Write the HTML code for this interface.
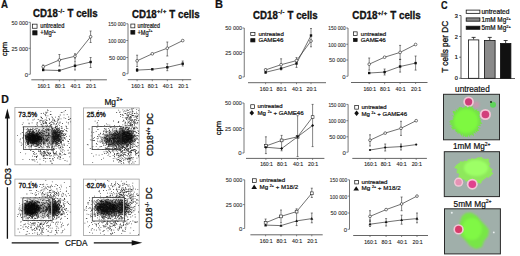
<!DOCTYPE html><html><head><meta charset="utf-8"><style>html,body{margin:0;padding:0;background:#fff;width:520px;height:256px;overflow:hidden}svg{display:block}</style></head><body>
<svg width="520" height="256" viewBox="0 0 520 256" font-family='"Liberation Sans", sans-serif'>
<style>text{stroke:#000;stroke-width:0.2px;paint-order:stroke}.h{stroke-width:0.3px}.t{stroke:#333;stroke-width:0.12px}</style>
<defs><filter id="bl" x="-30%" y="-30%" width="160%" height="160%"><feGaussianBlur stdDeviation="0.6"/></filter><filter id="bl2" x="-30%" y="-30%" width="160%" height="160%"><feGaussianBlur stdDeviation="1.2"/></filter><radialGradient id="pk" cx="50%" cy="50%" r="50%"><stop offset="0" stop-color="#e8407a"/><stop offset="0.55" stop-color="#e04a85"/><stop offset="0.75" stop-color="#f4a6c4"/><stop offset="1" stop-color="#f3c3d3" stop-opacity="0.2"/></radialGradient><radialGradient id="gr" cx="50%" cy="50%" r="50%"><stop offset="0" stop-color="#8dff55"/><stop offset="0.8" stop-color="#7cf83f"/><stop offset="1" stop-color="#76ef3e"/></radialGradient></defs>
<rect width="520" height="256" fill="#fff"/>
<text x="0.90" y="8.10" font-size="11" font-weight="bold" text-anchor="start" fill="#111" textLength="7.00" lengthAdjust="spacingAndGlyphs">A</text>
<text x="214.90" y="8.40" font-size="11" font-weight="bold" text-anchor="start" fill="#111" textLength="8.00" lengthAdjust="spacingAndGlyphs">B</text>
<text x="440.90" y="8.60" font-size="10.5" font-weight="bold" text-anchor="start" fill="#111" textLength="6.60" lengthAdjust="spacingAndGlyphs">C</text>
<text x="1.30" y="103.30" font-size="11" font-weight="bold" text-anchor="start" fill="#111" textLength="7.60" lengthAdjust="spacingAndGlyphs">D</text>
<text class="h" x="33.10" y="17.20" font-size="10.3" font-weight="bold" fill="#111" textLength="64.60" lengthAdjust="spacingAndGlyphs">CD18<tspan font-size="5.97" dx="0.4" dy="-4.33" letter-spacing="0.5">-/-</tspan><tspan dy="4.33"> T cells</tspan></text>
<text class="h" x="131.90" y="17.80" font-size="10.3" font-weight="bold" fill="#111" textLength="67.70" lengthAdjust="spacingAndGlyphs">CD18<tspan font-size="5.97" dx="0.4" dy="-4.33" letter-spacing="0.5">+/+</tspan><tspan dy="4.33"> T cells</tspan></text>
<text class="h" transform="translate(7.00 49.00) rotate(-90)" x="0" y="0" font-size="8.0" font-weight="normal" text-anchor="middle" fill="#111" textLength="14.50" lengthAdjust="spacingAndGlyphs">cpm</text>
<path d="M30.30 22.30V74.30" stroke="#555" stroke-width="0.8" fill="none"/>
<path d="M28.50 22.30H30.30" stroke="#555" stroke-width="0.7"/>
<text class="t" x="28.00" y="24.70" font-size="6.0" font-weight="normal" text-anchor="end" fill="#333" textLength="16.60" lengthAdjust="spacingAndGlyphs">50 000</text>
<path d="M28.50 48.30H30.30" stroke="#555" stroke-width="0.7"/>
<text class="t" x="28.00" y="50.70" font-size="6.0" font-weight="normal" text-anchor="end" fill="#333" textLength="16.60" lengthAdjust="spacingAndGlyphs">25 000</text>
<path d="M28.50 74.30H30.30" stroke="#555" stroke-width="0.7"/>
<text class="t" x="28.00" y="76.70" font-size="6.0" font-weight="normal" text-anchor="end" fill="#333">0</text>
<path d="M31.30 79.80H106.90" stroke="#555" stroke-width="0.9" fill="none"/>
<path d="M43.20 79.80V81.30" stroke="#555" stroke-width="0.7"/>
<text class="t" x="43.80" y="87.50" font-size="6.0" font-weight="normal" text-anchor="middle" fill="#222" textLength="12.75" lengthAdjust="spacingAndGlyphs">160:1</text>
<path d="M59.40 79.80V81.30" stroke="#555" stroke-width="0.7"/>
<text class="t" x="60.00" y="87.50" font-size="6.0" font-weight="normal" text-anchor="middle" fill="#222" textLength="10.20" lengthAdjust="spacingAndGlyphs">80:1</text>
<path d="M75.00 79.80V81.30" stroke="#555" stroke-width="0.7"/>
<text class="t" x="75.60" y="87.50" font-size="6.0" font-weight="normal" text-anchor="middle" fill="#222" textLength="10.20" lengthAdjust="spacingAndGlyphs">40:1</text>
<path d="M90.60 79.80V81.30" stroke="#555" stroke-width="0.7"/>
<text class="t" x="91.20" y="87.50" font-size="6.0" font-weight="normal" text-anchor="middle" fill="#222" textLength="10.20" lengthAdjust="spacingAndGlyphs">20:1</text>
<polyline points="43.20,66.75 59.40,60.00 75.00,56.25 90.60,36.75" fill="none" stroke="#333" stroke-width="0.7"/>
<polyline points="43.20,70.00 59.40,70.50 75.00,65.75 90.60,62.00" fill="none" stroke="#333" stroke-width="0.7"/>
<path d="M43.20 65.00V68.50M42.20 65.00H44.20M42.20 68.50H44.20" stroke="#333" stroke-width="0.6" fill="none"/>
<path d="M59.40 54.50V66.00M58.40 54.50H60.40M58.40 66.00H60.40" stroke="#333" stroke-width="0.6" fill="none"/>
<path d="M75.00 53.75V59.00M74.00 53.75H76.00M74.00 59.00H76.00" stroke="#333" stroke-width="0.6" fill="none"/>
<path d="M90.60 31.00V42.50M89.60 31.00H91.60M89.60 42.50H91.60" stroke="#333" stroke-width="0.6" fill="none"/>
<path d="M75.00 61.00V70.00M74.00 61.00H76.00M74.00 70.00H76.00" stroke="#333" stroke-width="0.6" fill="none"/>
<path d="M90.60 57.50V67.50M89.60 57.50H91.60M89.60 67.50H91.60" stroke="#333" stroke-width="0.6" fill="none"/>
<circle cx="43.20" cy="66.75" r="1.35" fill="#fff" stroke="#222" stroke-width="0.6"/>
<circle cx="59.40" cy="60.00" r="1.35" fill="#fff" stroke="#222" stroke-width="0.6"/>
<circle cx="75.00" cy="56.25" r="1.35" fill="#fff" stroke="#222" stroke-width="0.6"/>
<circle cx="90.60" cy="36.75" r="1.35" fill="#fff" stroke="#222" stroke-width="0.6"/>
<rect x="42.00" y="68.80" width="2.4" height="2.4" fill="#111"/>
<rect x="58.20" y="69.30" width="2.4" height="2.4" fill="#111"/>
<rect x="73.80" y="64.55" width="2.4" height="2.4" fill="#111"/>
<rect x="89.40" y="60.80" width="2.4" height="2.4" fill="#111"/>
<rect x="32.55" y="24.15" width="4.50" height="4.10" fill="#fff" stroke="#111" stroke-width="0.7"/>
<rect x="32.75" y="30.75" width="4.30" height="4.20" fill="#111" stroke="#111" stroke-width="0.7"/>
<text x="40.30" y="28.40" font-size="6.9" font-weight="normal" text-anchor="start" fill="#111" textLength="24.00" lengthAdjust="spacingAndGlyphs">untreated</text>
<text x="40.30" y="35.00" font-size="6.9" font-weight="normal" text-anchor="start" fill="#111" textLength="15.40" lengthAdjust="spacingAndGlyphs">+Mg<tspan font-size="4.2" dy="-2.4">2+</tspan></text>
<path d="M128.00 23.75V73.75" stroke="#555" stroke-width="0.8" fill="none"/>
<path d="M126.20 23.75H128.00" stroke="#555" stroke-width="0.7"/>
<text class="t" x="125.70" y="26.15" font-size="6.0" font-weight="normal" text-anchor="end" fill="#333" textLength="17.40" lengthAdjust="spacingAndGlyphs">150 000</text>
<path d="M126.20 40.50H128.00" stroke="#555" stroke-width="0.7"/>
<text class="t" x="125.70" y="42.90" font-size="6.0" font-weight="normal" text-anchor="end" fill="#333" textLength="17.40" lengthAdjust="spacingAndGlyphs">100 000</text>
<path d="M126.20 57.50H128.00" stroke="#555" stroke-width="0.7"/>
<text class="t" x="125.70" y="59.90" font-size="6.0" font-weight="normal" text-anchor="end" fill="#333" textLength="16.60" lengthAdjust="spacingAndGlyphs">50 000</text>
<path d="M126.20 73.75H128.00" stroke="#555" stroke-width="0.7"/>
<text class="t" x="125.70" y="76.15" font-size="6.0" font-weight="normal" text-anchor="end" fill="#333">0</text>
<path d="M127.80 79.70H191.20" stroke="#555" stroke-width="0.9" fill="none"/>
<path d="M137.10 79.70V81.20" stroke="#555" stroke-width="0.7"/>
<text class="t" x="137.70" y="87.50" font-size="6.0" font-weight="normal" text-anchor="middle" fill="#222" textLength="12.75" lengthAdjust="spacingAndGlyphs">160:1</text>
<path d="M152.30 79.70V81.20" stroke="#555" stroke-width="0.7"/>
<text class="t" x="152.90" y="87.50" font-size="6.0" font-weight="normal" text-anchor="middle" fill="#222" textLength="10.20" lengthAdjust="spacingAndGlyphs">80:1</text>
<path d="M167.30 79.70V81.20" stroke="#555" stroke-width="0.7"/>
<text class="t" x="167.90" y="87.50" font-size="6.0" font-weight="normal" text-anchor="middle" fill="#222" textLength="10.20" lengthAdjust="spacingAndGlyphs">40:1</text>
<path d="M182.70 79.70V81.20" stroke="#555" stroke-width="0.7"/>
<text class="t" x="183.30" y="87.50" font-size="6.0" font-weight="normal" text-anchor="middle" fill="#222" textLength="10.20" lengthAdjust="spacingAndGlyphs">20:1</text>
<polyline points="137.10,60.80 152.30,53.80 167.30,48.20 182.70,40.60" fill="none" stroke="#333" stroke-width="0.7"/>
<polyline points="137.10,70.10 152.30,69.30 167.30,67.30 182.70,63.70" fill="none" stroke="#333" stroke-width="0.7"/>
<path d="M137.10 55.20V66.50M136.10 55.20H138.10M136.10 66.50H138.10" stroke="#333" stroke-width="0.6" fill="none"/>
<path d="M167.30 42.00V56.00M166.30 42.00H168.30M166.30 56.00H168.30" stroke="#333" stroke-width="0.6" fill="none"/>
<path d="M137.10 68.50V71.50M136.10 68.50H138.10M136.10 71.50H138.10" stroke="#333" stroke-width="0.6" fill="none"/>
<path d="M167.30 63.70V70.70M166.30 63.70H168.30M166.30 70.70H168.30" stroke="#333" stroke-width="0.6" fill="none"/>
<path d="M182.70 61.00V66.00M181.70 61.00H183.70M181.70 66.00H183.70" stroke="#333" stroke-width="0.6" fill="none"/>
<circle cx="137.10" cy="60.80" r="1.35" fill="#fff" stroke="#222" stroke-width="0.6"/>
<circle cx="152.30" cy="53.80" r="1.35" fill="#fff" stroke="#222" stroke-width="0.6"/>
<circle cx="167.30" cy="48.20" r="1.35" fill="#fff" stroke="#222" stroke-width="0.6"/>
<circle cx="182.70" cy="40.60" r="1.35" fill="#fff" stroke="#222" stroke-width="0.6"/>
<rect x="135.90" y="68.90" width="2.4" height="2.4" fill="#111"/>
<rect x="151.10" y="68.10" width="2.4" height="2.4" fill="#111"/>
<rect x="166.10" y="66.10" width="2.4" height="2.4" fill="#111"/>
<rect x="181.50" y="62.50" width="2.4" height="2.4" fill="#111"/>
<rect x="130.85" y="24.05" width="4.00" height="3.80" fill="#fff" stroke="#111" stroke-width="0.7"/>
<rect x="130.85" y="30.35" width="4.00" height="3.80" fill="#111" stroke="#111" stroke-width="0.7"/>
<text x="137.50" y="28.20" font-size="6.9" font-weight="normal" text-anchor="start" fill="#111" textLength="22.50" lengthAdjust="spacingAndGlyphs">untreated</text>
<text x="137.50" y="34.60" font-size="6.9" font-weight="normal" text-anchor="start" fill="#111" textLength="15.00" lengthAdjust="spacingAndGlyphs">+Mg<tspan font-size="4.2" dy="-2.4">2+</tspan></text>
<text class="h" x="253.10" y="18.60" font-size="10.3" font-weight="bold" fill="#111" textLength="64.60" lengthAdjust="spacingAndGlyphs">CD18<tspan font-size="5.97" dx="0.4" dy="-4.33" letter-spacing="0.5">-/-</tspan><tspan dy="4.33"> T cells</tspan></text>
<text class="h" x="352.30" y="18.90" font-size="10.3" font-weight="bold" fill="#111" textLength="68.50" lengthAdjust="spacingAndGlyphs">CD18<tspan font-size="5.97" dx="0.4" dy="-4.33" letter-spacing="0.5">+/+</tspan><tspan dy="4.33"> T cells</tspan></text>
<text class="h" transform="translate(221.00 128.00) rotate(-90)" x="0" y="0" font-size="8.0" font-weight="normal" text-anchor="middle" fill="#111" textLength="14.50" lengthAdjust="spacingAndGlyphs">cpm</text>
<path d="M244.25 28.00V77.00" stroke="#555" stroke-width="0.8" fill="none"/>
<path d="M242.45 28.00H244.25" stroke="#555" stroke-width="0.7"/>
<text class="t" x="241.95" y="30.40" font-size="6.0" font-weight="normal" text-anchor="end" fill="#333" textLength="16.60" lengthAdjust="spacingAndGlyphs">50 000</text>
<path d="M242.45 52.50H244.25" stroke="#555" stroke-width="0.7"/>
<text class="t" x="241.95" y="54.90" font-size="6.0" font-weight="normal" text-anchor="end" fill="#333" textLength="16.60" lengthAdjust="spacingAndGlyphs">25 000</text>
<path d="M242.45 77.00H244.25" stroke="#555" stroke-width="0.7"/>
<text class="t" x="241.95" y="79.40" font-size="6.0" font-weight="normal" text-anchor="end" fill="#333">0</text>
<path d="M248.00 82.70H326.00" stroke="#555" stroke-width="0.9" fill="none"/>
<path d="M265.60 82.70V84.20" stroke="#555" stroke-width="0.7"/>
<text class="t" x="266.20" y="90.50" font-size="6.0" font-weight="normal" text-anchor="middle" fill="#222" textLength="12.75" lengthAdjust="spacingAndGlyphs">160:1</text>
<path d="M281.10 82.70V84.20" stroke="#555" stroke-width="0.7"/>
<text class="t" x="281.70" y="90.50" font-size="6.0" font-weight="normal" text-anchor="middle" fill="#222" textLength="10.20" lengthAdjust="spacingAndGlyphs">80:1</text>
<path d="M296.50 82.70V84.20" stroke="#555" stroke-width="0.7"/>
<text class="t" x="297.10" y="90.50" font-size="6.0" font-weight="normal" text-anchor="middle" fill="#222" textLength="10.20" lengthAdjust="spacingAndGlyphs">40:1</text>
<path d="M311.00 82.70V84.20" stroke="#555" stroke-width="0.7"/>
<text class="t" x="311.60" y="90.50" font-size="6.0" font-weight="normal" text-anchor="middle" fill="#222" textLength="10.20" lengthAdjust="spacingAndGlyphs">20:1</text>
<polyline points="265.60,69.90 281.10,64.70 296.50,60.60 311.00,41.00" fill="none" stroke="#333" stroke-width="0.7"/>
<polyline points="265.60,72.30 281.10,68.50 296.50,63.50 311.00,35.50" fill="none" stroke="#333" stroke-width="0.7"/>
<path d="M265.60 68.80V73.40M264.60 68.80H266.60M264.60 73.40H266.60" stroke="#333" stroke-width="0.6" fill="none"/>
<path d="M281.10 58.80V69.90M280.10 58.80H282.10M280.10 69.90H282.10" stroke="#333" stroke-width="0.6" fill="none"/>
<path d="M296.50 57.60V67.40M295.50 57.60H297.50M295.50 67.40H297.50" stroke="#333" stroke-width="0.6" fill="none"/>
<path d="M311.00 28.50V46.80M310.00 28.50H312.00M310.00 46.80H312.00" stroke="#333" stroke-width="0.6" fill="none"/>
<circle cx="265.60" cy="69.90" r="1.35" fill="#fff" stroke="#222" stroke-width="0.6"/>
<circle cx="281.10" cy="64.70" r="1.35" fill="#fff" stroke="#222" stroke-width="0.6"/>
<circle cx="296.50" cy="60.60" r="1.35" fill="#fff" stroke="#222" stroke-width="0.6"/>
<circle cx="311.00" cy="41.00" r="1.35" fill="#fff" stroke="#222" stroke-width="0.6"/>
<rect x="264.40" y="71.10" width="2.4" height="2.4" fill="#111"/>
<rect x="279.90" y="67.30" width="2.4" height="2.4" fill="#111"/>
<rect x="295.30" y="62.30" width="2.4" height="2.4" fill="#111"/>
<rect x="309.80" y="34.30" width="2.4" height="2.4" fill="#111"/>
<rect x="250.75" y="32.35" width="4.20" height="3.30" fill="#fff" stroke="#111" stroke-width="0.7"/>
<rect x="250.75" y="38.65" width="4.20" height="3.30" fill="#111" stroke="#111" stroke-width="0.7"/>
<text x="258.40" y="35.80" font-size="6.2" font-weight="normal" text-anchor="start" fill="#111" textLength="25.40" lengthAdjust="spacingAndGlyphs">untreated</text>
<text x="258.40" y="41.60" font-size="6.2" font-weight="normal" text-anchor="start" fill="#111" textLength="25.00" lengthAdjust="spacingAndGlyphs">GAME46</text>
<path d="M348.00 28.00V76.25" stroke="#555" stroke-width="0.8" fill="none"/>
<path d="M346.20 28.00H348.00" stroke="#555" stroke-width="0.7"/>
<text class="t" x="345.70" y="30.40" font-size="6.0" font-weight="normal" text-anchor="end" fill="#333" textLength="17.40" lengthAdjust="spacingAndGlyphs">150 000</text>
<path d="M346.20 44.25H348.00" stroke="#555" stroke-width="0.7"/>
<text class="t" x="345.70" y="46.65" font-size="6.0" font-weight="normal" text-anchor="end" fill="#333" textLength="17.40" lengthAdjust="spacingAndGlyphs">100 000</text>
<path d="M346.20 60.00H348.00" stroke="#555" stroke-width="0.7"/>
<text class="t" x="345.70" y="62.40" font-size="6.0" font-weight="normal" text-anchor="end" fill="#333" textLength="16.60" lengthAdjust="spacingAndGlyphs">50 000</text>
<path d="M346.20 76.25H348.00" stroke="#555" stroke-width="0.7"/>
<text class="t" x="345.70" y="78.65" font-size="6.0" font-weight="normal" text-anchor="end" fill="#333">0</text>
<path d="M351.00 82.50H427.50" stroke="#555" stroke-width="0.9" fill="none"/>
<path d="M369.20 82.50V84.00" stroke="#555" stroke-width="0.7"/>
<text class="t" x="369.80" y="90.50" font-size="6.0" font-weight="normal" text-anchor="middle" fill="#222" textLength="12.75" lengthAdjust="spacingAndGlyphs">160:1</text>
<path d="M384.60 82.50V84.00" stroke="#555" stroke-width="0.7"/>
<text class="t" x="385.20" y="90.50" font-size="6.0" font-weight="normal" text-anchor="middle" fill="#222" textLength="10.20" lengthAdjust="spacingAndGlyphs">80:1</text>
<path d="M400.10 82.50V84.00" stroke="#555" stroke-width="0.7"/>
<text class="t" x="400.70" y="90.50" font-size="6.0" font-weight="normal" text-anchor="middle" fill="#222" textLength="10.20" lengthAdjust="spacingAndGlyphs">40:1</text>
<path d="M415.60 82.50V84.00" stroke="#555" stroke-width="0.7"/>
<text class="t" x="416.20" y="90.50" font-size="6.0" font-weight="normal" text-anchor="middle" fill="#222" textLength="10.20" lengthAdjust="spacingAndGlyphs">20:1</text>
<polyline points="369.20,64.20 384.60,57.20 400.10,52.40 415.60,44.50" fill="none" stroke="#333" stroke-width="0.7"/>
<polyline points="369.20,73.00 384.60,72.10 400.10,66.50 415.60,63.10" fill="none" stroke="#333" stroke-width="0.7"/>
<path d="M369.20 58.00V70.10M368.20 58.00H370.20M368.20 70.10H370.20" stroke="#333" stroke-width="0.6" fill="none"/>
<path d="M400.10 45.40V59.40M399.10 45.40H401.10M399.10 59.40H401.10" stroke="#333" stroke-width="0.6" fill="none"/>
<path d="M384.60 69.00V75.00M383.60 69.00H385.60M383.60 75.00H385.60" stroke="#333" stroke-width="0.6" fill="none"/>
<path d="M400.10 59.40V72.10M399.10 59.40H401.10M399.10 72.10H401.10" stroke="#333" stroke-width="0.6" fill="none"/>
<path d="M415.60 56.00V70.10M414.60 56.00H416.60M414.60 70.10H416.60" stroke="#333" stroke-width="0.6" fill="none"/>
<circle cx="369.20" cy="64.20" r="1.35" fill="#fff" stroke="#222" stroke-width="0.6"/>
<circle cx="384.60" cy="57.20" r="1.35" fill="#fff" stroke="#222" stroke-width="0.6"/>
<circle cx="400.10" cy="52.40" r="1.35" fill="#fff" stroke="#222" stroke-width="0.6"/>
<circle cx="415.60" cy="44.50" r="1.35" fill="#fff" stroke="#222" stroke-width="0.6"/>
<rect x="368.00" y="71.80" width="2.4" height="2.4" fill="#111"/>
<rect x="383.40" y="70.90" width="2.4" height="2.4" fill="#111"/>
<rect x="398.90" y="65.30" width="2.4" height="2.4" fill="#111"/>
<rect x="414.40" y="61.90" width="2.4" height="2.4" fill="#111"/>
<rect x="353.45" y="31.85" width="3.70" height="3.50" fill="#fff" stroke="#111" stroke-width="0.7"/>
<rect x="353.45" y="38.35" width="3.70" height="3.20" fill="#111" stroke="#111" stroke-width="0.7"/>
<text x="360.80" y="35.70" font-size="6.2" font-weight="normal" text-anchor="start" fill="#111" textLength="25.40" lengthAdjust="spacingAndGlyphs">untreated</text>
<text x="360.80" y="41.50" font-size="6.2" font-weight="normal" text-anchor="start" fill="#111" textLength="25.00" lengthAdjust="spacingAndGlyphs">GAME46</text>
<path d="M244.00 103.00V153.00" stroke="#555" stroke-width="0.8" fill="none"/>
<path d="M242.20 103.00H244.00" stroke="#555" stroke-width="0.7"/>
<text class="t" x="241.70" y="105.40" font-size="6.0" font-weight="normal" text-anchor="end" fill="#333" textLength="16.60" lengthAdjust="spacingAndGlyphs">50 000</text>
<path d="M242.20 128.50H244.00" stroke="#555" stroke-width="0.7"/>
<text class="t" x="241.70" y="130.90" font-size="6.0" font-weight="normal" text-anchor="end" fill="#333" textLength="16.60" lengthAdjust="spacingAndGlyphs">25 000</text>
<path d="M242.20 153.00H244.00" stroke="#555" stroke-width="0.7"/>
<text class="t" x="241.70" y="155.40" font-size="6.0" font-weight="normal" text-anchor="end" fill="#333">0</text>
<path d="M246.00 158.40H324.40" stroke="#555" stroke-width="0.9" fill="none"/>
<path d="M265.90 158.40V159.90" stroke="#555" stroke-width="0.7"/>
<text class="t" x="266.50" y="166.00" font-size="6.0" font-weight="normal" text-anchor="middle" fill="#222" textLength="12.75" lengthAdjust="spacingAndGlyphs">160:1</text>
<path d="M281.60 158.40V159.90" stroke="#555" stroke-width="0.7"/>
<text class="t" x="282.20" y="166.00" font-size="6.0" font-weight="normal" text-anchor="middle" fill="#222" textLength="10.20" lengthAdjust="spacingAndGlyphs">80:1</text>
<path d="M297.60 158.40V159.90" stroke="#555" stroke-width="0.7"/>
<text class="t" x="298.20" y="166.00" font-size="6.0" font-weight="normal" text-anchor="middle" fill="#222" textLength="10.20" lengthAdjust="spacingAndGlyphs">40:1</text>
<path d="M312.60 158.40V159.90" stroke="#555" stroke-width="0.7"/>
<text class="t" x="313.20" y="166.00" font-size="6.0" font-weight="normal" text-anchor="middle" fill="#222" textLength="10.20" lengthAdjust="spacingAndGlyphs">20:1</text>
<polyline points="265.90,146.00 281.60,140.40 297.60,136.80 312.60,117.10" fill="none" stroke="#333" stroke-width="0.7"/>
<polyline points="265.90,147.20 281.60,148.60 297.60,136.80 312.60,125.50" fill="none" stroke="#333" stroke-width="0.7"/>
<path d="M265.90 136.80V153.60M264.90 136.80H266.90M264.90 153.60H266.90" stroke="#333" stroke-width="0.6" fill="none"/>
<path d="M281.60 135.40V150.80M280.60 135.40H282.60M280.60 150.80H282.60" stroke="#333" stroke-width="0.6" fill="none"/>
<path d="M297.60 115.70V156.50M296.60 115.70H298.60M296.60 156.50H298.60" stroke="#333" stroke-width="0.6" fill="none"/>
<path d="M312.60 104.40V146.60M311.60 104.40H313.60M311.60 146.60H313.60" stroke="#333" stroke-width="0.6" fill="none"/>
<rect x="264.50" y="144.60" width="2.8" height="2.8" fill="#fff" stroke="#222" stroke-width="0.6"/>
<rect x="280.20" y="139.00" width="2.8" height="2.8" fill="#fff" stroke="#222" stroke-width="0.6"/>
<rect x="296.20" y="135.40" width="2.8" height="2.8" fill="#fff" stroke="#222" stroke-width="0.6"/>
<rect x="311.20" y="115.70" width="2.8" height="2.8" fill="#fff" stroke="#222" stroke-width="0.6"/>
<path d="M265.90 145.70L267.40 147.20L265.90 148.70L264.40 147.20Z" fill="#111"/>
<path d="M281.60 147.10L283.10 148.60L281.60 150.10L280.10 148.60Z" fill="#111"/>
<path d="M297.60 135.30L299.10 136.80L297.60 138.30L296.10 136.80Z" fill="#111"/>
<path d="M312.60 124.00L314.10 125.50L312.60 127.00L311.10 125.50Z" fill="#111"/>
<rect x="250.75" y="104.75" width="3.60" height="3.60" fill="#fff" stroke="#111" stroke-width="0.7"/>
<path d="M251.8 110.3L254.1 112.9L251.8 115.5L249.5 112.9Z" fill="#111"/>
<text x="257.50" y="108.40" font-size="6.2" font-weight="normal" text-anchor="start" fill="#111" textLength="25.20" lengthAdjust="spacingAndGlyphs">untreated</text>
<text x="257.50" y="115.10" font-size="6.2" font-weight="normal" text-anchor="start" fill="#111" textLength="46.20" lengthAdjust="spacingAndGlyphs">Mg <tspan font-size="3.6" dy="-2">2+</tspan><tspan dy="2"> + GAME46</tspan></text>
<path d="M348.10 104.40V152.20" stroke="#555" stroke-width="0.8" fill="none"/>
<path d="M346.30 104.40H348.10" stroke="#555" stroke-width="0.7"/>
<text class="t" x="345.80" y="106.80" font-size="6.0" font-weight="normal" text-anchor="end" fill="#333" textLength="17.40" lengthAdjust="spacingAndGlyphs">150 000</text>
<path d="M346.30 120.70H348.10" stroke="#555" stroke-width="0.7"/>
<text class="t" x="345.80" y="123.10" font-size="6.0" font-weight="normal" text-anchor="end" fill="#333" textLength="17.40" lengthAdjust="spacingAndGlyphs">100 000</text>
<path d="M346.30 136.80H348.10" stroke="#555" stroke-width="0.7"/>
<text class="t" x="345.80" y="139.20" font-size="6.0" font-weight="normal" text-anchor="end" fill="#333" textLength="16.60" lengthAdjust="spacingAndGlyphs">50 000</text>
<path d="M346.30 152.20H348.10" stroke="#555" stroke-width="0.7"/>
<text class="t" x="345.80" y="154.60" font-size="6.0" font-weight="normal" text-anchor="end" fill="#333">0</text>
<path d="M352.30 158.40H426.90" stroke="#555" stroke-width="0.9" fill="none"/>
<path d="M370.00 158.40V159.90" stroke="#555" stroke-width="0.7"/>
<text class="t" x="370.60" y="166.00" font-size="6.0" font-weight="normal" text-anchor="middle" fill="#222" textLength="12.75" lengthAdjust="spacingAndGlyphs">160:1</text>
<path d="M385.20 158.40V159.90" stroke="#555" stroke-width="0.7"/>
<text class="t" x="385.80" y="166.00" font-size="6.0" font-weight="normal" text-anchor="middle" fill="#222" textLength="10.20" lengthAdjust="spacingAndGlyphs">80:1</text>
<path d="M401.00 158.40V159.90" stroke="#555" stroke-width="0.7"/>
<text class="t" x="401.60" y="166.00" font-size="6.0" font-weight="normal" text-anchor="middle" fill="#222" textLength="10.20" lengthAdjust="spacingAndGlyphs">40:1</text>
<path d="M416.20 158.40V159.90" stroke="#555" stroke-width="0.7"/>
<text class="t" x="416.80" y="166.00" font-size="6.0" font-weight="normal" text-anchor="middle" fill="#222" textLength="10.20" lengthAdjust="spacingAndGlyphs">20:1</text>
<polyline points="370.00,140.20 385.20,133.10 401.00,128.30 416.20,120.70" fill="none" stroke="#333" stroke-width="0.7"/>
<polyline points="370.00,150.00 385.20,147.50 401.00,146.60 416.20,144.60" fill="none" stroke="#333" stroke-width="0.7"/>
<path d="M370.00 134.80V146.00M369.00 134.80H371.00M369.00 146.00H371.00" stroke="#333" stroke-width="0.6" fill="none"/>
<path d="M401.00 121.30V135.40M400.00 121.30H402.00M400.00 135.40H402.00" stroke="#333" stroke-width="0.6" fill="none"/>
<path d="M385.20 144.00V151.00M384.20 144.00H386.20M384.20 151.00H386.20" stroke="#333" stroke-width="0.6" fill="none"/>
<path d="M401.00 144.00V150.00M400.00 144.00H402.00M400.00 150.00H402.00" stroke="#333" stroke-width="0.6" fill="none"/>
<circle cx="370.00" cy="140.20" r="1.35" fill="#fff" stroke="#222" stroke-width="0.6"/>
<circle cx="385.20" cy="133.10" r="1.35" fill="#fff" stroke="#222" stroke-width="0.6"/>
<circle cx="401.00" cy="128.30" r="1.35" fill="#fff" stroke="#222" stroke-width="0.6"/>
<circle cx="416.20" cy="120.70" r="1.35" fill="#fff" stroke="#222" stroke-width="0.6"/>
<circle cx="370.00" cy="150.00" r="1.1" fill="#111"/>
<circle cx="385.20" cy="147.50" r="1.1" fill="#111"/>
<circle cx="401.00" cy="146.60" r="1.1" fill="#111"/>
<circle cx="416.20" cy="144.60" r="1.1" fill="#111"/>
<rect x="354.75" y="105.55" width="3.60" height="3.60" fill="#fff" stroke="#111" stroke-width="0.7"/>
<path d="M356.6 110.6L358.9 113.3L356.6 116.0L354.3 113.3Z" fill="#111"/>
<text x="361.50" y="109.20" font-size="6.2" font-weight="normal" text-anchor="start" fill="#111" textLength="25.20" lengthAdjust="spacingAndGlyphs">untreated</text>
<text x="361.50" y="115.60" font-size="6.2" font-weight="normal" text-anchor="start" fill="#111" textLength="45.60" lengthAdjust="spacingAndGlyphs">Mg <tspan font-size="3.6" dy="-2">2+</tspan><tspan dy="2"> + GAME46</tspan></text>
<path d="M244.70 179.80V228.50" stroke="#555" stroke-width="0.8" fill="none"/>
<path d="M242.90 179.80H244.70" stroke="#555" stroke-width="0.7"/>
<text class="t" x="242.40" y="182.20" font-size="6.0" font-weight="normal" text-anchor="end" fill="#333" textLength="16.60" lengthAdjust="spacingAndGlyphs">50 000</text>
<path d="M242.90 204.60H244.70" stroke="#555" stroke-width="0.7"/>
<text class="t" x="242.40" y="207.00" font-size="6.0" font-weight="normal" text-anchor="end" fill="#333" textLength="16.60" lengthAdjust="spacingAndGlyphs">25 000</text>
<path d="M242.90 228.50H244.70" stroke="#555" stroke-width="0.7"/>
<text class="t" x="242.40" y="230.90" font-size="6.0" font-weight="normal" text-anchor="end" fill="#333">0</text>
<path d="M250.40 234.80H322.70" stroke="#555" stroke-width="0.9" fill="none"/>
<path d="M265.60 234.80V236.30" stroke="#555" stroke-width="0.7"/>
<text class="t" x="266.20" y="243.00" font-size="6.0" font-weight="normal" text-anchor="middle" fill="#222" textLength="12.75" lengthAdjust="spacingAndGlyphs">160:1</text>
<path d="M281.00 234.80V236.30" stroke="#555" stroke-width="0.7"/>
<text class="t" x="281.60" y="243.00" font-size="6.0" font-weight="normal" text-anchor="middle" fill="#222" textLength="10.20" lengthAdjust="spacingAndGlyphs">80:1</text>
<path d="M296.60 234.80V236.30" stroke="#555" stroke-width="0.7"/>
<text class="t" x="297.20" y="243.00" font-size="6.0" font-weight="normal" text-anchor="middle" fill="#222" textLength="10.20" lengthAdjust="spacingAndGlyphs">40:1</text>
<path d="M311.80 234.80V236.30" stroke="#555" stroke-width="0.7"/>
<text class="t" x="312.40" y="243.00" font-size="6.0" font-weight="normal" text-anchor="middle" fill="#222" textLength="10.20" lengthAdjust="spacingAndGlyphs">20:1</text>
<polyline points="265.60,222.80 281.00,216.40 296.60,211.60 311.80,193.30" fill="none" stroke="#333" stroke-width="0.7"/>
<polyline points="265.60,225.10 281.00,225.60 296.60,220.90 311.80,218.60" fill="none" stroke="#333" stroke-width="0.7"/>
<path d="M265.60 219.00V226.00M264.60 219.00H266.60M264.60 226.00H266.60" stroke="#333" stroke-width="0.6" fill="none"/>
<path d="M281.00 210.00V222.80M280.00 210.00H282.00M280.00 222.80H282.00" stroke="#333" stroke-width="0.6" fill="none"/>
<path d="M296.60 208.80V225.60M295.60 208.80H297.60M295.60 225.60H297.60" stroke="#333" stroke-width="0.6" fill="none"/>
<path d="M311.80 188.20V197.50M310.80 188.20H312.80M310.80 197.50H312.80" stroke="#333" stroke-width="0.6" fill="none"/>
<path d="M311.80 213.00V222.80M310.80 213.00H312.80M310.80 222.80H312.80" stroke="#333" stroke-width="0.6" fill="none"/>
<rect x="264.20" y="221.40" width="2.8" height="2.8" fill="#fff" stroke="#222" stroke-width="0.6"/>
<rect x="279.60" y="215.00" width="2.8" height="2.8" fill="#fff" stroke="#222" stroke-width="0.6"/>
<rect x="295.20" y="210.20" width="2.8" height="2.8" fill="#fff" stroke="#222" stroke-width="0.6"/>
<rect x="310.40" y="191.90" width="2.8" height="2.8" fill="#fff" stroke="#222" stroke-width="0.6"/>
<path d="M265.60 223.60L267.10 226.20L264.10 226.20Z" fill="#111"/>
<path d="M281.00 224.10L282.50 226.70L279.50 226.70Z" fill="#111"/>
<path d="M296.60 219.40L298.10 222.00L295.10 222.00Z" fill="#111"/>
<path d="M311.80 217.10L313.30 219.70L310.30 219.70Z" fill="#111"/>
<rect x="252.35" y="178.75" width="3.90" height="3.60" fill="#fff" stroke="#111" stroke-width="0.7"/>
<path d="M254.2 184.5L257.0 189.1L251.4 189.1Z" fill="#111"/>
<text x="259.50" y="182.40" font-size="6.2" font-weight="normal" text-anchor="start" fill="#111" textLength="25.60" lengthAdjust="spacingAndGlyphs">untreated</text>
<text x="259.50" y="189.00" font-size="6.2" font-weight="normal" text-anchor="start" fill="#111" textLength="38.70" lengthAdjust="spacingAndGlyphs">Mg <tspan font-size="3.6" dy="-2">2+</tspan><tspan dy="2"> + M18/2</tspan></text>
<path d="M349.50 179.80V229.30" stroke="#555" stroke-width="0.8" fill="none"/>
<path d="M347.70 179.80H349.50" stroke="#555" stroke-width="0.7"/>
<text class="t" x="347.20" y="182.20" font-size="6.0" font-weight="normal" text-anchor="end" fill="#333" textLength="17.40" lengthAdjust="spacingAndGlyphs">150 000</text>
<path d="M347.70 196.10H349.50" stroke="#555" stroke-width="0.7"/>
<text class="t" x="347.20" y="198.50" font-size="6.0" font-weight="normal" text-anchor="end" fill="#333" textLength="17.40" lengthAdjust="spacingAndGlyphs">100 000</text>
<path d="M347.70 213.00H349.50" stroke="#555" stroke-width="0.7"/>
<text class="t" x="347.20" y="215.40" font-size="6.0" font-weight="normal" text-anchor="end" fill="#333" textLength="16.60" lengthAdjust="spacingAndGlyphs">50 000</text>
<path d="M347.70 229.30H349.50" stroke="#555" stroke-width="0.7"/>
<text class="t" x="347.20" y="231.70" font-size="6.0" font-weight="normal" text-anchor="end" fill="#333">0</text>
<path d="M353.20 235.50H428.00" stroke="#555" stroke-width="0.9" fill="none"/>
<path d="M370.00 235.50V237.00" stroke="#555" stroke-width="0.7"/>
<text class="t" x="370.60" y="243.50" font-size="6.0" font-weight="normal" text-anchor="middle" fill="#222" textLength="12.75" lengthAdjust="spacingAndGlyphs">160:1</text>
<path d="M386.10 235.50V237.00" stroke="#555" stroke-width="0.7"/>
<text class="t" x="386.70" y="243.50" font-size="6.0" font-weight="normal" text-anchor="middle" fill="#222" textLength="10.20" lengthAdjust="spacingAndGlyphs">80:1</text>
<path d="M401.60 235.50V237.00" stroke="#555" stroke-width="0.7"/>
<text class="t" x="402.20" y="243.50" font-size="6.0" font-weight="normal" text-anchor="middle" fill="#222" textLength="10.20" lengthAdjust="spacingAndGlyphs">40:1</text>
<path d="M417.00 235.50V237.00" stroke="#555" stroke-width="0.7"/>
<text class="t" x="417.60" y="243.50" font-size="6.0" font-weight="normal" text-anchor="middle" fill="#222" textLength="10.20" lengthAdjust="spacingAndGlyphs">20:1</text>
<polyline points="370.00,216.40 386.10,209.60 401.60,204.00 417.00,196.10" fill="none" stroke="#333" stroke-width="0.7"/>
<polyline points="370.00,224.20 386.10,222.00 401.60,220.00 417.00,218.60" fill="none" stroke="#333" stroke-width="0.7"/>
<path d="M370.00 210.70V221.40M369.00 210.70H371.00M369.00 221.40H371.00" stroke="#333" stroke-width="0.6" fill="none"/>
<path d="M401.60 197.00V210.70M400.60 197.00H402.60M400.60 210.70H402.60" stroke="#333" stroke-width="0.6" fill="none"/>
<path d="M370.00 220.00V226.50M369.00 220.00H371.00M369.00 226.50H371.00" stroke="#333" stroke-width="0.6" fill="none"/>
<path d="M386.10 218.60V226.00M385.10 218.60H387.10M385.10 226.00H387.10" stroke="#333" stroke-width="0.6" fill="none"/>
<path d="M401.60 215.20V224.20M400.60 215.20H402.60M400.60 224.20H402.60" stroke="#333" stroke-width="0.6" fill="none"/>
<path d="M417.00 213.00V222.80M416.00 213.00H418.00M416.00 222.80H418.00" stroke="#333" stroke-width="0.6" fill="none"/>
<circle cx="370.00" cy="216.40" r="1.35" fill="#fff" stroke="#222" stroke-width="0.6"/>
<circle cx="386.10" cy="209.60" r="1.35" fill="#fff" stroke="#222" stroke-width="0.6"/>
<circle cx="401.60" cy="204.00" r="1.35" fill="#fff" stroke="#222" stroke-width="0.6"/>
<circle cx="417.00" cy="196.10" r="1.35" fill="#fff" stroke="#222" stroke-width="0.6"/>
<path d="M370.00 222.70L371.50 225.30L368.50 225.30Z" fill="#111"/>
<path d="M386.10 220.50L387.60 223.10L384.60 223.10Z" fill="#111"/>
<path d="M401.60 218.50L403.10 221.10L400.10 221.10Z" fill="#111"/>
<path d="M417.00 217.10L418.50 219.70L415.50 219.70Z" fill="#111"/>
<rect x="354.75" y="180.35" width="3.60" height="3.60" fill="#fff" stroke="#111" stroke-width="0.7"/>
<path d="M356.2 186.3L359.0 190.5L353.4 190.5Z" fill="#111"/>
<text x="361.50" y="183.60" font-size="6.2" font-weight="normal" text-anchor="start" fill="#111" textLength="26.00" lengthAdjust="spacingAndGlyphs">untreated</text>
<text x="361.50" y="190.10" font-size="6.2" font-weight="normal" text-anchor="start" fill="#111" textLength="39.20" lengthAdjust="spacingAndGlyphs">Mg <tspan font-size="3.6" dy="-2">2+</tspan><tspan dy="2"> + M18/2</tspan></text>
<text class="h" transform="translate(448.00 46.80) rotate(-90)" x="0" y="0" font-size="8.8" font-weight="normal" text-anchor="middle" fill="#111" textLength="52.00" lengthAdjust="spacingAndGlyphs">T cells per DC</text>
<path d="M461.0 15.5V78.5H515" stroke="#333" stroke-width="0.8" fill="none"/>
<path d="M459.2 15.5H461.0" stroke="#333" stroke-width="0.7"/>
<text x="457.80" y="17.50" font-size="5.6" font-weight="normal" text-anchor="end" fill="#222">3</text>
<path d="M459.2 36.5H461.0" stroke="#333" stroke-width="0.7"/>
<text x="457.80" y="38.50" font-size="5.6" font-weight="normal" text-anchor="end" fill="#222">2</text>
<path d="M459.2 57.2H461.0" stroke="#333" stroke-width="0.7"/>
<text x="457.80" y="59.20" font-size="5.6" font-weight="normal" text-anchor="end" fill="#222">1</text>
<path d="M459.2 78.3H461.0" stroke="#333" stroke-width="0.7"/>
<text x="457.80" y="80.30" font-size="5.6" font-weight="normal" text-anchor="end" fill="#222">0</text>
<path d="M473.6 39.5V37.4M471.6 37.4H475.6" stroke="#111" stroke-width="0.8"/>
<rect x="468.4" y="39.9" width="10.40" height="38.40" fill="#fff" stroke="#111" stroke-width="0.8"/>
<path d="M489.75 40.1V37.4M487.75 37.4H491.75" stroke="#111" stroke-width="0.8"/>
<rect x="484.4" y="40.5" width="10.70" height="37.80" fill="#8a8a8a" stroke="#111" stroke-width="0.8"/>
<path d="M505.65 43V40.5M503.65 40.5H507.65" stroke="#111" stroke-width="0.8"/>
<rect x="500.4" y="43.4" width="10.50" height="34.90" fill="#111" stroke="#111" stroke-width="0.8"/>
<rect x="466.2" y="10.1" width="13.7" height="3.25" fill="#fff" stroke="#111" stroke-width="0.8"/>
<rect x="466.2" y="17.9" width="13.7" height="3.30" fill="#8a8a8a" stroke="#111" stroke-width="0.8"/>
<rect x="466.2" y="26.2" width="13.7" height="3.10" fill="#111" stroke="#111" stroke-width="0.8"/>
<text x="481.40" y="14.00" font-size="6.4" font-weight="normal" text-anchor="start" fill="#111" textLength="28.00" lengthAdjust="spacingAndGlyphs">untreated</text>
<text x="481.40" y="21.90" font-size="6.4" font-weight="normal" text-anchor="start" fill="#111">1mM Mg<tspan font-size="4" dy="-2.2">2+</tspan></text>
<text x="481.40" y="29.90" font-size="6.4" font-weight="normal" text-anchor="start" fill="#111">5mM Mg<tspan font-size="4" dy="-2.2">2+</tspan></text>
<rect x="14.90" y="107.40" width="56.00" height="57.40" fill="#fff" stroke="#a0a0a0" stroke-width="0.8"/>
<ellipse cx="46" cy="136" rx="16" ry="9" fill="#000" fill-opacity="0.15" filter="url(#bl2)"/>
<ellipse cx="33.5" cy="138.3" rx="8.5" ry="5.6" fill="#000" fill-opacity="0.8" filter="url(#bl2)"/>
<ellipse cx="56" cy="136.5" rx="5" ry="6.2" fill="#000" fill-opacity="0.5" filter="url(#bl2)"/>
<ellipse cx="45" cy="137.5" rx="6" ry="5" fill="#000" fill-opacity="0.3" filter="url(#bl2)"/>
<path d="M33.5 137.1h.8v.8h-.8zM35.0 136.7h.8v.8h-.8zM32.1 142.7h.8v.8h-.8zM29.0 139.6h.8v.8h-.8zM31.2 140.5h.8v.8h-.8zM28.5 135.6h.8v.8h-.8zM33.8 145.7h.8v.8h-.8zM40.2 145.3h.8v.8h-.8zM31.0 140.1h.8v.8h-.8zM30.4 140.5h.8v.8h-.8zM35.9 130.1h.8v.8h-.8zM35.3 140.7h.8v.8h-.8zM34.0 137.3h.8v.8h-.8zM28.8 139.4h.8v.8h-.8zM33.4 140.7h.8v.8h-.8zM37.0 136.9h.8v.8h-.8zM26.8 130.7h.8v.8h-.8zM31.2 139.3h.8v.8h-.8zM24.0 134.3h.8v.8h-.8zM27.1 136.2h.8v.8h-.8zM24.3 134.9h.8v.8h-.8zM32.3 136.5h.8v.8h-.8zM27.2 128.3h.8v.8h-.8zM34.9 143.0h.8v.8h-.8zM34.3 139.1h.8v.8h-.8zM32.6 142.3h.8v.8h-.8zM20.9 144.9h.8v.8h-.8zM30.8 137.9h.8v.8h-.8zM33.3 130.8h.8v.8h-.8zM34.1 134.5h.8v.8h-.8zM25.8 132.6h.8v.8h-.8zM31.1 135.8h.8v.8h-.8zM28.6 137.9h.8v.8h-.8zM29.5 129.7h.8v.8h-.8zM38.8 139.8h.8v.8h-.8zM29.5 131.7h.8v.8h-.8zM33.3 139.2h.8v.8h-.8zM37.9 137.9h.8v.8h-.8zM30.6 136.5h.8v.8h-.8zM32.9 137.7h.8v.8h-.8zM34.1 135.9h.8v.8h-.8zM33.8 135.6h.8v.8h-.8zM27.4 130.8h.8v.8h-.8zM33.9 137.9h.8v.8h-.8zM40.3 145.9h.8v.8h-.8zM25.8 145.3h.8v.8h-.8zM37.8 143.6h.8v.8h-.8zM34.1 140.9h.8v.8h-.8zM30.3 135.1h.8v.8h-.8zM43.5 144.5h.8v.8h-.8zM37.3 138.1h.8v.8h-.8zM27.5 137.2h.8v.8h-.8zM33.9 136.9h.8v.8h-.8zM36.4 138.6h.8v.8h-.8zM32.6 136.2h.8v.8h-.8zM36.9 137.9h.8v.8h-.8zM33.2 133.7h.8v.8h-.8zM36.8 136.8h.8v.8h-.8zM40.7 147.7h.8v.8h-.8zM30.1 137.5h.8v.8h-.8zM34.5 137.1h.8v.8h-.8zM31.2 139.9h.8v.8h-.8zM34.1 140.9h.8v.8h-.8zM27.6 133.1h.8v.8h-.8zM30.6 136.9h.8v.8h-.8zM32.5 141.6h.8v.8h-.8zM38.0 139.4h.8v.8h-.8zM39.2 138.9h.8v.8h-.8zM26.9 143.7h.8v.8h-.8zM29.5 135.0h.8v.8h-.8zM36.7 138.6h.8v.8h-.8zM23.5 135.1h.8v.8h-.8zM31.2 143.7h.8v.8h-.8zM33.0 130.2h.8v.8h-.8zM39.8 135.8h.8v.8h-.8zM36.9 136.2h.8v.8h-.8zM31.9 140.5h.8v.8h-.8zM31.7 140.3h.8v.8h-.8zM32.2 143.5h.8v.8h-.8zM41.1 132.3h.8v.8h-.8zM31.4 140.8h.8v.8h-.8zM32.0 136.7h.8v.8h-.8zM35.3 135.5h.8v.8h-.8zM32.9 140.1h.8v.8h-.8zM32.5 134.3h.8v.8h-.8zM27.9 129.3h.8v.8h-.8zM33.4 136.5h.8v.8h-.8zM31.3 131.9h.8v.8h-.8zM39.3 135.9h.8v.8h-.8zM36.8 139.7h.8v.8h-.8zM33.4 139.2h.8v.8h-.8zM36.8 144.6h.8v.8h-.8zM31.8 137.1h.8v.8h-.8zM38.8 132.3h.8v.8h-.8zM33.5 135.0h.8v.8h-.8zM36.4 134.6h.8v.8h-.8zM27.0 132.6h.8v.8h-.8zM35.2 139.9h.8v.8h-.8zM25.1 134.8h.8v.8h-.8zM23.3 129.3h.8v.8h-.8zM32.0 140.7h.8v.8h-.8zM29.0 137.2h.8v.8h-.8zM34.3 139.5h.8v.8h-.8zM44.7 139.3h.8v.8h-.8zM29.3 140.2h.8v.8h-.8zM30.4 137.9h.8v.8h-.8zM34.5 143.0h.8v.8h-.8zM36.0 139.9h.8v.8h-.8zM32.6 139.5h.8v.8h-.8zM32.5 139.5h.8v.8h-.8zM37.0 132.5h.8v.8h-.8zM36.1 137.6h.8v.8h-.8zM28.3 136.6h.8v.8h-.8zM33.1 138.8h.8v.8h-.8zM33.7 132.6h.8v.8h-.8zM28.2 144.1h.8v.8h-.8zM34.8 138.5h.8v.8h-.8zM29.2 132.8h.8v.8h-.8zM38.4 131.6h.8v.8h-.8zM34.5 137.0h.8v.8h-.8zM33.9 137.7h.8v.8h-.8zM30.5 134.9h.8v.8h-.8zM32.9 138.3h.8v.8h-.8zM23.5 134.6h.8v.8h-.8zM27.8 139.7h.8v.8h-.8zM35.3 135.3h.8v.8h-.8zM22.9 137.0h.8v.8h-.8zM37.7 142.2h.8v.8h-.8zM24.8 147.5h.8v.8h-.8zM37.3 134.3h.8v.8h-.8zM29.3 135.8h.8v.8h-.8zM37.4 135.0h.8v.8h-.8zM34.2 141.2h.8v.8h-.8zM25.8 132.8h.8v.8h-.8zM39.7 136.6h.8v.8h-.8zM40.7 138.5h.8v.8h-.8zM33.2 134.1h.8v.8h-.8zM32.1 134.1h.8v.8h-.8zM32.7 136.0h.8v.8h-.8zM28.6 129.3h.8v.8h-.8zM39.0 132.7h.8v.8h-.8zM30.8 136.1h.8v.8h-.8zM33.2 138.6h.8v.8h-.8zM29.5 136.9h.8v.8h-.8zM30.4 130.7h.8v.8h-.8zM27.1 135.6h.8v.8h-.8zM39.8 141.7h.8v.8h-.8zM32.7 140.2h.8v.8h-.8zM38.3 138.1h.8v.8h-.8zM33.6 134.5h.8v.8h-.8zM30.0 140.2h.8v.8h-.8zM31.9 135.6h.8v.8h-.8zM30.7 133.1h.8v.8h-.8zM33.5 134.8h.8v.8h-.8zM31.6 143.6h.8v.8h-.8zM32.0 138.8h.8v.8h-.8zM26.6 142.1h.8v.8h-.8zM29.5 135.8h.8v.8h-.8zM41.8 142.4h.8v.8h-.8zM30.1 135.3h.8v.8h-.8zM28.2 137.0h.8v.8h-.8zM35.2 148.0h.8v.8h-.8zM40.5 141.6h.8v.8h-.8zM26.2 135.4h.8v.8h-.8zM32.5 137.6h.8v.8h-.8zM30.3 139.0h.8v.8h-.8zM24.7 142.1h.8v.8h-.8zM37.2 136.3h.8v.8h-.8zM33.4 131.1h.8v.8h-.8zM33.9 136.9h.8v.8h-.8zM29.7 137.8h.8v.8h-.8zM35.8 138.6h.8v.8h-.8zM30.8 143.0h.8v.8h-.8zM32.8 139.2h.8v.8h-.8zM28.0 140.8h.8v.8h-.8zM27.4 133.1h.8v.8h-.8zM40.2 142.0h.8v.8h-.8zM31.0 146.1h.8v.8h-.8zM35.0 141.2h.8v.8h-.8zM33.3 139.0h.8v.8h-.8zM31.3 138.4h.8v.8h-.8zM31.0 144.9h.8v.8h-.8zM36.7 134.6h.8v.8h-.8zM32.0 137.4h.8v.8h-.8zM32.7 139.8h.8v.8h-.8zM33.6 141.0h.8v.8h-.8zM39.4 136.7h.8v.8h-.8zM36.9 139.5h.8v.8h-.8zM35.4 137.0h.8v.8h-.8zM30.7 138.3h.8v.8h-.8zM26.6 136.9h.8v.8h-.8zM38.2 133.8h.8v.8h-.8zM38.3 138.3h.8v.8h-.8zM32.8 141.4h.8v.8h-.8zM36.2 134.4h.8v.8h-.8zM37.4 137.4h.8v.8h-.8zM37.7 141.0h.8v.8h-.8zM38.1 134.1h.8v.8h-.8zM31.2 138.5h.8v.8h-.8zM41.1 134.4h.8v.8h-.8zM27.3 142.0h.8v.8h-.8zM37.8 147.5h.8v.8h-.8zM36.0 146.2h.8v.8h-.8zM37.9 137.5h.8v.8h-.8zM42.9 141.7h.8v.8h-.8zM40.9 139.1h.8v.8h-.8zM27.8 137.9h.8v.8h-.8zM25.1 143.5h.8v.8h-.8zM37.6 133.1h.8v.8h-.8zM28.4 141.8h.8v.8h-.8zM33.4 137.8h.8v.8h-.8zM37.7 143.9h.8v.8h-.8zM25.3 138.1h.8v.8h-.8zM23.0 134.5h.8v.8h-.8zM34.8 139.2h.8v.8h-.8zM33.7 140.9h.8v.8h-.8zM32.3 138.0h.8v.8h-.8zM33.7 140.0h.8v.8h-.8zM29.2 135.6h.8v.8h-.8zM25.9 128.9h.8v.8h-.8zM32.7 141.5h.8v.8h-.8zM28.6 140.4h.8v.8h-.8zM25.3 137.9h.8v.8h-.8zM36.0 138.5h.8v.8h-.8zM33.2 142.1h.8v.8h-.8zM35.5 136.3h.8v.8h-.8zM28.6 134.8h.8v.8h-.8zM30.2 137.0h.8v.8h-.8zM28.5 142.3h.8v.8h-.8zM29.1 132.1h.8v.8h-.8zM34.5 142.8h.8v.8h-.8zM29.6 135.1h.8v.8h-.8zM35.3 133.8h.8v.8h-.8zM35.2 143.2h.8v.8h-.8zM43.6 138.4h.8v.8h-.8zM26.5 132.3h.8v.8h-.8zM37.9 136.9h.8v.8h-.8zM33.1 141.7h.8v.8h-.8zM33.4 142.7h.8v.8h-.8zM26.3 135.7h.8v.8h-.8zM31.2 139.4h.8v.8h-.8zM37.2 141.1h.8v.8h-.8zM33.1 135.4h.8v.8h-.8zM33.9 139.4h.8v.8h-.8zM32.0 137.8h.8v.8h-.8zM39.3 136.3h.8v.8h-.8zM33.4 136.0h.8v.8h-.8zM22.5 137.4h.8v.8h-.8zM30.0 137.8h.8v.8h-.8zM23.7 135.0h.8v.8h-.8zM17.2 135.0h.8v.8h-.8zM30.8 142.2h.8v.8h-.8zM40.2 139.4h.8v.8h-.8zM33.7 141.5h.8v.8h-.8zM27.6 142.3h.8v.8h-.8zM28.8 140.0h.8v.8h-.8zM39.2 147.5h.8v.8h-.8zM34.3 134.8h.8v.8h-.8zM33.7 141.2h.8v.8h-.8zM33.2 136.7h.8v.8h-.8zM33.7 145.4h.8v.8h-.8zM37.5 145.1h.8v.8h-.8zM36.3 130.4h.8v.8h-.8zM34.6 134.2h.8v.8h-.8zM28.3 140.2h.8v.8h-.8zM36.1 141.3h.8v.8h-.8zM30.1 140.7h.8v.8h-.8zM39.0 138.2h.8v.8h-.8zM27.1 139.3h.8v.8h-.8zM32.8 140.5h.8v.8h-.8zM33.5 137.7h.8v.8h-.8zM26.9 141.6h.8v.8h-.8zM42.1 129.7h.8v.8h-.8zM40.8 141.1h.8v.8h-.8zM31.2 133.7h.8v.8h-.8zM37.4 142.1h.8v.8h-.8zM35.4 137.2h.8v.8h-.8zM20.4 133.4h.8v.8h-.8zM34.8 139.6h.8v.8h-.8zM33.2 134.3h.8v.8h-.8zM33.9 134.4h.8v.8h-.8zM28.1 131.3h.8v.8h-.8zM32.2 137.8h.8v.8h-.8zM32.6 139.9h.8v.8h-.8zM39.4 142.5h.8v.8h-.8zM35.2 137.6h.8v.8h-.8zM33.5 142.2h.8v.8h-.8zM41.1 138.7h.8v.8h-.8zM30.7 137.4h.8v.8h-.8zM31.6 140.1h.8v.8h-.8zM24.4 141.5h.8v.8h-.8zM41.3 137.3h.8v.8h-.8zM38.3 137.4h.8v.8h-.8zM38.1 137.7h.8v.8h-.8zM36.8 138.6h.8v.8h-.8zM34.1 134.5h.8v.8h-.8zM34.6 142.2h.8v.8h-.8zM32.2 136.3h.8v.8h-.8zM32.5 139.8h.8v.8h-.8zM33.8 134.7h.8v.8h-.8zM41.1 140.0h.8v.8h-.8zM36.3 139.8h.8v.8h-.8zM33.2 136.3h.8v.8h-.8zM30.6 145.8h.8v.8h-.8zM30.3 139.2h.8v.8h-.8zM41.5 145.7h.8v.8h-.8zM36.0 142.0h.8v.8h-.8zM33.8 135.4h.8v.8h-.8zM31.8 136.3h.8v.8h-.8zM28.0 139.3h.8v.8h-.8zM33.2 138.2h.8v.8h-.8zM37.9 138.5h.8v.8h-.8zM31.5 136.7h.8v.8h-.8zM32.4 130.7h.8v.8h-.8zM32.4 137.0h.8v.8h-.8zM34.0 129.2h.8v.8h-.8zM25.5 138.8h.8v.8h-.8zM32.3 135.0h.8v.8h-.8zM29.2 134.8h.8v.8h-.8zM37.9 137.5h.8v.8h-.8zM29.6 138.8h.8v.8h-.8zM36.4 132.5h.8v.8h-.8zM41.1 131.7h.8v.8h-.8zM31.9 133.6h.8v.8h-.8zM30.5 129.6h.8v.8h-.8zM34.5 134.2h.8v.8h-.8zM33.5 144.3h.8v.8h-.8zM28.5 133.4h.8v.8h-.8zM35.8 140.8h.8v.8h-.8zM43.6 133.3h.8v.8h-.8zM32.2 139.1h.8v.8h-.8zM32.5 136.6h.8v.8h-.8zM28.3 137.3h.8v.8h-.8zM35.1 140.4h.8v.8h-.8zM27.3 144.5h.8v.8h-.8zM28.0 138.3h.8v.8h-.8zM39.9 139.0h.8v.8h-.8zM29.0 133.8h.8v.8h-.8zM38.9 140.8h.8v.8h-.8zM41.1 137.6h.8v.8h-.8zM34.8 141.4h.8v.8h-.8zM36.3 138.0h.8v.8h-.8zM43.3 145.7h.8v.8h-.8zM32.5 130.0h.8v.8h-.8zM30.5 136.6h.8v.8h-.8zM26.7 141.0h.8v.8h-.8zM33.7 136.6h.8v.8h-.8zM40.9 135.4h.8v.8h-.8zM38.3 137.3h.8v.8h-.8zM28.8 132.1h.8v.8h-.8zM29.2 138.1h.8v.8h-.8zM31.0 147.5h.8v.8h-.8zM35.0 142.7h.8v.8h-.8zM32.5 133.5h.8v.8h-.8zM34.6 134.6h.8v.8h-.8zM35.0 136.5h.8v.8h-.8zM32.0 141.9h.8v.8h-.8zM33.3 134.7h.8v.8h-.8zM34.5 135.3h.8v.8h-.8zM33.1 141.5h.8v.8h-.8zM36.0 141.6h.8v.8h-.8zM42.9 137.3h.8v.8h-.8zM36.5 133.8h.8v.8h-.8zM33.8 131.9h.8v.8h-.8zM25.1 134.5h.8v.8h-.8zM35.4 129.3h.8v.8h-.8zM23.8 140.2h.8v.8h-.8zM26.5 134.9h.8v.8h-.8zM37.8 140.3h.8v.8h-.8zM37.0 145.7h.8v.8h-.8zM32.8 142.6h.8v.8h-.8zM24.9 132.7h.8v.8h-.8zM31.6 141.3h.8v.8h-.8zM30.1 142.3h.8v.8h-.8zM36.7 135.3h.8v.8h-.8zM44.8 135.1h.8v.8h-.8zM34.6 137.7h.8v.8h-.8zM29.6 131.3h.8v.8h-.8zM27.6 143.4h.8v.8h-.8zM33.2 128.4h.8v.8h-.8zM32.6 133.5h.8v.8h-.8zM27.7 136.5h.8v.8h-.8zM34.1 137.1h.8v.8h-.8zM27.7 138.2h.8v.8h-.8zM39.1 139.5h.8v.8h-.8zM38.8 137.6h.8v.8h-.8zM38.9 143.0h.8v.8h-.8zM31.1 129.3h.8v.8h-.8zM36.1 138.2h.8v.8h-.8zM32.8 135.1h.8v.8h-.8zM31.6 138.4h.8v.8h-.8zM31.8 138.7h.8v.8h-.8zM27.0 133.9h.8v.8h-.8zM26.3 134.9h.8v.8h-.8zM37.5 141.5h.8v.8h-.8zM32.5 139.3h.8v.8h-.8zM34.6 135.4h.8v.8h-.8zM38.5 146.5h.8v.8h-.8zM24.8 146.5h.8v.8h-.8zM29.6 131.9h.8v.8h-.8zM34.4 139.3h.8v.8h-.8zM35.5 148.1h.8v.8h-.8zM31.6 141.0h.8v.8h-.8zM38.6 139.3h.8v.8h-.8zM34.6 137.3h.8v.8h-.8zM27.4 135.4h.8v.8h-.8zM28.8 136.8h.8v.8h-.8zM37.5 136.1h.8v.8h-.8zM35.8 141.2h.8v.8h-.8zM24.0 135.7h.8v.8h-.8zM40.2 136.8h.8v.8h-.8zM36.5 133.5h.8v.8h-.8zM40.2 138.3h.8v.8h-.8zM31.6 134.3h.8v.8h-.8zM32.0 137.2h.8v.8h-.8zM27.9 141.7h.8v.8h-.8zM46.2 140.5h.8v.8h-.8zM32.6 139.9h.8v.8h-.8zM41.4 140.1h.8v.8h-.8zM30.3 138.0h.8v.8h-.8zM34.3 137.6h.8v.8h-.8zM25.1 136.1h.8v.8h-.8zM31.6 140.9h.8v.8h-.8zM38.4 134.1h.8v.8h-.8zM27.2 142.8h.8v.8h-.8zM38.9 138.6h.8v.8h-.8zM35.2 135.2h.8v.8h-.8zM28.3 135.6h.8v.8h-.8zM31.0 135.1h.8v.8h-.8zM31.2 138.5h.8v.8h-.8zM33.3 135.1h.8v.8h-.8zM30.8 142.3h.8v.8h-.8zM29.4 134.6h.8v.8h-.8zM32.0 128.8h.8v.8h-.8zM28.4 134.7h.8v.8h-.8zM27.1 129.5h.8v.8h-.8zM33.3 137.8h.8v.8h-.8zM37.9 142.6h.8v.8h-.8zM25.9 140.0h.8v.8h-.8zM33.5 132.7h.8v.8h-.8zM30.3 134.7h.8v.8h-.8zM28.6 144.7h.8v.8h-.8zM37.8 139.6h.8v.8h-.8zM30.9 137.8h.8v.8h-.8zM41.0 142.8h.8v.8h-.8zM29.6 147.4h.8v.8h-.8zM35.4 143.3h.8v.8h-.8zM32.4 138.5h.8v.8h-.8zM29.7 139.1h.8v.8h-.8zM36.4 140.7h.8v.8h-.8zM32.7 135.5h.8v.8h-.8zM36.5 134.0h.8v.8h-.8zM33.3 138.2h.8v.8h-.8zM28.1 133.8h.8v.8h-.8zM33.0 137.7h.8v.8h-.8zM33.8 138.4h.8v.8h-.8zM38.3 147.7h.8v.8h-.8zM29.0 134.3h.8v.8h-.8zM33.3 137.5h.8v.8h-.8zM24.9 136.7h.8v.8h-.8zM36.8 140.0h.8v.8h-.8zM28.1 141.7h.8v.8h-.8zM24.5 135.3h.8v.8h-.8zM33.2 134.7h.8v.8h-.8zM39.0 131.9h.8v.8h-.8zM25.9 133.7h.8v.8h-.8zM28.1 139.7h.8v.8h-.8zM29.8 137.9h.8v.8h-.8zM27.9 133.5h.8v.8h-.8zM35.4 136.7h.8v.8h-.8zM29.5 137.8h.8v.8h-.8zM29.9 139.7h.8v.8h-.8zM36.4 135.9h.8v.8h-.8zM29.7 136.7h.8v.8h-.8zM35.7 130.9h.8v.8h-.8zM28.6 133.0h.8v.8h-.8zM27.4 144.0h.8v.8h-.8zM24.3 128.6h.8v.8h-.8zM42.8 137.4h.8v.8h-.8zM31.9 138.7h.8v.8h-.8zM34.7 136.6h.8v.8h-.8zM33.3 134.8h.8v.8h-.8zM34.3 137.8h.8v.8h-.8zM33.7 138.0h.8v.8h-.8zM43.0 138.4h.8v.8h-.8zM28.3 130.1h.8v.8h-.8zM25.7 136.8h.8v.8h-.8zM28.4 134.2h.8v.8h-.8zM26.8 135.3h.8v.8h-.8zM37.2 139.2h.8v.8h-.8zM37.6 140.9h.8v.8h-.8zM28.7 141.2h.8v.8h-.8zM26.5 135.5h.8v.8h-.8zM31.7 141.5h.8v.8h-.8zM40.5 143.2h.8v.8h-.8zM19.4 141.4h.8v.8h-.8zM36.1 143.7h.8v.8h-.8zM28.1 137.0h.8v.8h-.8zM38.7 137.7h.8v.8h-.8zM28.1 140.9h.8v.8h-.8zM32.1 132.4h.8v.8h-.8zM26.0 138.2h.8v.8h-.8zM28.6 135.5h.8v.8h-.8zM40.4 137.1h.8v.8h-.8zM37.6 131.4h.8v.8h-.8zM31.5 134.3h.8v.8h-.8zM29.1 137.6h.8v.8h-.8zM24.0 140.8h.8v.8h-.8zM31.5 141.8h.8v.8h-.8zM33.3 137.7h.8v.8h-.8zM33.1 137.2h.8v.8h-.8zM33.0 134.7h.8v.8h-.8zM27.9 139.2h.8v.8h-.8zM33.2 137.0h.8v.8h-.8zM33.3 140.4h.8v.8h-.8zM40.0 145.5h.8v.8h-.8zM42.8 138.6h.8v.8h-.8zM32.8 132.0h.8v.8h-.8zM29.7 134.3h.8v.8h-.8zM33.2 132.2h.8v.8h-.8zM30.5 133.0h.8v.8h-.8zM29.8 142.9h.8v.8h-.8zM33.2 138.9h.8v.8h-.8zM28.3 131.5h.8v.8h-.8zM36.5 140.8h.8v.8h-.8zM33.0 143.0h.8v.8h-.8zM34.8 136.7h.8v.8h-.8zM32.6 135.2h.8v.8h-.8zM29.9 136.4h.8v.8h-.8zM28.8 138.8h.8v.8h-.8zM32.3 140.5h.8v.8h-.8zM30.8 142.5h.8v.8h-.8zM34.7 142.9h.8v.8h-.8zM33.5 142.7h.8v.8h-.8zM26.7 142.9h.8v.8h-.8zM33.8 140.7h.8v.8h-.8zM26.8 131.4h.8v.8h-.8zM30.4 137.2h.8v.8h-.8zM32.0 139.1h.8v.8h-.8zM23.1 135.6h.8v.8h-.8zM34.0 141.7h.8v.8h-.8zM34.3 136.6h.8v.8h-.8zM32.7 134.3h.8v.8h-.8zM31.4 143.6h.8v.8h-.8zM31.6 140.5h.8v.8h-.8zM28.6 138.5h.8v.8h-.8zM32.2 141.6h.8v.8h-.8zM30.7 142.0h.8v.8h-.8zM34.0 139.4h.8v.8h-.8zM27.5 127.7h.8v.8h-.8zM34.7 135.4h.8v.8h-.8zM34.2 136.2h.8v.8h-.8zM32.8 134.0h.8v.8h-.8zM31.3 138.6h.8v.8h-.8zM36.3 143.0h.8v.8h-.8zM25.2 135.4h.8v.8h-.8zM35.8 133.7h.8v.8h-.8zM34.7 146.2h.8v.8h-.8zM34.9 136.3h.8v.8h-.8zM35.4 133.2h.8v.8h-.8zM30.2 138.7h.8v.8h-.8zM32.2 139.6h.8v.8h-.8zM36.7 135.4h.8v.8h-.8zM35.7 141.3h.8v.8h-.8zM34.5 136.1h.8v.8h-.8zM25.9 133.7h.8v.8h-.8zM36.2 138.9h.8v.8h-.8zM39.3 141.5h.8v.8h-.8zM38.5 135.9h.8v.8h-.8zM34.7 139.4h.8v.8h-.8zM25.7 137.0h.8v.8h-.8zM38.2 149.6h.8v.8h-.8zM32.8 135.1h.8v.8h-.8zM20.8 142.5h.8v.8h-.8zM35.4 137.9h.8v.8h-.8zM26.0 136.9h.8v.8h-.8zM27.0 140.4h.8v.8h-.8zM30.3 141.3h.8v.8h-.8zM39.9 143.6h.8v.8h-.8zM31.6 139.2h.8v.8h-.8zM34.9 135.7h.8v.8h-.8zM42.2 136.6h.8v.8h-.8zM41.5 140.7h.8v.8h-.8zM33.0 140.3h.8v.8h-.8zM32.3 143.5h.8v.8h-.8zM27.2 139.2h.8v.8h-.8zM30.0 141.9h.8v.8h-.8zM35.6 144.2h.8v.8h-.8zM35.5 138.8h.8v.8h-.8zM34.1 132.1h.8v.8h-.8zM38.5 133.7h.8v.8h-.8zM29.6 132.0h.8v.8h-.8zM33.2 144.3h.8v.8h-.8zM37.2 134.9h.8v.8h-.8zM36.4 143.1h.8v.8h-.8zM38.9 140.8h.8v.8h-.8zM35.5 145.0h.8v.8h-.8zM32.0 141.9h.8v.8h-.8zM35.3 137.7h.8v.8h-.8zM28.5 136.8h.8v.8h-.8zM25.3 137.7h.8v.8h-.8zM36.4 138.9h.8v.8h-.8zM33.2 135.9h.8v.8h-.8zM35.0 138.0h.8v.8h-.8zM25.0 143.7h.8v.8h-.8zM31.7 131.1h.8v.8h-.8zM30.5 138.8h.8v.8h-.8zM29.2 134.0h.8v.8h-.8zM22.2 137.8h.8v.8h-.8zM31.8 141.2h.8v.8h-.8zM38.0 138.1h.8v.8h-.8zM35.4 141.2h.8v.8h-.8zM30.5 131.4h.8v.8h-.8zM33.4 142.4h.8v.8h-.8zM37.3 135.9h.8v.8h-.8zM19.7 139.4h.8v.8h-.8zM32.9 138.7h.8v.8h-.8zM36.2 127.9h.8v.8h-.8zM36.9 135.3h.8v.8h-.8zM42.0 139.6h.8v.8h-.8zM39.2 144.6h.8v.8h-.8zM35.1 139.3h.8v.8h-.8zM35.0 139.1h.8v.8h-.8zM37.4 132.7h.8v.8h-.8zM30.8 143.5h.8v.8h-.8zM33.3 145.2h.8v.8h-.8zM38.0 138.5h.8v.8h-.8zM43.3 137.9h.8v.8h-.8zM32.7 131.5h.8v.8h-.8zM33.3 141.5h.8v.8h-.8zM34.5 148.8h.8v.8h-.8zM40.2 141.4h.8v.8h-.8zM33.3 143.0h.8v.8h-.8zM40.8 140.7h.8v.8h-.8zM28.7 133.7h.8v.8h-.8zM32.6 143.2h.8v.8h-.8zM32.5 133.0h.8v.8h-.8zM37.4 137.5h.8v.8h-.8zM38.7 139.5h.8v.8h-.8zM26.0 140.9h.8v.8h-.8zM28.9 139.3h.8v.8h-.8zM35.2 139.7h.8v.8h-.8zM30.2 134.7h.8v.8h-.8zM25.9 132.3h.8v.8h-.8zM38.7 138.7h.8v.8h-.8zM36.0 135.4h.8v.8h-.8zM36.0 133.0h.8v.8h-.8zM31.1 132.8h.8v.8h-.8zM38.6 136.5h.8v.8h-.8zM32.3 130.5h.8v.8h-.8zM39.0 133.1h.8v.8h-.8zM28.9 131.1h.8v.8h-.8zM29.2 138.4h.8v.8h-.8zM34.5 139.7h.8v.8h-.8zM30.0 145.7h.8v.8h-.8zM36.9 132.3h.8v.8h-.8zM34.8 135.4h.8v.8h-.8zM28.9 141.3h.8v.8h-.8zM33.9 137.2h.8v.8h-.8zM31.7 136.6h.8v.8h-.8zM38.1 145.2h.8v.8h-.8zM30.3 136.4h.8v.8h-.8zM31.3 133.2h.8v.8h-.8zM39.6 133.2h.8v.8h-.8zM44.7 140.2h.8v.8h-.8zM43.5 140.0h.8v.8h-.8zM33.8 132.6h.8v.8h-.8zM34.6 134.2h.8v.8h-.8zM41.2 140.7h.8v.8h-.8zM32.9 140.2h.8v.8h-.8zM28.6 135.0h.8v.8h-.8zM34.1 140.5h.8v.8h-.8zM35.8 140.5h.8v.8h-.8zM29.4 130.6h.8v.8h-.8zM25.3 136.1h.8v.8h-.8zM26.3 139.1h.8v.8h-.8zM36.8 136.0h.8v.8h-.8zM29.7 129.2h.8v.8h-.8zM32.8 136.8h.8v.8h-.8zM34.6 141.1h.8v.8h-.8zM36.6 144.5h.8v.8h-.8zM31.8 129.1h.8v.8h-.8zM36.0 148.6h.8v.8h-.8zM29.0 133.2h.8v.8h-.8zM31.7 141.7h.8v.8h-.8zM28.4 142.5h.8v.8h-.8zM39.2 142.4h.8v.8h-.8zM33.4 138.6h.8v.8h-.8zM29.8 133.1h.8v.8h-.8zM31.7 140.4h.8v.8h-.8zM32.4 135.1h.8v.8h-.8zM37.0 128.2h.8v.8h-.8zM25.5 148.6h.8v.8h-.8zM28.3 140.4h.8v.8h-.8zM31.6 145.1h.8v.8h-.8zM46.2 135.4h.8v.8h-.8zM38.3 144.2h.8v.8h-.8zM32.9 144.3h.8v.8h-.8zM37.1 144.5h.8v.8h-.8zM43.8 138.7h.8v.8h-.8zM51.9 139.6h.8v.8h-.8zM55.4 136.2h.8v.8h-.8zM48.5 129.6h.8v.8h-.8zM50.2 144.8h.8v.8h-.8zM56.3 132.6h.8v.8h-.8zM52.6 137.6h.8v.8h-.8zM55.4 137.4h.8v.8h-.8zM55.6 142.9h.8v.8h-.8zM62.6 134.4h.8v.8h-.8zM60.4 141.0h.8v.8h-.8zM55.8 133.2h.8v.8h-.8zM60.1 141.5h.8v.8h-.8zM53.3 133.1h.8v.8h-.8zM54.9 134.9h.8v.8h-.8zM59.1 145.0h.8v.8h-.8zM51.8 137.9h.8v.8h-.8zM55.1 137.0h.8v.8h-.8zM51.5 146.6h.8v.8h-.8zM56.4 138.1h.8v.8h-.8zM61.6 132.8h.8v.8h-.8zM53.4 139.8h.8v.8h-.8zM56.8 131.2h.8v.8h-.8zM52.9 141.6h.8v.8h-.8zM52.1 141.9h.8v.8h-.8zM51.8 133.9h.8v.8h-.8zM60.9 133.7h.8v.8h-.8zM64.0 137.3h.8v.8h-.8zM57.6 136.6h.8v.8h-.8zM53.6 132.1h.8v.8h-.8zM58.4 139.1h.8v.8h-.8zM54.9 127.3h.8v.8h-.8zM58.7 134.6h.8v.8h-.8zM57.0 134.7h.8v.8h-.8zM57.0 135.3h.8v.8h-.8zM58.1 137.9h.8v.8h-.8zM54.0 131.0h.8v.8h-.8zM54.6 139.1h.8v.8h-.8zM50.1 135.7h.8v.8h-.8zM54.5 133.6h.8v.8h-.8zM51.2 130.3h.8v.8h-.8zM55.5 131.2h.8v.8h-.8zM52.7 138.1h.8v.8h-.8zM56.3 132.2h.8v.8h-.8zM57.5 136.8h.8v.8h-.8zM51.2 141.3h.8v.8h-.8zM53.2 141.1h.8v.8h-.8zM52.8 143.5h.8v.8h-.8zM58.5 135.2h.8v.8h-.8zM61.8 131.6h.8v.8h-.8zM58.9 141.1h.8v.8h-.8zM54.8 137.9h.8v.8h-.8zM61.0 141.6h.8v.8h-.8zM50.9 136.5h.8v.8h-.8zM61.1 141.9h.8v.8h-.8zM53.8 140.3h.8v.8h-.8zM46.5 139.7h.8v.8h-.8zM65.0 138.8h.8v.8h-.8zM61.4 138.3h.8v.8h-.8zM52.5 137.5h.8v.8h-.8zM56.6 137.5h.8v.8h-.8zM55.3 141.0h.8v.8h-.8zM56.3 134.2h.8v.8h-.8zM51.0 144.3h.8v.8h-.8zM53.7 136.0h.8v.8h-.8zM57.6 140.9h.8v.8h-.8zM56.8 136.1h.8v.8h-.8zM60.1 135.4h.8v.8h-.8zM56.3 145.6h.8v.8h-.8zM64.0 135.1h.8v.8h-.8zM53.6 130.8h.8v.8h-.8zM56.9 133.3h.8v.8h-.8zM49.5 135.1h.8v.8h-.8zM51.7 146.2h.8v.8h-.8zM60.5 137.4h.8v.8h-.8zM52.8 140.7h.8v.8h-.8zM57.8 132.0h.8v.8h-.8zM55.8 138.1h.8v.8h-.8zM52.4 139.5h.8v.8h-.8zM54.8 144.6h.8v.8h-.8zM54.3 133.4h.8v.8h-.8zM54.3 139.2h.8v.8h-.8zM58.6 137.9h.8v.8h-.8zM58.2 131.9h.8v.8h-.8zM54.0 136.4h.8v.8h-.8zM52.9 135.3h.8v.8h-.8zM57.0 126.0h.8v.8h-.8zM55.7 139.2h.8v.8h-.8zM59.5 138.9h.8v.8h-.8zM65.0 134.5h.8v.8h-.8zM58.9 130.5h.8v.8h-.8zM55.9 143.2h.8v.8h-.8zM55.4 137.7h.8v.8h-.8zM53.1 141.1h.8v.8h-.8zM52.9 142.8h.8v.8h-.8zM52.6 134.2h.8v.8h-.8zM54.7 140.2h.8v.8h-.8zM54.5 135.4h.8v.8h-.8zM58.5 136.2h.8v.8h-.8zM54.6 136.1h.8v.8h-.8zM55.3 136.5h.8v.8h-.8zM51.9 141.5h.8v.8h-.8zM61.6 137.1h.8v.8h-.8zM57.7 135.8h.8v.8h-.8zM62.1 135.3h.8v.8h-.8zM58.7 138.0h.8v.8h-.8zM61.1 132.5h.8v.8h-.8zM55.2 134.2h.8v.8h-.8zM58.4 136.3h.8v.8h-.8zM65.2 134.0h.8v.8h-.8zM51.8 136.0h.8v.8h-.8zM60.0 133.8h.8v.8h-.8zM61.8 145.5h.8v.8h-.8zM57.4 142.5h.8v.8h-.8zM58.6 138.5h.8v.8h-.8zM60.4 136.3h.8v.8h-.8zM53.7 146.4h.8v.8h-.8zM57.4 138.0h.8v.8h-.8zM53.0 136.1h.8v.8h-.8zM53.6 137.9h.8v.8h-.8zM53.9 137.9h.8v.8h-.8zM55.5 142.8h.8v.8h-.8zM56.5 136.4h.8v.8h-.8zM57.6 145.9h.8v.8h-.8zM51.1 132.5h.8v.8h-.8zM62.9 139.6h.8v.8h-.8zM60.0 132.0h.8v.8h-.8zM58.5 144.7h.8v.8h-.8zM54.8 135.0h.8v.8h-.8zM55.7 136.2h.8v.8h-.8zM57.9 140.7h.8v.8h-.8zM57.4 142.1h.8v.8h-.8zM50.1 131.5h.8v.8h-.8zM58.6 134.9h.8v.8h-.8zM66.2 130.2h.8v.8h-.8zM49.6 137.1h.8v.8h-.8zM59.5 136.0h.8v.8h-.8zM57.3 134.9h.8v.8h-.8zM55.6 133.4h.8v.8h-.8zM60.8 134.8h.8v.8h-.8zM51.9 133.1h.8v.8h-.8zM56.6 138.9h.8v.8h-.8zM61.1 143.3h.8v.8h-.8zM55.3 127.8h.8v.8h-.8zM54.5 136.0h.8v.8h-.8zM56.4 134.6h.8v.8h-.8zM54.4 138.7h.8v.8h-.8zM61.4 132.2h.8v.8h-.8zM52.8 135.8h.8v.8h-.8zM59.0 131.8h.8v.8h-.8zM51.6 139.6h.8v.8h-.8zM58.3 136.9h.8v.8h-.8zM55.6 135.8h.8v.8h-.8zM47.0 138.2h.8v.8h-.8zM56.0 135.4h.8v.8h-.8zM52.3 129.5h.8v.8h-.8zM54.4 139.2h.8v.8h-.8zM61.4 137.8h.8v.8h-.8zM52.1 135.8h.8v.8h-.8zM52.3 140.9h.8v.8h-.8zM61.0 142.0h.8v.8h-.8zM56.4 131.6h.8v.8h-.8zM61.4 133.0h.8v.8h-.8zM57.1 143.5h.8v.8h-.8zM52.9 142.9h.8v.8h-.8zM55.8 133.2h.8v.8h-.8zM60.3 131.2h.8v.8h-.8zM59.3 133.6h.8v.8h-.8zM56.0 134.3h.8v.8h-.8zM56.2 129.4h.8v.8h-.8zM55.6 136.6h.8v.8h-.8zM54.0 130.7h.8v.8h-.8zM62.8 131.1h.8v.8h-.8zM56.0 140.6h.8v.8h-.8zM52.0 133.4h.8v.8h-.8zM54.3 136.2h.8v.8h-.8zM58.5 139.3h.8v.8h-.8zM58.2 140.2h.8v.8h-.8zM55.5 135.0h.8v.8h-.8zM53.7 136.7h.8v.8h-.8zM56.1 132.8h.8v.8h-.8zM50.1 144.4h.8v.8h-.8zM51.4 139.4h.8v.8h-.8zM58.8 131.5h.8v.8h-.8zM54.3 136.5h.8v.8h-.8zM57.3 139.7h.8v.8h-.8zM60.3 138.7h.8v.8h-.8zM58.3 144.7h.8v.8h-.8zM56.1 142.7h.8v.8h-.8zM63.4 134.1h.8v.8h-.8zM58.3 136.1h.8v.8h-.8zM54.8 130.7h.8v.8h-.8zM58.6 137.6h.8v.8h-.8zM57.4 137.2h.8v.8h-.8zM53.0 148.7h.8v.8h-.8zM56.3 136.9h.8v.8h-.8zM55.4 127.1h.8v.8h-.8zM49.1 133.5h.8v.8h-.8zM55.4 137.0h.8v.8h-.8zM55.0 130.8h.8v.8h-.8zM54.5 132.6h.8v.8h-.8zM50.3 134.9h.8v.8h-.8zM54.8 138.0h.8v.8h-.8zM55.9 135.8h.8v.8h-.8zM56.4 132.5h.8v.8h-.8zM52.0 140.0h.8v.8h-.8zM58.2 134.1h.8v.8h-.8zM51.8 134.3h.8v.8h-.8zM55.2 130.3h.8v.8h-.8zM60.6 133.0h.8v.8h-.8zM53.6 139.4h.8v.8h-.8zM54.2 129.2h.8v.8h-.8zM59.8 136.2h.8v.8h-.8zM54.7 139.7h.8v.8h-.8zM55.0 134.8h.8v.8h-.8zM56.8 137.6h.8v.8h-.8zM59.7 131.5h.8v.8h-.8zM48.3 142.4h.8v.8h-.8zM53.1 141.5h.8v.8h-.8zM52.5 137.6h.8v.8h-.8zM52.2 128.6h.8v.8h-.8zM53.0 131.8h.8v.8h-.8zM53.1 140.9h.8v.8h-.8zM57.1 144.2h.8v.8h-.8zM52.9 137.8h.8v.8h-.8zM56.4 142.1h.8v.8h-.8zM57.4 133.8h.8v.8h-.8zM53.5 135.6h.8v.8h-.8zM56.5 136.5h.8v.8h-.8zM61.7 138.4h.8v.8h-.8zM57.1 129.6h.8v.8h-.8zM53.8 140.7h.8v.8h-.8zM55.8 142.5h.8v.8h-.8zM52.8 131.3h.8v.8h-.8zM56.9 130.4h.8v.8h-.8zM59.0 138.1h.8v.8h-.8zM53.2 133.6h.8v.8h-.8zM55.3 125.8h.8v.8h-.8zM59.9 140.1h.8v.8h-.8zM54.3 137.2h.8v.8h-.8zM56.7 134.4h.8v.8h-.8zM52.4 146.0h.8v.8h-.8zM53.2 137.1h.8v.8h-.8zM54.2 133.1h.8v.8h-.8zM63.4 137.0h.8v.8h-.8zM54.6 131.8h.8v.8h-.8zM54.2 133.1h.8v.8h-.8zM54.1 138.2h.8v.8h-.8zM55.4 134.0h.8v.8h-.8zM58.2 134.5h.8v.8h-.8zM56.6 144.0h.8v.8h-.8zM63.0 140.4h.8v.8h-.8zM56.7 140.1h.8v.8h-.8zM60.9 138.9h.8v.8h-.8zM56.9 138.7h.8v.8h-.8zM58.1 143.1h.8v.8h-.8zM51.1 136.4h.8v.8h-.8zM55.6 144.8h.8v.8h-.8zM55.8 132.2h.8v.8h-.8zM55.2 135.4h.8v.8h-.8zM48.7 130.3h.8v.8h-.8zM59.0 135.0h.8v.8h-.8zM54.7 138.8h.8v.8h-.8zM54.5 143.0h.8v.8h-.8zM55.1 133.5h.8v.8h-.8zM55.2 136.5h.8v.8h-.8zM57.4 134.9h.8v.8h-.8zM51.7 133.2h.8v.8h-.8zM52.8 131.1h.8v.8h-.8zM57.0 136.8h.8v.8h-.8zM56.5 128.7h.8v.8h-.8zM54.7 137.0h.8v.8h-.8zM54.0 136.6h.8v.8h-.8zM53.2 133.5h.8v.8h-.8zM55.8 132.0h.8v.8h-.8zM60.0 130.3h.8v.8h-.8zM52.4 144.9h.8v.8h-.8zM61.2 130.5h.8v.8h-.8zM58.9 143.5h.8v.8h-.8zM54.5 139.2h.8v.8h-.8zM58.7 134.9h.8v.8h-.8zM51.0 131.3h.8v.8h-.8zM50.1 141.2h.8v.8h-.8zM51.6 144.3h.8v.8h-.8zM54.6 132.3h.8v.8h-.8zM54.9 135.2h.8v.8h-.8zM54.2 141.2h.8v.8h-.8zM56.3 138.0h.8v.8h-.8zM48.7 145.5h.8v.8h-.8zM57.7 133.9h.8v.8h-.8zM51.2 138.9h.8v.8h-.8zM53.8 130.9h.8v.8h-.8zM54.6 145.9h.8v.8h-.8zM52.1 133.2h.8v.8h-.8zM51.3 126.6h.8v.8h-.8zM52.6 135.9h.8v.8h-.8zM56.0 135.9h.8v.8h-.8zM58.0 145.1h.8v.8h-.8zM57.9 135.0h.8v.8h-.8zM52.6 136.4h.8v.8h-.8zM53.3 139.2h.8v.8h-.8zM52.9 143.6h.8v.8h-.8zM57.5 136.2h.8v.8h-.8zM49.1 141.2h.8v.8h-.8zM60.2 138.8h.8v.8h-.8zM54.4 135.2h.8v.8h-.8zM53.3 136.8h.8v.8h-.8zM57.2 136.6h.8v.8h-.8zM59.5 132.4h.8v.8h-.8zM57.2 142.0h.8v.8h-.8zM59.6 130.3h.8v.8h-.8zM56.5 141.8h.8v.8h-.8zM60.2 140.8h.8v.8h-.8zM60.2 136.1h.8v.8h-.8zM55.7 133.1h.8v.8h-.8zM60.9 135.5h.8v.8h-.8zM56.6 138.6h.8v.8h-.8zM56.3 139.8h.8v.8h-.8zM52.9 137.8h.8v.8h-.8zM55.0 141.0h.8v.8h-.8zM58.6 134.0h.8v.8h-.8zM51.5 137.6h.8v.8h-.8zM58.2 129.4h.8v.8h-.8zM57.2 139.9h.8v.8h-.8zM56.9 137.2h.8v.8h-.8zM48.5 134.6h.8v.8h-.8zM55.6 141.7h.8v.8h-.8zM58.2 139.6h.8v.8h-.8zM53.4 123.8h.8v.8h-.8zM56.3 136.7h.8v.8h-.8zM47.9 130.0h.8v.8h-.8zM58.3 141.3h.8v.8h-.8zM53.7 147.7h.8v.8h-.8zM59.0 134.2h.8v.8h-.8zM49.7 136.8h.8v.8h-.8zM58.4 135.4h.8v.8h-.8zM55.2 138.1h.8v.8h-.8zM58.7 139.4h.8v.8h-.8zM52.9 142.3h.8v.8h-.8zM53.9 132.1h.8v.8h-.8zM63.6 143.6h.8v.8h-.8zM53.2 132.3h.8v.8h-.8zM53.6 137.7h.8v.8h-.8zM55.1 141.7h.8v.8h-.8zM52.5 139.7h.8v.8h-.8zM60.0 132.3h.8v.8h-.8zM61.9 133.3h.8v.8h-.8zM53.6 134.4h.8v.8h-.8zM50.1 136.3h.8v.8h-.8zM60.0 141.7h.8v.8h-.8zM59.8 130.7h.8v.8h-.8zM58.8 138.6h.8v.8h-.8zM59.9 139.2h.8v.8h-.8zM53.1 139.0h.8v.8h-.8zM55.4 138.6h.8v.8h-.8zM51.3 143.3h.8v.8h-.8zM51.2 138.7h.8v.8h-.8zM59.3 140.4h.8v.8h-.8zM53.7 139.0h.8v.8h-.8zM63.8 144.6h.8v.8h-.8zM56.3 128.0h.8v.8h-.8zM53.8 142.3h.8v.8h-.8zM58.7 135.3h.8v.8h-.8zM62.1 135.2h.8v.8h-.8zM57.7 132.1h.8v.8h-.8zM51.9 128.1h.8v.8h-.8zM57.3 134.8h.8v.8h-.8zM60.7 133.4h.8v.8h-.8zM54.3 138.7h.8v.8h-.8zM53.4 129.9h.8v.8h-.8zM59.5 142.9h.8v.8h-.8zM56.5 137.7h.8v.8h-.8zM52.3 135.4h.8v.8h-.8zM54.7 133.3h.8v.8h-.8zM53.4 133.0h.8v.8h-.8zM57.0 131.4h.8v.8h-.8zM56.4 134.1h.8v.8h-.8zM59.9 136.5h.8v.8h-.8zM58.4 135.7h.8v.8h-.8zM50.7 130.1h.8v.8h-.8zM57.4 135.3h.8v.8h-.8zM59.0 132.5h.8v.8h-.8zM57.5 137.2h.8v.8h-.8zM59.5 144.9h.8v.8h-.8zM54.1 139.3h.8v.8h-.8zM52.8 135.1h.8v.8h-.8zM59.2 129.2h.8v.8h-.8zM52.4 130.1h.8v.8h-.8zM48.7 128.9h.8v.8h-.8zM59.5 139.8h.8v.8h-.8zM53.5 133.1h.8v.8h-.8zM55.0 136.8h.8v.8h-.8zM51.2 133.7h.8v.8h-.8zM51.5 136.9h.8v.8h-.8zM52.1 142.8h.8v.8h-.8zM54.8 133.4h.8v.8h-.8zM57.3 135.0h.8v.8h-.8zM48.2 132.9h.8v.8h-.8zM58.6 140.4h.8v.8h-.8zM52.0 131.9h.8v.8h-.8zM52.4 131.4h.8v.8h-.8zM32.5 137.4h.8v.8h-.8zM32.3 137.0h.8v.8h-.8zM49.2 126.9h.8v.8h-.8zM68.1 141.1h.8v.8h-.8zM36.0 142.2h.8v.8h-.8zM53.6 137.6h.8v.8h-.8zM47.3 147.0h.8v.8h-.8zM35.1 148.2h.8v.8h-.8zM42.5 129.8h.8v.8h-.8zM42.9 143.2h.8v.8h-.8zM38.8 139.6h.8v.8h-.8zM62.4 139.5h.8v.8h-.8zM27.8 142.6h.8v.8h-.8zM48.4 132.7h.8v.8h-.8zM48.0 133.4h.8v.8h-.8zM39.8 132.0h.8v.8h-.8zM46.3 132.5h.8v.8h-.8zM52.9 136.4h.8v.8h-.8zM46.4 128.3h.8v.8h-.8zM48.8 130.7h.8v.8h-.8zM51.2 140.5h.8v.8h-.8zM26.7 136.6h.8v.8h-.8zM58.3 139.3h.8v.8h-.8zM65.5 125.7h.8v.8h-.8zM53.8 132.3h.8v.8h-.8zM54.1 133.7h.8v.8h-.8zM32.3 137.2h.8v.8h-.8zM43.9 133.5h.8v.8h-.8zM37.7 142.6h.8v.8h-.8zM39.7 136.7h.8v.8h-.8zM53.7 137.1h.8v.8h-.8zM37.8 137.1h.8v.8h-.8zM43.8 141.2h.8v.8h-.8zM27.8 134.2h.8v.8h-.8zM43.6 143.7h.8v.8h-.8zM45.8 139.8h.8v.8h-.8zM38.7 137.9h.8v.8h-.8zM38.5 137.3h.8v.8h-.8zM62.0 140.1h.8v.8h-.8zM34.1 143.1h.8v.8h-.8zM35.5 142.7h.8v.8h-.8zM37.7 139.3h.8v.8h-.8zM55.8 142.3h.8v.8h-.8zM63.9 137.7h.8v.8h-.8zM48.0 144.5h.8v.8h-.8zM38.5 136.8h.8v.8h-.8zM41.2 124.5h.8v.8h-.8zM54.6 145.0h.8v.8h-.8zM36.8 137.6h.8v.8h-.8zM58.1 130.0h.8v.8h-.8zM57.7 135.8h.8v.8h-.8zM45.6 131.7h.8v.8h-.8zM50.8 149.6h.8v.8h-.8zM51.7 140.0h.8v.8h-.8zM59.0 127.6h.8v.8h-.8zM35.5 140.3h.8v.8h-.8zM55.6 134.6h.8v.8h-.8zM41.6 148.5h.8v.8h-.8zM38.1 130.7h.8v.8h-.8zM45.9 123.5h.8v.8h-.8zM43.1 137.4h.8v.8h-.8zM36.1 134.9h.8v.8h-.8zM30.6 134.5h.8v.8h-.8zM36.5 124.2h.8v.8h-.8zM58.1 139.6h.8v.8h-.8zM62.7 147.0h.8v.8h-.8zM50.9 125.5h.8v.8h-.8zM55.7 144.0h.8v.8h-.8zM40.3 133.6h.8v.8h-.8zM44.3 151.1h.8v.8h-.8zM47.5 139.6h.8v.8h-.8zM35.3 135.9h.8v.8h-.8zM36.1 143.6h.8v.8h-.8zM45.9 140.2h.8v.8h-.8zM42.1 133.4h.8v.8h-.8zM35.4 141.3h.8v.8h-.8zM48.5 133.9h.8v.8h-.8zM42.6 126.3h.8v.8h-.8zM54.2 149.2h.8v.8h-.8zM45.0 134.9h.8v.8h-.8zM42.3 133.3h.8v.8h-.8zM46.1 139.0h.8v.8h-.8zM43.5 127.6h.8v.8h-.8zM39.0 128.9h.8v.8h-.8zM41.4 134.0h.8v.8h-.8zM51.7 133.9h.8v.8h-.8zM50.8 137.4h.8v.8h-.8zM56.6 143.7h.8v.8h-.8zM29.8 134.2h.8v.8h-.8zM41.5 140.0h.8v.8h-.8zM41.3 140.6h.8v.8h-.8zM46.5 130.5h.8v.8h-.8zM40.9 138.4h.8v.8h-.8zM40.4 131.3h.8v.8h-.8zM52.0 143.4h.8v.8h-.8zM46.6 139.7h.8v.8h-.8zM34.5 137.1h.8v.8h-.8zM57.0 129.0h.8v.8h-.8zM54.0 137.7h.8v.8h-.8zM39.8 132.4h.8v.8h-.8zM52.5 141.2h.8v.8h-.8zM38.4 136.3h.8v.8h-.8zM55.1 132.1h.8v.8h-.8zM43.0 142.6h.8v.8h-.8zM37.8 141.3h.8v.8h-.8zM41.6 133.4h.8v.8h-.8zM38.1 144.0h.8v.8h-.8zM46.7 135.2h.8v.8h-.8zM46.6 135.1h.8v.8h-.8zM45.3 137.7h.8v.8h-.8zM40.0 132.5h.8v.8h-.8zM45.8 136.0h.8v.8h-.8zM27.9 146.2h.8v.8h-.8zM47.2 146.0h.8v.8h-.8zM55.2 135.4h.8v.8h-.8zM47.5 146.7h.8v.8h-.8zM41.5 136.7h.8v.8h-.8zM43.4 139.3h.8v.8h-.8zM43.8 142.3h.8v.8h-.8zM40.1 138.8h.8v.8h-.8zM39.7 151.5h.8v.8h-.8zM36.7 138.5h.8v.8h-.8zM55.7 129.8h.8v.8h-.8zM44.9 144.8h.8v.8h-.8zM53.6 134.5h.8v.8h-.8zM42.7 135.2h.8v.8h-.8zM45.6 119.0h.8v.8h-.8zM43.5 143.0h.8v.8h-.8zM49.2 141.9h.8v.8h-.8zM52.4 141.8h.8v.8h-.8zM47.2 142.9h.8v.8h-.8zM38.9 147.1h.8v.8h-.8zM38.0 136.7h.8v.8h-.8zM59.9 142.6h.8v.8h-.8zM42.5 132.5h.8v.8h-.8zM42.4 134.9h.8v.8h-.8zM58.2 143.3h.8v.8h-.8zM54.8 139.3h.8v.8h-.8zM49.8 129.0h.8v.8h-.8zM41.4 139.2h.8v.8h-.8zM66.2 135.9h.8v.8h-.8zM48.5 132.1h.8v.8h-.8zM49.9 139.6h.8v.8h-.8zM43.5 134.6h.8v.8h-.8zM32.3 127.6h.8v.8h-.8zM33.0 130.3h.8v.8h-.8zM48.7 147.6h.8v.8h-.8zM48.5 127.9h.8v.8h-.8zM42.8 138.3h.8v.8h-.8zM34.5 140.7h.8v.8h-.8zM32.0 140.8h.8v.8h-.8zM42.0 129.6h.8v.8h-.8zM31.9 135.1h.8v.8h-.8zM53.1 137.8h.8v.8h-.8zM55.4 141.8h.8v.8h-.8zM52.9 130.0h.8v.8h-.8zM39.7 143.0h.8v.8h-.8zM37.2 143.6h.8v.8h-.8zM39.6 133.3h.8v.8h-.8zM43.4 139.4h.8v.8h-.8zM53.7 137.7h.8v.8h-.8zM50.5 142.0h.8v.8h-.8zM50.3 129.5h.8v.8h-.8zM46.9 137.7h.8v.8h-.8zM50.9 136.0h.8v.8h-.8zM58.0 130.3h.8v.8h-.8zM35.4 138.3h.8v.8h-.8zM40.9 137.2h.8v.8h-.8zM32.5 134.5h.8v.8h-.8zM59.6 139.4h.8v.8h-.8zM56.7 128.5h.8v.8h-.8zM51.8 136.7h.8v.8h-.8zM34.2 139.6h.8v.8h-.8zM46.6 138.7h.8v.8h-.8zM42.9 143.5h.8v.8h-.8zM45.7 129.8h.8v.8h-.8zM43.3 128.0h.8v.8h-.8zM49.7 138.4h.8v.8h-.8zM41.4 139.7h.8v.8h-.8zM52.7 149.7h.8v.8h-.8zM47.2 140.7h.8v.8h-.8zM42.4 131.8h.8v.8h-.8zM44.0 141.8h.8v.8h-.8zM41.0 131.9h.8v.8h-.8zM52.3 128.1h.8v.8h-.8zM42.6 152.7h.8v.8h-.8zM47.7 139.0h.8v.8h-.8zM41.5 141.3h.8v.8h-.8zM31.6 140.4h.8v.8h-.8zM53.2 147.9h.8v.8h-.8zM35.5 138.7h.8v.8h-.8zM51.1 144.3h.8v.8h-.8zM48.8 130.8h.8v.8h-.8zM30.1 128.6h.8v.8h-.8zM36.5 145.6h.8v.8h-.8zM40.4 145.8h.8v.8h-.8zM37.6 140.1h.8v.8h-.8zM34.4 138.4h.8v.8h-.8zM51.7 138.0h.8v.8h-.8zM42.8 132.9h.8v.8h-.8zM48.5 146.2h.8v.8h-.8zM41.1 141.0h.8v.8h-.8zM47.7 140.0h.8v.8h-.8zM38.2 139.3h.8v.8h-.8zM44.8 143.3h.8v.8h-.8zM50.2 140.0h.8v.8h-.8zM45.4 141.5h.8v.8h-.8zM40.9 130.0h.8v.8h-.8zM35.2 140.1h.8v.8h-.8zM46.5 150.1h.8v.8h-.8zM48.1 133.9h.8v.8h-.8zM42.7 136.2h.8v.8h-.8zM38.1 142.4h.8v.8h-.8zM49.9 142.7h.8v.8h-.8zM67.3 140.7h.8v.8h-.8zM42.3 127.3h.8v.8h-.8zM48.0 140.0h.8v.8h-.8zM48.4 129.9h.8v.8h-.8zM21.9 132.1h.8v.8h-.8zM46.1 140.3h.8v.8h-.8zM38.6 135.2h.8v.8h-.8zM57.5 141.9h.8v.8h-.8zM42.7 155.9h.8v.8h-.8zM38.0 141.7h.8v.8h-.8zM43.0 141.3h.8v.8h-.8zM46.5 131.6h.8v.8h-.8zM40.0 133.1h.8v.8h-.8zM44.5 130.6h.8v.8h-.8zM32.8 133.8h.8v.8h-.8zM43.0 130.4h.8v.8h-.8zM52.0 133.0h.8v.8h-.8zM62.7 135.7h.8v.8h-.8zM51.4 131.0h.8v.8h-.8zM47.4 128.5h.8v.8h-.8zM55.7 128.8h.8v.8h-.8zM54.2 139.7h.8v.8h-.8zM60.0 137.4h.8v.8h-.8zM54.7 143.2h.8v.8h-.8zM43.9 143.3h.8v.8h-.8zM47.3 135.0h.8v.8h-.8zM46.6 141.0h.8v.8h-.8zM47.7 128.4h.8v.8h-.8zM46.8 150.7h.8v.8h-.8zM38.0 144.2h.8v.8h-.8zM26.1 135.7h.8v.8h-.8zM39.0 130.0h.8v.8h-.8zM26.8 139.3h.8v.8h-.8zM35.2 126.2h.8v.8h-.8zM45.0 120.9h.8v.8h-.8zM58.7 128.0h.8v.8h-.8zM52.7 118.2h.8v.8h-.8zM47.6 128.4h.8v.8h-.8zM60.6 118.5h.8v.8h-.8zM42.7 120.0h.8v.8h-.8zM54.6 131.3h.8v.8h-.8zM47.5 115.5h.8v.8h-.8zM44.4 119.8h.8v.8h-.8zM56.2 126.1h.8v.8h-.8zM43.1 113.0h.8v.8h-.8zM69.1 135.8h.8v.8h-.8zM46.7 125.0h.8v.8h-.8zM69.9 118.1h.8v.8h-.8zM42.2 121.4h.8v.8h-.8zM57.5 120.1h.8v.8h-.8zM41.2 117.1h.8v.8h-.8zM39.9 121.7h.8v.8h-.8zM53.4 119.6h.8v.8h-.8zM58.1 131.9h.8v.8h-.8zM40.5 116.6h.8v.8h-.8zM62.7 133.0h.8v.8h-.8zM44.8 122.0h.8v.8h-.8zM53.2 130.0h.8v.8h-.8zM55.4 121.2h.8v.8h-.8zM57.4 121.9h.8v.8h-.8zM66.6 131.3h.8v.8h-.8zM57.1 131.4h.8v.8h-.8zM48.2 137.3h.8v.8h-.8zM42.8 130.5h.8v.8h-.8zM36.8 122.1h.8v.8h-.8zM39.7 119.7h.8v.8h-.8zM56.9 127.7h.8v.8h-.8zM48.9 123.1h.8v.8h-.8zM41.8 131.4h.8v.8h-.8zM47.3 129.2h.8v.8h-.8zM66.1 121.7h.8v.8h-.8zM49.0 118.7h.8v.8h-.8zM46.7 131.9h.8v.8h-.8zM64.2 128.9h.8v.8h-.8zM56.2 123.4h.8v.8h-.8zM52.4 132.0h.8v.8h-.8zM46.5 120.1h.8v.8h-.8zM38.0 118.9h.8v.8h-.8zM41.5 118.5h.8v.8h-.8zM47.7 109.9h.8v.8h-.8zM50.0 129.3h.8v.8h-.8zM55.2 116.7h.8v.8h-.8zM57.0 121.4h.8v.8h-.8zM54.0 119.5h.8v.8h-.8zM54.0 129.3h.8v.8h-.8zM42.9 121.4h.8v.8h-.8zM32.6 119.6h.8v.8h-.8zM47.3 111.7h.8v.8h-.8zM43.4 121.4h.8v.8h-.8zM46.1 112.8h.8v.8h-.8zM49.5 125.5h.8v.8h-.8zM40.8 123.8h.8v.8h-.8zM42.0 121.6h.8v.8h-.8zM51.1 137.4h.8v.8h-.8zM53.0 127.8h.8v.8h-.8zM46.1 126.6h.8v.8h-.8zM56.5 126.0h.8v.8h-.8zM50.0 122.3h.8v.8h-.8zM42.8 128.3h.8v.8h-.8zM52.4 131.4h.8v.8h-.8zM68.9 119.3h.8v.8h-.8zM45.9 129.6h.8v.8h-.8zM62.5 129.9h.8v.8h-.8zM64.4 133.3h.8v.8h-.8zM65.5 130.3h.8v.8h-.8zM44.6 114.0h.8v.8h-.8zM53.0 136.4h.8v.8h-.8zM49.7 125.2h.8v.8h-.8zM49.9 114.1h.8v.8h-.8zM57.4 127.6h.8v.8h-.8zM52.5 121.7h.8v.8h-.8zM50.4 111.3h.8v.8h-.8zM63.6 111.4h.8v.8h-.8zM45.5 111.8h.8v.8h-.8zM42.6 123.6h.8v.8h-.8zM59.1 125.3h.8v.8h-.8zM58.3 123.8h.8v.8h-.8zM61.8 128.2h.8v.8h-.8zM42.4 125.8h.8v.8h-.8zM61.7 112.2h.8v.8h-.8zM56.3 123.0h.8v.8h-.8zM67.9 122.2h.8v.8h-.8zM40.8 113.1h.8v.8h-.8zM54.0 120.8h.8v.8h-.8zM49.5 122.6h.8v.8h-.8zM37.7 118.9h.8v.8h-.8zM45.6 112.8h.8v.8h-.8zM62.1 123.1h.8v.8h-.8zM47.8 136.5h.8v.8h-.8zM45.5 115.4h.8v.8h-.8zM59.8 114.6h.8v.8h-.8zM60.9 127.9h.8v.8h-.8zM60.9 130.1h.8v.8h-.8zM44.9 125.4h.8v.8h-.8zM51.5 116.4h.8v.8h-.8zM61.3 132.8h.8v.8h-.8zM46.1 117.4h.8v.8h-.8zM45.3 114.8h.8v.8h-.8zM59.5 121.7h.8v.8h-.8zM66.1 126.6h.8v.8h-.8zM41.6 126.3h.8v.8h-.8zM28.6 122.7h.8v.8h-.8zM38.9 120.8h.8v.8h-.8zM42.9 128.1h.8v.8h-.8zM50.8 124.3h.8v.8h-.8zM57.5 131.3h.8v.8h-.8zM50.7 114.3h.8v.8h-.8zM45.7 112.0h.8v.8h-.8zM53.4 129.5h.8v.8h-.8zM43.3 112.7h.8v.8h-.8zM51.6 121.9h.8v.8h-.8zM46.2 122.0h.8v.8h-.8zM59.4 122.7h.8v.8h-.8zM44.5 131.5h.8v.8h-.8zM48.1 129.0h.8v.8h-.8zM37.2 135.9h.8v.8h-.8zM45.4 122.6h.8v.8h-.8zM45.4 122.3h.8v.8h-.8zM60.0 130.7h.8v.8h-.8zM48.2 135.3h.8v.8h-.8zM44.9 114.4h.8v.8h-.8zM39.9 121.8h.8v.8h-.8zM41.4 120.3h.8v.8h-.8zM51.4 127.6h.8v.8h-.8zM50.1 124.6h.8v.8h-.8zM62.2 130.8h.8v.8h-.8zM46.3 119.9h.8v.8h-.8zM61.5 126.6h.8v.8h-.8zM54.3 120.1h.8v.8h-.8zM52.0 119.6h.8v.8h-.8zM33.9 118.8h.8v.8h-.8zM40.4 120.3h.8v.8h-.8zM58.7 117.7h.8v.8h-.8zM64.6 137.4h.8v.8h-.8zM53.9 123.5h.8v.8h-.8zM58.9 116.4h.8v.8h-.8zM48.3 130.5h.8v.8h-.8zM48.7 118.2h.8v.8h-.8zM46.0 126.0h.8v.8h-.8zM60.8 125.9h.8v.8h-.8zM55.1 126.4h.8v.8h-.8zM49.9 124.7h.8v.8h-.8zM49.0 119.5h.8v.8h-.8zM57.0 125.4h.8v.8h-.8zM54.9 138.3h.8v.8h-.8zM67.4 128.0h.8v.8h-.8zM54.3 127.4h.8v.8h-.8zM52.1 117.0h.8v.8h-.8zM65.3 118.0h.8v.8h-.8zM61.2 140.6h.8v.8h-.8zM51.2 121.3h.8v.8h-.8zM56.8 139.0h.8v.8h-.8zM42.4 125.3h.8v.8h-.8zM46.2 123.2h.8v.8h-.8zM31.7 122.4h.8v.8h-.8zM63.0 130.8h.8v.8h-.8zM34.9 127.9h.8v.8h-.8zM58.1 128.3h.8v.8h-.8zM44.5 123.2h.8v.8h-.8zM43.2 123.1h.8v.8h-.8zM50.2 132.6h.8v.8h-.8zM54.4 130.0h.8v.8h-.8zM57.5 118.6h.8v.8h-.8zM67.9 123.5h.8v.8h-.8zM55.2 127.0h.8v.8h-.8zM59.9 121.7h.8v.8h-.8zM46.6 120.2h.8v.8h-.8zM58.4 119.1h.8v.8h-.8zM53.4 122.6h.8v.8h-.8zM47.8 125.9h.8v.8h-.8zM51.1 130.4h.8v.8h-.8zM51.4 123.9h.8v.8h-.8zM53.7 138.3h.8v.8h-.8zM55.6 124.3h.8v.8h-.8zM47.4 144.3h.8v.8h-.8zM45.3 129.1h.8v.8h-.8zM58.7 128.9h.8v.8h-.8zM66.0 126.2h.8v.8h-.8zM27.6 119.5h.8v.8h-.8zM45.8 135.4h.8v.8h-.8zM58.2 116.2h.8v.8h-.8zM37.1 133.3h.8v.8h-.8zM28.7 123.4h.8v.8h-.8zM64.9 110.1h.8v.8h-.8zM66.0 128.2h.8v.8h-.8zM39.6 158.8h.8v.8h-.8zM49.8 158.2h.8v.8h-.8zM43.9 150.7h.8v.8h-.8zM31.6 159.0h.8v.8h-.8zM52.5 151.4h.8v.8h-.8zM49.9 160.6h.8v.8h-.8zM49.0 155.4h.8v.8h-.8zM53.1 150.7h.8v.8h-.8zM54.0 157.0h.8v.8h-.8zM42.8 149.1h.8v.8h-.8zM29.4 148.3h.8v.8h-.8zM29.2 145.7h.8v.8h-.8zM56.5 154.3h.8v.8h-.8zM50.1 152.7h.8v.8h-.8zM44.0 152.6h.8v.8h-.8zM38.7 151.0h.8v.8h-.8zM43.3 160.2h.8v.8h-.8zM43.2 150.9h.8v.8h-.8zM39.6 149.4h.8v.8h-.8zM36.0 159.2h.8v.8h-.8zM64.6 160.1h.8v.8h-.8zM45.3 154.7h.8v.8h-.8zM36.9 144.3h.8v.8h-.8zM30.0 150.0h.8v.8h-.8zM35.7 156.1h.8v.8h-.8zM50.2 153.1h.8v.8h-.8zM50.6 160.8h.8v.8h-.8zM40.8 146.2h.8v.8h-.8zM43.5 156.4h.8v.8h-.8zM39.9 149.9h.8v.8h-.8zM31.9 159.6h.8v.8h-.8zM56.0 152.6h.8v.8h-.8zM46.7 158.2h.8v.8h-.8zM67.8 149.8h.8v.8h-.8zM35.4 146.0h.8v.8h-.8zM41.6 147.4h.8v.8h-.8zM51.8 150.0h.8v.8h-.8zM40.5 147.9h.8v.8h-.8zM29.1 159.0h.8v.8h-.8zM33.5 159.7h.8v.8h-.8zM44.0 154.4h.8v.8h-.8zM46.4 147.8h.8v.8h-.8zM42.1 152.4h.8v.8h-.8zM53.0 149.6h.8v.8h-.8zM52.9 160.3h.8v.8h-.8zM46.2 154.6h.8v.8h-.8zM43.3 155.4h.8v.8h-.8zM40.5 151.0h.8v.8h-.8zM48.5 142.9h.8v.8h-.8zM52.2 149.1h.8v.8h-.8zM43.6 147.4h.8v.8h-.8zM47.5 154.9h.8v.8h-.8zM39.8 153.5h.8v.8h-.8zM28.9 149.0h.8v.8h-.8zM33.0 151.1h.8v.8h-.8zM50.7 160.8h.8v.8h-.8zM47.5 148.2h.8v.8h-.8zM58.9 148.4h.8v.8h-.8zM43.6 151.9h.8v.8h-.8zM51.6 149.5h.8v.8h-.8zM56.2 150.9h.8v.8h-.8zM52.9 155.7h.8v.8h-.8zM36.9 161.7h.8v.8h-.8zM41.2 144.1h.8v.8h-.8zM44.3 152.9h.8v.8h-.8zM33.1 153.2h.8v.8h-.8zM47.7 152.6h.8v.8h-.8zM53.2 152.1h.8v.8h-.8zM38.2 151.3h.8v.8h-.8zM62.7 158.0h.8v.8h-.8zM40.1 150.7h.8v.8h-.8zM41.0 152.4h.8v.8h-.8zM40.6 153.0h.8v.8h-.8zM35.9 153.5h.8v.8h-.8zM47.2 152.1h.8v.8h-.8zM43.2 158.0h.8v.8h-.8zM59.6 153.0h.8v.8h-.8zM49.1 153.9h.8v.8h-.8zM48.4 152.7h.8v.8h-.8zM40.8 148.0h.8v.8h-.8zM28.9 148.9h.8v.8h-.8zM42.1 147.7h.8v.8h-.8zM34.5 154.0h.8v.8h-.8zM52.5 149.4h.8v.8h-.8zM42.7 147.7h.8v.8h-.8zM59.7 154.2h.8v.8h-.8zM50.4 155.6h.8v.8h-.8zM51.4 144.2h.8v.8h-.8zM45.3 161.4h.8v.8h-.8zM45.1 153.2h.8v.8h-.8zM49.5 152.5h.8v.8h-.8zM52.2 158.3h.8v.8h-.8zM35.9 153.3h.8v.8h-.8zM47.9 150.0h.8v.8h-.8zM42.1 147.6h.8v.8h-.8zM40.4 152.5h.8v.8h-.8zM36.1 157.2h.8v.8h-.8zM28.5 147.7h.8v.8h-.8zM54.9 152.5h.8v.8h-.8zM43.6 154.9h.8v.8h-.8zM61.4 148.5h.8v.8h-.8zM68.1 152.8h.8v.8h-.8zM34.1 156.3h.8v.8h-.8zM53.5 153.4h.8v.8h-.8zM49.2 147.0h.8v.8h-.8zM47.0 155.0h.8v.8h-.8zM47.8 153.5h.8v.8h-.8zM42.8 155.2h.8v.8h-.8zM58.9 158.7h.8v.8h-.8zM49.2 158.1h.8v.8h-.8zM46.5 155.0h.8v.8h-.8zM55.5 154.6h.8v.8h-.8zM52.0 147.5h.8v.8h-.8zM47.6 152.3h.8v.8h-.8zM46.3 154.1h.8v.8h-.8zM60.6 151.0h.8v.8h-.8zM48.1 153.5h.8v.8h-.8zM42.1 148.9h.8v.8h-.8zM34.5 160.7h.8v.8h-.8zM39.6 163.8h.8v.8h-.8zM32.5 151.1h.8v.8h-.8zM44.1 155.0h.8v.8h-.8zM45.6 151.8h.8v.8h-.8zM22.5 159.3h.8v.8h-.8zM43.2 155.2h.8v.8h-.8zM49.5 153.4h.8v.8h-.8zM44.7 151.9h.8v.8h-.8zM33.5 153.6h.8v.8h-.8zM55.7 148.0h.8v.8h-.8zM36.1 156.4h.8v.8h-.8zM30.7 149.4h.8v.8h-.8zM32.2 155.7h.8v.8h-.8zM42.9 153.6h.8v.8h-.8zM52.9 158.5h.8v.8h-.8zM54.7 152.9h.8v.8h-.8zM45.1 158.1h.8v.8h-.8zM31.1 148.4h.8v.8h-.8zM36.5 156.0h.8v.8h-.8zM34.0 151.9h.8v.8h-.8zM41.2 154.0h.8v.8h-.8zM25.3 153.4h.8v.8h-.8zM44.1 157.7h.8v.8h-.8zM49.5 142.9h.8v.8h-.8zM41.5 154.6h.8v.8h-.8zM47.6 145.5h.8v.8h-.8zM33.6 159.0h.8v.8h-.8zM28.5 143.1h.8v.8h-.8zM36.6 148.0h.8v.8h-.8zM53.6 148.8h.8v.8h-.8zM55.6 153.0h.8v.8h-.8zM62.6 149.1h.8v.8h-.8zM59.3 154.3h.8v.8h-.8zM53.0 153.2h.8v.8h-.8zM60.3 158.7h.8v.8h-.8zM65.3 154.1h.8v.8h-.8zM66.7 160.8h.8v.8h-.8zM60.2 149.7h.8v.8h-.8zM62.0 146.7h.8v.8h-.8zM60.1 157.1h.8v.8h-.8zM63.7 154.1h.8v.8h-.8zM63.8 138.2h.8v.8h-.8zM63.0 135.3h.8v.8h-.8zM58.9 152.8h.8v.8h-.8zM58.2 156.2h.8v.8h-.8zM69.3 156.4h.8v.8h-.8zM56.4 139.7h.8v.8h-.8zM57.4 158.3h.8v.8h-.8zM61.5 145.7h.8v.8h-.8zM59.9 153.1h.8v.8h-.8zM50.2 143.6h.8v.8h-.8zM63.8 145.3h.8v.8h-.8zM65.6 133.4h.8v.8h-.8zM56.4 142.7h.8v.8h-.8zM58.8 135.6h.8v.8h-.8zM64.2 153.5h.8v.8h-.8zM57.4 157.3h.8v.8h-.8zM54.1 152.9h.8v.8h-.8zM66.9 144.9h.8v.8h-.8zM69.6 152.8h.8v.8h-.8zM60.3 146.9h.8v.8h-.8zM50.9 154.9h.8v.8h-.8zM69.3 152.5h.8v.8h-.8zM61.0 142.1h.8v.8h-.8zM67.6 150.0h.8v.8h-.8zM61.8 150.4h.8v.8h-.8zM60.1 147.5h.8v.8h-.8zM59.7 157.2h.8v.8h-.8zM69.4 163.7h.8v.8h-.8zM69.2 147.1h.8v.8h-.8zM51.3 147.2h.8v.8h-.8zM57.3 132.0h.8v.8h-.8zM60.2 146.5h.8v.8h-.8zM55.2 132.7h.8v.8h-.8zM62.0 152.3h.8v.8h-.8zM61.5 154.7h.8v.8h-.8zM61.5 144.1h.8v.8h-.8zM59.6 147.0h.8v.8h-.8zM60.4 142.3h.8v.8h-.8zM59.7 156.1h.8v.8h-.8zM63.7 137.9h.8v.8h-.8zM57.9 147.5h.8v.8h-.8zM36.9 125.0h.8v.8h-.8zM57.5 155.3h.8v.8h-.8zM63.6 117.5h.8v.8h-.8zM26.3 134.0h.8v.8h-.8zM68.5 142.9h.8v.8h-.8zM49.7 126.4h.8v.8h-.8zM69.8 118.3h.8v.8h-.8zM46.1 145.9h.8v.8h-.8zM59.9 153.7h.8v.8h-.8zM36.7 123.2h.8v.8h-.8zM69.2 139.1h.8v.8h-.8zM59.5 155.7h.8v.8h-.8zM46.7 129.6h.8v.8h-.8zM51.7 163.1h.8v.8h-.8zM47.2 152.2h.8v.8h-.8zM63.8 150.5h.8v.8h-.8zM42.2 118.0h.8v.8h-.8zM53.7 154.7h.8v.8h-.8zM68.3 116.6h.8v.8h-.8zM21.7 143.8h.8v.8h-.8zM60.8 112.3h.8v.8h-.8zM49.1 123.0h.8v.8h-.8zM20.0 152.0h.8v.8h-.8zM32.0 131.6h.8v.8h-.8zM22.7 126.6h.8v.8h-.8zM22.8 122.5h.8v.8h-.8zM47.2 124.8h.8v.8h-.8zM52.1 158.6h.8v.8h-.8zM47.1 109.6h.8v.8h-.8zM68.1 119.1h.8v.8h-.8zM34.5 137.6h.8v.8h-.8zM49.4 127.2h.8v.8h-.8zM39.6 143.2h.8v.8h-.8zM40.6 123.9h.8v.8h-.8zM38.0 129.6h.8v.8h-.8zM31.5 141.8h.8v.8h-.8zM43.6 131.1h.8v.8h-.8zM54.4 153.7h.8v.8h-.8zM51.1 127.2h.8v.8h-.8zM66.8 113.9h.8v.8h-.8zM59.6 131.7h.8v.8h-.8zM37.2 155.4h.8v.8h-.8zM51.4 162.7h.8v.8h-.8zM63.6 114.5h.8v.8h-.8zM43.1 151.1h.8v.8h-.8zM20.0 138.5h.8v.8h-.8zM69.9 121.4h.8v.8h-.8zM21.9 124.3h.8v.8h-.8z" fill="#000" fill-opacity="0.8"/>
<rect x="24.40" y="127.70" width="26.60" height="20.90" fill="none" stroke="#fff" stroke-opacity="0.8" stroke-width="0.9"/>
<rect x="23.50" y="126.80" width="28.40" height="22.70" fill="none" stroke="#3a3a3a" stroke-width="0.8"/>
<text class="h" x="18.30" y="117.00" font-size="6.8" font-weight="normal" text-anchor="start" fill="#111" textLength="19.00" lengthAdjust="spacingAndGlyphs">73.5%</text>
<rect x="83.40" y="107.90" width="55.80" height="56.90" fill="#fff" stroke="#a0a0a0" stroke-width="0.8"/>
<ellipse cx="120" cy="138" rx="16" ry="9" fill="#000" fill-opacity="0.18" filter="url(#bl2)"/>
<ellipse cx="123" cy="137.5" rx="11" ry="6.5" fill="#000" fill-opacity="0.55" filter="url(#bl2)"/>
<ellipse cx="127" cy="136" rx="6" ry="5" fill="#000" fill-opacity="0.4" filter="url(#bl2)"/>
<ellipse cx="109" cy="139" rx="6" ry="5.5" fill="#000" fill-opacity="0.25" filter="url(#bl2)"/>
<path d="M115.9 138.2h.8v.8h-.8zM122.6 141.3h.8v.8h-.8zM129.7 136.0h.8v.8h-.8zM121.5 139.5h.8v.8h-.8zM125.8 138.2h.8v.8h-.8zM120.4 126.6h.8v.8h-.8zM135.7 135.6h.8v.8h-.8zM130.0 144.3h.8v.8h-.8zM131.2 135.5h.8v.8h-.8zM117.7 136.8h.8v.8h-.8zM118.9 134.5h.8v.8h-.8zM130.9 135.1h.8v.8h-.8zM123.9 143.1h.8v.8h-.8zM123.6 136.2h.8v.8h-.8zM126.8 132.4h.8v.8h-.8zM118.1 121.9h.8v.8h-.8zM129.3 134.6h.8v.8h-.8zM125.1 127.7h.8v.8h-.8zM127.6 128.4h.8v.8h-.8zM121.3 141.5h.8v.8h-.8zM127.8 141.0h.8v.8h-.8zM121.1 127.9h.8v.8h-.8zM130.2 141.8h.8v.8h-.8zM131.2 139.8h.8v.8h-.8zM130.0 133.6h.8v.8h-.8zM127.8 141.2h.8v.8h-.8zM128.5 129.4h.8v.8h-.8zM110.1 131.5h.8v.8h-.8zM129.6 130.3h.8v.8h-.8zM123.5 131.9h.8v.8h-.8zM125.5 141.9h.8v.8h-.8zM123.4 130.8h.8v.8h-.8zM117.3 131.7h.8v.8h-.8zM122.0 132.7h.8v.8h-.8zM128.6 138.5h.8v.8h-.8zM132.8 135.8h.8v.8h-.8zM121.6 141.8h.8v.8h-.8zM120.0 133.9h.8v.8h-.8zM133.0 131.1h.8v.8h-.8zM120.1 135.0h.8v.8h-.8zM136.4 137.7h.8v.8h-.8zM125.3 132.8h.8v.8h-.8zM120.1 138.9h.8v.8h-.8zM130.4 146.6h.8v.8h-.8zM134.3 134.6h.8v.8h-.8zM117.1 137.7h.8v.8h-.8zM133.6 144.2h.8v.8h-.8zM123.5 134.2h.8v.8h-.8zM133.2 133.2h.8v.8h-.8zM122.9 132.0h.8v.8h-.8zM116.3 139.4h.8v.8h-.8zM127.8 140.0h.8v.8h-.8zM130.1 136.7h.8v.8h-.8zM136.5 137.6h.8v.8h-.8zM134.5 143.8h.8v.8h-.8zM128.8 141.7h.8v.8h-.8zM123.7 130.4h.8v.8h-.8zM122.1 137.4h.8v.8h-.8zM123.4 137.9h.8v.8h-.8zM120.4 141.0h.8v.8h-.8zM123.5 136.3h.8v.8h-.8zM111.0 134.2h.8v.8h-.8zM126.0 135.1h.8v.8h-.8zM124.8 128.5h.8v.8h-.8zM129.2 134.4h.8v.8h-.8zM122.4 139.7h.8v.8h-.8zM128.1 132.2h.8v.8h-.8zM118.3 135.2h.8v.8h-.8zM121.7 132.5h.8v.8h-.8zM114.7 132.0h.8v.8h-.8zM132.9 140.8h.8v.8h-.8zM128.3 135.0h.8v.8h-.8zM118.5 139.6h.8v.8h-.8zM124.7 131.7h.8v.8h-.8zM130.2 137.8h.8v.8h-.8zM127.7 128.9h.8v.8h-.8zM127.1 134.9h.8v.8h-.8zM120.3 134.8h.8v.8h-.8zM121.5 140.2h.8v.8h-.8zM125.5 138.2h.8v.8h-.8zM130.1 136.4h.8v.8h-.8zM120.4 141.5h.8v.8h-.8zM118.8 138.2h.8v.8h-.8zM131.3 140.0h.8v.8h-.8zM119.9 141.1h.8v.8h-.8zM130.9 137.0h.8v.8h-.8zM126.3 135.8h.8v.8h-.8zM129.8 138.9h.8v.8h-.8zM134.6 135.2h.8v.8h-.8zM128.8 139.2h.8v.8h-.8zM129.3 142.8h.8v.8h-.8zM120.0 141.5h.8v.8h-.8zM121.2 135.4h.8v.8h-.8zM128.5 130.9h.8v.8h-.8zM133.4 137.0h.8v.8h-.8zM132.7 136.6h.8v.8h-.8zM137.7 142.8h.8v.8h-.8zM126.7 135.4h.8v.8h-.8zM126.1 136.2h.8v.8h-.8zM130.5 140.9h.8v.8h-.8zM125.1 134.9h.8v.8h-.8zM124.7 136.5h.8v.8h-.8zM119.2 145.8h.8v.8h-.8zM130.5 144.7h.8v.8h-.8zM119.1 140.4h.8v.8h-.8zM127.8 138.6h.8v.8h-.8zM117.2 132.4h.8v.8h-.8zM131.0 140.1h.8v.8h-.8zM119.3 137.6h.8v.8h-.8zM129.6 138.4h.8v.8h-.8zM116.3 134.7h.8v.8h-.8zM122.6 137.2h.8v.8h-.8zM131.5 136.3h.8v.8h-.8zM120.6 138.8h.8v.8h-.8zM125.4 144.4h.8v.8h-.8zM122.4 139.1h.8v.8h-.8zM112.3 129.0h.8v.8h-.8zM126.7 132.4h.8v.8h-.8zM127.4 129.4h.8v.8h-.8zM118.9 133.3h.8v.8h-.8zM128.2 140.1h.8v.8h-.8zM120.6 139.3h.8v.8h-.8zM119.5 134.3h.8v.8h-.8zM125.0 138.6h.8v.8h-.8zM121.3 133.5h.8v.8h-.8zM137.6 130.2h.8v.8h-.8zM116.4 130.2h.8v.8h-.8zM129.1 133.0h.8v.8h-.8zM130.4 144.3h.8v.8h-.8zM114.1 130.6h.8v.8h-.8zM115.5 143.5h.8v.8h-.8zM128.1 143.9h.8v.8h-.8zM122.4 136.3h.8v.8h-.8zM127.1 137.0h.8v.8h-.8zM131.3 134.2h.8v.8h-.8zM123.0 137.1h.8v.8h-.8zM119.1 140.5h.8v.8h-.8zM110.0 137.3h.8v.8h-.8zM126.1 142.2h.8v.8h-.8zM119.9 143.2h.8v.8h-.8zM126.7 139.0h.8v.8h-.8zM126.3 138.9h.8v.8h-.8zM117.4 136.9h.8v.8h-.8zM134.5 139.0h.8v.8h-.8zM131.0 131.7h.8v.8h-.8zM129.7 139.3h.8v.8h-.8zM118.5 138.3h.8v.8h-.8zM122.8 132.9h.8v.8h-.8zM122.0 148.0h.8v.8h-.8zM122.7 132.4h.8v.8h-.8zM118.8 132.9h.8v.8h-.8zM127.4 138.6h.8v.8h-.8zM126.3 127.6h.8v.8h-.8zM127.0 133.3h.8v.8h-.8zM122.2 129.6h.8v.8h-.8zM132.1 132.4h.8v.8h-.8zM126.0 136.6h.8v.8h-.8zM109.9 138.8h.8v.8h-.8zM121.5 142.7h.8v.8h-.8zM124.7 141.3h.8v.8h-.8zM130.3 143.1h.8v.8h-.8zM123.3 140.2h.8v.8h-.8zM123.6 134.9h.8v.8h-.8zM121.4 142.8h.8v.8h-.8zM128.7 134.8h.8v.8h-.8zM122.5 134.2h.8v.8h-.8zM121.7 144.9h.8v.8h-.8zM120.9 141.2h.8v.8h-.8zM128.1 138.3h.8v.8h-.8zM122.1 141.0h.8v.8h-.8zM115.8 141.6h.8v.8h-.8zM128.4 130.4h.8v.8h-.8zM121.1 136.8h.8v.8h-.8zM127.0 131.3h.8v.8h-.8zM127.1 137.8h.8v.8h-.8zM131.6 133.9h.8v.8h-.8zM130.7 144.0h.8v.8h-.8zM121.8 139.8h.8v.8h-.8zM124.1 133.2h.8v.8h-.8zM117.9 137.1h.8v.8h-.8zM134.2 131.2h.8v.8h-.8zM127.4 137.4h.8v.8h-.8zM132.7 140.0h.8v.8h-.8zM123.2 138.5h.8v.8h-.8zM113.7 127.6h.8v.8h-.8zM133.4 135.5h.8v.8h-.8zM125.5 139.8h.8v.8h-.8zM125.7 138.7h.8v.8h-.8zM125.3 143.0h.8v.8h-.8zM128.5 130.8h.8v.8h-.8zM127.9 139.8h.8v.8h-.8zM116.3 134.0h.8v.8h-.8zM131.0 138.2h.8v.8h-.8zM122.1 139.2h.8v.8h-.8zM122.4 140.6h.8v.8h-.8zM134.5 134.3h.8v.8h-.8zM130.1 138.1h.8v.8h-.8zM123.1 131.4h.8v.8h-.8zM114.8 130.2h.8v.8h-.8zM125.9 140.0h.8v.8h-.8zM128.0 136.9h.8v.8h-.8zM124.6 129.1h.8v.8h-.8zM118.1 133.0h.8v.8h-.8zM120.7 137.3h.8v.8h-.8zM118.1 145.0h.8v.8h-.8zM126.2 142.4h.8v.8h-.8zM129.5 141.2h.8v.8h-.8zM130.6 128.3h.8v.8h-.8zM121.0 136.7h.8v.8h-.8zM126.3 139.6h.8v.8h-.8zM128.0 139.2h.8v.8h-.8zM122.2 139.3h.8v.8h-.8zM124.2 136.0h.8v.8h-.8zM136.7 146.0h.8v.8h-.8zM126.1 144.6h.8v.8h-.8zM129.9 136.7h.8v.8h-.8zM122.6 132.3h.8v.8h-.8zM125.2 147.5h.8v.8h-.8zM115.6 134.4h.8v.8h-.8zM124.9 143.2h.8v.8h-.8zM131.6 146.8h.8v.8h-.8zM136.5 132.5h.8v.8h-.8zM131.6 138.7h.8v.8h-.8zM128.8 135.5h.8v.8h-.8zM125.3 139.8h.8v.8h-.8zM121.7 138.8h.8v.8h-.8zM124.1 146.9h.8v.8h-.8zM128.4 140.2h.8v.8h-.8zM120.7 137.2h.8v.8h-.8zM130.1 142.8h.8v.8h-.8zM119.6 135.8h.8v.8h-.8zM115.2 135.4h.8v.8h-.8zM119.4 148.4h.8v.8h-.8zM115.8 133.1h.8v.8h-.8zM117.5 134.8h.8v.8h-.8zM131.2 137.4h.8v.8h-.8zM123.9 131.9h.8v.8h-.8zM126.2 126.7h.8v.8h-.8zM131.4 142.5h.8v.8h-.8zM131.9 133.3h.8v.8h-.8zM122.2 134.5h.8v.8h-.8zM132.3 135.3h.8v.8h-.8zM127.1 132.3h.8v.8h-.8zM125.0 131.8h.8v.8h-.8zM127.4 138.0h.8v.8h-.8zM117.2 149.2h.8v.8h-.8zM120.7 140.9h.8v.8h-.8zM124.4 140.9h.8v.8h-.8zM128.4 129.7h.8v.8h-.8zM123.0 137.1h.8v.8h-.8zM124.3 131.3h.8v.8h-.8zM130.3 141.1h.8v.8h-.8zM132.8 136.1h.8v.8h-.8zM129.2 137.4h.8v.8h-.8zM132.0 136.8h.8v.8h-.8zM122.8 134.3h.8v.8h-.8zM123.3 129.6h.8v.8h-.8zM126.8 140.1h.8v.8h-.8zM123.3 130.3h.8v.8h-.8zM122.2 131.3h.8v.8h-.8zM134.1 135.7h.8v.8h-.8zM123.9 133.7h.8v.8h-.8zM119.7 138.5h.8v.8h-.8zM127.7 142.3h.8v.8h-.8zM135.1 138.4h.8v.8h-.8zM125.4 138.2h.8v.8h-.8zM131.8 137.3h.8v.8h-.8zM122.6 141.5h.8v.8h-.8zM122.3 128.0h.8v.8h-.8zM121.2 139.0h.8v.8h-.8zM124.2 132.5h.8v.8h-.8zM135.1 131.0h.8v.8h-.8zM118.6 137.2h.8v.8h-.8zM134.0 135.3h.8v.8h-.8zM119.5 140.1h.8v.8h-.8zM123.7 142.7h.8v.8h-.8zM129.6 125.6h.8v.8h-.8zM128.5 136.8h.8v.8h-.8zM126.6 147.0h.8v.8h-.8zM115.9 141.5h.8v.8h-.8zM127.0 144.4h.8v.8h-.8zM119.4 137.7h.8v.8h-.8zM123.8 131.6h.8v.8h-.8zM126.0 140.8h.8v.8h-.8zM118.7 142.0h.8v.8h-.8zM122.4 133.5h.8v.8h-.8zM117.9 135.9h.8v.8h-.8zM130.4 138.5h.8v.8h-.8zM123.6 128.5h.8v.8h-.8zM128.1 135.5h.8v.8h-.8zM121.2 145.3h.8v.8h-.8zM122.2 148.1h.8v.8h-.8zM132.1 136.7h.8v.8h-.8zM119.7 146.4h.8v.8h-.8zM115.1 134.6h.8v.8h-.8zM127.2 133.2h.8v.8h-.8zM118.7 126.0h.8v.8h-.8zM122.6 142.0h.8v.8h-.8zM130.0 135.3h.8v.8h-.8zM120.5 148.9h.8v.8h-.8zM129.8 138.9h.8v.8h-.8zM121.3 138.1h.8v.8h-.8zM133.2 128.2h.8v.8h-.8zM132.3 144.7h.8v.8h-.8zM122.4 135.4h.8v.8h-.8zM123.8 136.4h.8v.8h-.8zM120.4 126.2h.8v.8h-.8zM126.1 141.8h.8v.8h-.8zM131.3 142.2h.8v.8h-.8zM117.0 134.2h.8v.8h-.8zM130.0 137.7h.8v.8h-.8zM117.7 139.2h.8v.8h-.8zM120.3 142.0h.8v.8h-.8zM115.2 137.7h.8v.8h-.8zM136.6 145.8h.8v.8h-.8zM125.3 136.0h.8v.8h-.8zM126.3 134.2h.8v.8h-.8zM121.3 134.9h.8v.8h-.8zM130.9 124.5h.8v.8h-.8zM113.4 133.2h.8v.8h-.8zM125.1 142.3h.8v.8h-.8zM137.1 138.5h.8v.8h-.8zM122.9 133.1h.8v.8h-.8zM125.1 139.0h.8v.8h-.8zM128.7 127.1h.8v.8h-.8zM120.5 135.8h.8v.8h-.8zM125.1 139.8h.8v.8h-.8zM130.3 140.7h.8v.8h-.8zM126.1 133.4h.8v.8h-.8zM127.0 141.8h.8v.8h-.8zM123.1 146.6h.8v.8h-.8zM126.7 135.1h.8v.8h-.8zM125.3 140.9h.8v.8h-.8zM133.0 129.4h.8v.8h-.8zM129.0 127.4h.8v.8h-.8zM123.7 140.3h.8v.8h-.8zM111.5 137.4h.8v.8h-.8zM128.9 138.2h.8v.8h-.8zM129.2 134.3h.8v.8h-.8zM120.0 135.8h.8v.8h-.8zM114.0 141.3h.8v.8h-.8zM118.7 145.8h.8v.8h-.8zM130.1 136.2h.8v.8h-.8zM119.1 129.0h.8v.8h-.8zM122.5 143.6h.8v.8h-.8zM126.2 140.3h.8v.8h-.8zM131.7 140.7h.8v.8h-.8zM124.9 138.2h.8v.8h-.8zM124.4 148.9h.8v.8h-.8zM122.0 137.6h.8v.8h-.8zM134.0 139.8h.8v.8h-.8zM130.9 128.0h.8v.8h-.8zM124.5 134.3h.8v.8h-.8zM117.3 133.8h.8v.8h-.8zM120.7 137.1h.8v.8h-.8zM128.2 139.0h.8v.8h-.8zM121.0 133.5h.8v.8h-.8zM129.9 145.9h.8v.8h-.8zM127.0 131.9h.8v.8h-.8zM126.6 135.0h.8v.8h-.8zM128.6 138.4h.8v.8h-.8zM127.7 131.0h.8v.8h-.8zM120.3 140.1h.8v.8h-.8zM123.2 140.4h.8v.8h-.8zM137.9 135.8h.8v.8h-.8zM118.4 146.8h.8v.8h-.8zM122.4 137.7h.8v.8h-.8zM130.9 138.7h.8v.8h-.8zM124.1 132.4h.8v.8h-.8zM120.5 128.9h.8v.8h-.8zM117.7 134.1h.8v.8h-.8zM127.9 135.6h.8v.8h-.8zM130.6 135.0h.8v.8h-.8zM132.7 141.1h.8v.8h-.8zM125.3 125.3h.8v.8h-.8zM130.7 131.6h.8v.8h-.8zM119.3 128.1h.8v.8h-.8zM125.9 144.0h.8v.8h-.8zM121.3 134.4h.8v.8h-.8zM126.0 134.7h.8v.8h-.8zM129.1 131.7h.8v.8h-.8zM130.9 141.7h.8v.8h-.8zM119.6 135.2h.8v.8h-.8zM132.0 138.4h.8v.8h-.8zM122.4 127.1h.8v.8h-.8zM119.4 143.1h.8v.8h-.8zM124.1 139.2h.8v.8h-.8zM117.0 140.0h.8v.8h-.8zM125.0 143.4h.8v.8h-.8zM126.6 136.3h.8v.8h-.8zM123.9 136.4h.8v.8h-.8zM127.9 140.8h.8v.8h-.8zM123.3 139.4h.8v.8h-.8zM125.0 136.0h.8v.8h-.8zM117.1 137.5h.8v.8h-.8zM125.2 134.7h.8v.8h-.8zM120.3 140.8h.8v.8h-.8zM122.5 141.9h.8v.8h-.8zM124.5 137.3h.8v.8h-.8zM126.1 146.7h.8v.8h-.8zM115.9 129.6h.8v.8h-.8zM116.4 136.1h.8v.8h-.8zM123.3 145.8h.8v.8h-.8zM127.6 135.1h.8v.8h-.8zM127.0 129.2h.8v.8h-.8zM129.9 144.2h.8v.8h-.8zM132.2 140.0h.8v.8h-.8zM127.7 131.3h.8v.8h-.8zM124.9 141.1h.8v.8h-.8zM119.3 132.1h.8v.8h-.8zM119.8 130.5h.8v.8h-.8zM122.4 136.5h.8v.8h-.8zM126.5 134.9h.8v.8h-.8zM126.2 131.8h.8v.8h-.8zM125.0 135.4h.8v.8h-.8zM124.2 132.2h.8v.8h-.8zM128.5 137.6h.8v.8h-.8zM126.1 137.1h.8v.8h-.8zM126.6 141.0h.8v.8h-.8zM126.7 135.0h.8v.8h-.8zM122.0 130.6h.8v.8h-.8zM119.3 130.6h.8v.8h-.8zM127.7 136.0h.8v.8h-.8zM127.3 145.0h.8v.8h-.8zM123.8 141.5h.8v.8h-.8zM122.7 134.0h.8v.8h-.8zM137.5 142.0h.8v.8h-.8zM120.8 131.4h.8v.8h-.8zM123.8 142.3h.8v.8h-.8zM126.5 135.3h.8v.8h-.8zM118.7 141.1h.8v.8h-.8zM125.6 140.4h.8v.8h-.8zM134.9 135.9h.8v.8h-.8zM130.1 138.9h.8v.8h-.8zM128.5 131.9h.8v.8h-.8zM128.3 136.9h.8v.8h-.8zM125.6 142.7h.8v.8h-.8zM130.3 157.8h.8v.8h-.8zM124.1 140.8h.8v.8h-.8zM122.7 137.7h.8v.8h-.8zM125.6 132.2h.8v.8h-.8zM130.0 142.6h.8v.8h-.8zM126.8 129.0h.8v.8h-.8zM128.7 133.2h.8v.8h-.8zM113.9 139.1h.8v.8h-.8zM131.6 131.2h.8v.8h-.8zM137.9 145.0h.8v.8h-.8zM132.3 142.7h.8v.8h-.8zM123.3 134.4h.8v.8h-.8zM120.3 134.5h.8v.8h-.8zM126.5 130.7h.8v.8h-.8zM119.6 130.2h.8v.8h-.8zM129.0 139.5h.8v.8h-.8zM122.1 140.4h.8v.8h-.8zM130.3 139.0h.8v.8h-.8zM132.5 138.6h.8v.8h-.8zM113.8 134.5h.8v.8h-.8zM126.6 139.1h.8v.8h-.8zM121.2 129.9h.8v.8h-.8zM117.2 137.3h.8v.8h-.8zM121.6 144.7h.8v.8h-.8zM123.8 143.9h.8v.8h-.8zM130.7 134.9h.8v.8h-.8zM116.6 135.6h.8v.8h-.8zM130.8 144.2h.8v.8h-.8zM136.1 146.2h.8v.8h-.8zM128.3 129.8h.8v.8h-.8zM128.0 135.1h.8v.8h-.8zM124.9 138.4h.8v.8h-.8zM118.5 143.4h.8v.8h-.8zM127.9 133.1h.8v.8h-.8zM127.1 140.5h.8v.8h-.8zM129.0 135.8h.8v.8h-.8zM129.0 139.4h.8v.8h-.8zM127.3 136.6h.8v.8h-.8zM133.6 135.6h.8v.8h-.8zM117.6 142.6h.8v.8h-.8zM118.7 140.7h.8v.8h-.8zM122.9 131.8h.8v.8h-.8zM121.4 138.4h.8v.8h-.8zM128.8 130.6h.8v.8h-.8zM123.3 133.5h.8v.8h-.8zM134.6 130.8h.8v.8h-.8zM133.4 130.6h.8v.8h-.8zM129.2 133.8h.8v.8h-.8zM122.9 132.4h.8v.8h-.8zM128.4 139.9h.8v.8h-.8zM129.5 141.3h.8v.8h-.8zM119.1 136.1h.8v.8h-.8zM126.9 131.7h.8v.8h-.8zM128.9 141.3h.8v.8h-.8zM126.2 127.1h.8v.8h-.8zM133.6 127.6h.8v.8h-.8zM131.7 140.9h.8v.8h-.8zM120.5 140.6h.8v.8h-.8zM125.7 142.2h.8v.8h-.8zM120.4 136.2h.8v.8h-.8zM128.2 130.9h.8v.8h-.8zM120.2 134.7h.8v.8h-.8zM130.1 140.1h.8v.8h-.8zM127.1 133.4h.8v.8h-.8zM130.3 133.8h.8v.8h-.8zM124.2 130.3h.8v.8h-.8zM117.0 131.4h.8v.8h-.8zM134.7 141.5h.8v.8h-.8zM124.1 139.6h.8v.8h-.8zM132.6 131.4h.8v.8h-.8zM127.4 131.9h.8v.8h-.8zM128.7 134.5h.8v.8h-.8zM135.1 140.0h.8v.8h-.8zM126.9 131.4h.8v.8h-.8zM132.7 136.4h.8v.8h-.8zM116.8 126.5h.8v.8h-.8zM129.8 131.0h.8v.8h-.8zM123.7 139.4h.8v.8h-.8zM124.3 141.8h.8v.8h-.8zM125.0 131.5h.8v.8h-.8zM126.9 133.4h.8v.8h-.8zM134.1 141.3h.8v.8h-.8zM114.8 135.3h.8v.8h-.8zM125.2 134.6h.8v.8h-.8zM121.1 139.9h.8v.8h-.8zM131.4 138.3h.8v.8h-.8zM122.7 142.9h.8v.8h-.8zM127.5 141.3h.8v.8h-.8zM122.8 134.4h.8v.8h-.8zM128.7 136.7h.8v.8h-.8zM130.6 137.0h.8v.8h-.8zM122.8 130.5h.8v.8h-.8zM125.3 132.4h.8v.8h-.8zM117.2 142.2h.8v.8h-.8zM126.7 129.3h.8v.8h-.8zM129.7 142.3h.8v.8h-.8zM121.9 138.7h.8v.8h-.8zM131.2 136.6h.8v.8h-.8zM113.6 140.0h.8v.8h-.8zM114.8 139.7h.8v.8h-.8zM117.4 143.4h.8v.8h-.8zM122.3 135.3h.8v.8h-.8zM125.1 136.1h.8v.8h-.8zM124.6 136.1h.8v.8h-.8zM124.6 146.7h.8v.8h-.8zM129.0 142.0h.8v.8h-.8zM122.4 132.7h.8v.8h-.8zM118.1 135.6h.8v.8h-.8zM118.2 133.7h.8v.8h-.8zM136.6 137.4h.8v.8h-.8zM112.1 138.4h.8v.8h-.8zM124.0 148.8h.8v.8h-.8zM133.0 128.1h.8v.8h-.8zM127.7 142.5h.8v.8h-.8zM120.4 139.5h.8v.8h-.8zM125.0 133.8h.8v.8h-.8zM129.8 136.5h.8v.8h-.8zM131.6 134.8h.8v.8h-.8zM120.1 137.6h.8v.8h-.8zM129.2 142.4h.8v.8h-.8zM126.4 129.7h.8v.8h-.8zM131.1 143.9h.8v.8h-.8zM132.6 135.4h.8v.8h-.8zM123.1 144.8h.8v.8h-.8zM117.0 139.4h.8v.8h-.8zM127.2 143.5h.8v.8h-.8zM134.8 140.1h.8v.8h-.8zM128.8 142.8h.8v.8h-.8zM126.3 137.6h.8v.8h-.8zM138.2 133.1h.8v.8h-.8zM119.3 140.7h.8v.8h-.8zM130.0 140.9h.8v.8h-.8zM121.9 147.8h.8v.8h-.8zM125.3 127.3h.8v.8h-.8zM125.5 136.3h.8v.8h-.8zM133.3 142.6h.8v.8h-.8zM119.9 131.0h.8v.8h-.8zM122.1 136.2h.8v.8h-.8zM116.2 147.9h.8v.8h-.8zM127.7 144.4h.8v.8h-.8zM122.5 132.9h.8v.8h-.8zM127.3 144.5h.8v.8h-.8zM119.1 143.3h.8v.8h-.8zM123.0 141.2h.8v.8h-.8zM130.7 139.2h.8v.8h-.8zM124.0 138.5h.8v.8h-.8zM128.4 133.0h.8v.8h-.8zM127.9 134.8h.8v.8h-.8zM123.1 141.0h.8v.8h-.8zM116.4 138.0h.8v.8h-.8zM130.4 146.6h.8v.8h-.8zM125.9 135.7h.8v.8h-.8zM130.4 125.3h.8v.8h-.8zM113.9 135.7h.8v.8h-.8zM115.9 138.7h.8v.8h-.8zM113.2 139.3h.8v.8h-.8zM120.2 137.7h.8v.8h-.8zM130.7 133.2h.8v.8h-.8zM128.1 144.8h.8v.8h-.8zM124.8 134.0h.8v.8h-.8zM115.1 137.3h.8v.8h-.8zM109.1 130.1h.8v.8h-.8zM103.6 151.4h.8v.8h-.8zM119.3 147.6h.8v.8h-.8zM95.8 146.2h.8v.8h-.8zM105.7 141.6h.8v.8h-.8zM113.4 145.0h.8v.8h-.8zM108.7 146.4h.8v.8h-.8zM115.4 145.1h.8v.8h-.8zM110.2 144.6h.8v.8h-.8zM108.1 135.5h.8v.8h-.8zM123.8 142.2h.8v.8h-.8zM109.5 137.4h.8v.8h-.8zM109.9 134.1h.8v.8h-.8zM104.4 134.3h.8v.8h-.8zM106.4 142.2h.8v.8h-.8zM114.8 145.3h.8v.8h-.8zM114.2 133.2h.8v.8h-.8zM110.9 148.8h.8v.8h-.8zM106.7 147.4h.8v.8h-.8zM115.0 138.1h.8v.8h-.8zM100.6 137.7h.8v.8h-.8zM108.8 139.7h.8v.8h-.8zM109.4 144.9h.8v.8h-.8zM105.8 138.1h.8v.8h-.8zM111.8 134.5h.8v.8h-.8zM106.9 141.7h.8v.8h-.8zM106.1 129.7h.8v.8h-.8zM121.7 140.7h.8v.8h-.8zM115.3 145.8h.8v.8h-.8zM118.1 141.5h.8v.8h-.8zM111.2 143.9h.8v.8h-.8zM116.7 142.5h.8v.8h-.8zM115.6 143.6h.8v.8h-.8zM118.2 140.7h.8v.8h-.8zM125.1 135.9h.8v.8h-.8zM109.6 138.9h.8v.8h-.8zM112.5 139.6h.8v.8h-.8zM110.6 146.3h.8v.8h-.8zM89.8 148.1h.8v.8h-.8zM102.6 142.1h.8v.8h-.8zM111.1 136.2h.8v.8h-.8zM114.7 136.4h.8v.8h-.8zM107.5 139.1h.8v.8h-.8zM117.8 146.9h.8v.8h-.8zM118.7 141.7h.8v.8h-.8zM108.5 139.7h.8v.8h-.8zM119.5 136.2h.8v.8h-.8zM121.5 144.4h.8v.8h-.8zM113.8 141.4h.8v.8h-.8zM105.1 139.7h.8v.8h-.8zM119.8 140.5h.8v.8h-.8zM110.0 148.4h.8v.8h-.8zM108.7 139.2h.8v.8h-.8zM111.7 148.4h.8v.8h-.8zM107.8 146.2h.8v.8h-.8zM117.4 140.3h.8v.8h-.8zM115.7 144.4h.8v.8h-.8zM118.3 139.4h.8v.8h-.8zM114.5 135.9h.8v.8h-.8zM106.2 138.7h.8v.8h-.8zM110.0 135.5h.8v.8h-.8zM116.3 142.6h.8v.8h-.8zM108.6 140.1h.8v.8h-.8zM128.5 142.8h.8v.8h-.8zM109.5 144.1h.8v.8h-.8zM107.5 124.4h.8v.8h-.8zM117.9 141.6h.8v.8h-.8zM115.5 131.0h.8v.8h-.8zM110.8 140.8h.8v.8h-.8zM109.6 135.6h.8v.8h-.8zM113.6 140.5h.8v.8h-.8zM116.0 146.8h.8v.8h-.8zM115.6 131.5h.8v.8h-.8zM109.2 141.0h.8v.8h-.8zM113.6 139.6h.8v.8h-.8zM116.1 130.5h.8v.8h-.8zM115.6 143.2h.8v.8h-.8zM92.5 140.2h.8v.8h-.8zM105.7 137.5h.8v.8h-.8zM106.3 136.4h.8v.8h-.8zM109.6 156.1h.8v.8h-.8zM112.1 138.0h.8v.8h-.8zM116.5 131.0h.8v.8h-.8zM114.7 135.3h.8v.8h-.8zM110.2 138.2h.8v.8h-.8zM111.1 138.1h.8v.8h-.8zM121.6 139.6h.8v.8h-.8zM107.3 134.8h.8v.8h-.8zM112.8 142.7h.8v.8h-.8zM120.4 137.6h.8v.8h-.8zM113.1 133.2h.8v.8h-.8zM98.7 135.9h.8v.8h-.8zM113.2 138.1h.8v.8h-.8zM108.7 144.2h.8v.8h-.8zM110.3 142.4h.8v.8h-.8zM117.3 138.3h.8v.8h-.8zM113.8 140.1h.8v.8h-.8zM109.4 141.1h.8v.8h-.8zM116.4 150.2h.8v.8h-.8zM113.6 136.9h.8v.8h-.8zM111.6 142.3h.8v.8h-.8zM112.8 143.6h.8v.8h-.8zM112.5 135.2h.8v.8h-.8zM109.0 140.9h.8v.8h-.8zM108.2 140.8h.8v.8h-.8zM111.2 137.7h.8v.8h-.8zM105.3 142.8h.8v.8h-.8zM103.4 145.1h.8v.8h-.8zM118.8 145.7h.8v.8h-.8zM109.6 139.0h.8v.8h-.8zM110.9 140.9h.8v.8h-.8zM110.2 151.8h.8v.8h-.8zM111.1 134.5h.8v.8h-.8zM111.1 141.1h.8v.8h-.8zM111.4 144.4h.8v.8h-.8zM106.2 140.8h.8v.8h-.8zM116.6 143.3h.8v.8h-.8zM106.8 140.9h.8v.8h-.8zM117.2 143.8h.8v.8h-.8zM99.5 146.4h.8v.8h-.8zM104.6 138.9h.8v.8h-.8zM117.0 141.0h.8v.8h-.8zM110.1 139.7h.8v.8h-.8zM107.0 138.0h.8v.8h-.8zM113.3 139.9h.8v.8h-.8zM104.7 134.3h.8v.8h-.8zM111.5 143.7h.8v.8h-.8zM97.7 148.5h.8v.8h-.8zM108.3 148.5h.8v.8h-.8zM107.1 146.4h.8v.8h-.8zM114.2 135.2h.8v.8h-.8zM116.3 147.6h.8v.8h-.8zM105.9 136.4h.8v.8h-.8zM120.7 139.7h.8v.8h-.8zM107.4 149.2h.8v.8h-.8zM98.7 134.6h.8v.8h-.8zM96.7 144.2h.8v.8h-.8zM120.2 141.4h.8v.8h-.8zM110.5 139.2h.8v.8h-.8zM107.1 135.6h.8v.8h-.8zM106.5 142.1h.8v.8h-.8zM104.4 137.7h.8v.8h-.8zM119.1 145.2h.8v.8h-.8zM110.5 146.1h.8v.8h-.8zM121.7 133.1h.8v.8h-.8zM109.8 137.5h.8v.8h-.8zM96.9 138.4h.8v.8h-.8zM116.1 134.1h.8v.8h-.8zM108.8 134.4h.8v.8h-.8zM109.6 140.4h.8v.8h-.8zM120.4 139.0h.8v.8h-.8zM109.4 131.7h.8v.8h-.8zM118.0 137.3h.8v.8h-.8zM111.0 142.6h.8v.8h-.8zM106.5 134.0h.8v.8h-.8zM114.0 135.4h.8v.8h-.8zM107.4 147.9h.8v.8h-.8zM118.4 146.6h.8v.8h-.8zM116.8 131.9h.8v.8h-.8zM111.4 133.2h.8v.8h-.8zM114.7 141.9h.8v.8h-.8zM114.4 134.0h.8v.8h-.8zM109.3 138.7h.8v.8h-.8zM116.4 137.7h.8v.8h-.8zM109.6 142.8h.8v.8h-.8zM114.7 127.4h.8v.8h-.8zM105.3 129.0h.8v.8h-.8zM111.6 133.9h.8v.8h-.8zM113.5 145.1h.8v.8h-.8zM106.3 139.2h.8v.8h-.8zM108.5 131.5h.8v.8h-.8zM107.8 142.5h.8v.8h-.8zM115.4 143.5h.8v.8h-.8zM106.7 138.8h.8v.8h-.8zM113.7 138.3h.8v.8h-.8zM120.2 142.2h.8v.8h-.8zM113.2 146.0h.8v.8h-.8zM101.4 140.8h.8v.8h-.8zM111.8 142.7h.8v.8h-.8zM117.3 139.8h.8v.8h-.8zM109.3 138.1h.8v.8h-.8zM117.7 135.4h.8v.8h-.8zM114.7 141.3h.8v.8h-.8zM113.6 138.5h.8v.8h-.8zM109.5 138.8h.8v.8h-.8zM108.0 144.6h.8v.8h-.8zM109.5 142.4h.8v.8h-.8zM111.4 144.4h.8v.8h-.8zM114.2 132.1h.8v.8h-.8zM113.6 142.8h.8v.8h-.8zM109.3 137.1h.8v.8h-.8zM111.5 136.0h.8v.8h-.8zM113.4 135.7h.8v.8h-.8zM101.3 146.1h.8v.8h-.8zM106.5 144.1h.8v.8h-.8zM106.3 136.4h.8v.8h-.8zM109.8 134.3h.8v.8h-.8zM109.4 140.1h.8v.8h-.8zM109.5 137.7h.8v.8h-.8zM105.8 148.3h.8v.8h-.8zM115.1 132.7h.8v.8h-.8zM112.7 130.9h.8v.8h-.8zM101.2 138.7h.8v.8h-.8zM111.2 140.1h.8v.8h-.8zM104.3 140.7h.8v.8h-.8zM121.3 143.8h.8v.8h-.8zM108.4 150.4h.8v.8h-.8zM108.7 138.3h.8v.8h-.8zM111.6 137.3h.8v.8h-.8zM109.9 131.2h.8v.8h-.8zM110.7 141.2h.8v.8h-.8zM120.4 144.3h.8v.8h-.8zM112.5 138.7h.8v.8h-.8zM116.1 145.9h.8v.8h-.8zM117.9 140.2h.8v.8h-.8zM105.3 147.6h.8v.8h-.8zM121.2 141.7h.8v.8h-.8zM115.2 134.7h.8v.8h-.8zM116.8 136.8h.8v.8h-.8zM105.9 132.3h.8v.8h-.8zM116.0 131.3h.8v.8h-.8zM113.6 141.3h.8v.8h-.8zM107.9 144.3h.8v.8h-.8zM124.8 149.8h.8v.8h-.8zM114.5 139.7h.8v.8h-.8zM109.7 138.8h.8v.8h-.8zM112.3 134.5h.8v.8h-.8zM116.6 144.9h.8v.8h-.8zM117.9 141.9h.8v.8h-.8zM114.6 137.0h.8v.8h-.8zM118.4 143.4h.8v.8h-.8zM119.9 142.8h.8v.8h-.8zM103.7 130.7h.8v.8h-.8zM108.2 143.7h.8v.8h-.8zM105.5 140.7h.8v.8h-.8zM111.7 138.0h.8v.8h-.8zM119.8 137.9h.8v.8h-.8zM115.0 148.7h.8v.8h-.8zM104.8 147.7h.8v.8h-.8zM109.4 149.1h.8v.8h-.8zM117.3 134.3h.8v.8h-.8zM107.9 136.7h.8v.8h-.8zM110.5 144.5h.8v.8h-.8zM112.9 134.0h.8v.8h-.8zM100.2 136.4h.8v.8h-.8zM115.8 131.0h.8v.8h-.8zM113.2 149.3h.8v.8h-.8zM114.5 145.3h.8v.8h-.8zM105.2 142.3h.8v.8h-.8zM106.5 141.1h.8v.8h-.8zM107.5 137.9h.8v.8h-.8zM112.6 138.0h.8v.8h-.8zM111.5 143.1h.8v.8h-.8zM111.9 136.4h.8v.8h-.8zM121.9 146.1h.8v.8h-.8zM119.0 137.5h.8v.8h-.8zM106.8 135.6h.8v.8h-.8zM107.2 146.5h.8v.8h-.8zM121.4 139.3h.8v.8h-.8zM109.2 142.8h.8v.8h-.8zM119.4 137.9h.8v.8h-.8zM120.7 128.7h.8v.8h-.8zM107.9 142.7h.8v.8h-.8zM109.5 133.3h.8v.8h-.8zM111.6 145.4h.8v.8h-.8zM105.9 132.2h.8v.8h-.8zM105.3 130.7h.8v.8h-.8zM108.7 141.5h.8v.8h-.8zM116.2 142.1h.8v.8h-.8zM108.4 140.5h.8v.8h-.8zM109.9 133.9h.8v.8h-.8zM108.3 144.4h.8v.8h-.8zM102.9 132.7h.8v.8h-.8zM120.0 137.7h.8v.8h-.8zM97.1 136.1h.8v.8h-.8zM107.2 138.1h.8v.8h-.8zM114.5 144.3h.8v.8h-.8zM102.7 136.8h.8v.8h-.8zM114.7 142.8h.8v.8h-.8zM118.6 143.5h.8v.8h-.8zM106.0 131.4h.8v.8h-.8zM112.4 134.2h.8v.8h-.8zM104.5 138.1h.8v.8h-.8zM114.2 137.0h.8v.8h-.8zM111.6 141.5h.8v.8h-.8zM112.4 130.3h.8v.8h-.8zM119.3 143.6h.8v.8h-.8zM113.9 143.7h.8v.8h-.8zM119.2 139.2h.8v.8h-.8zM114.9 133.1h.8v.8h-.8zM103.9 140.0h.8v.8h-.8zM112.7 137.3h.8v.8h-.8zM114.1 142.8h.8v.8h-.8zM102.4 139.6h.8v.8h-.8zM119.1 143.6h.8v.8h-.8zM111.5 137.8h.8v.8h-.8zM113.3 147.2h.8v.8h-.8zM105.7 128.5h.8v.8h-.8zM111.6 134.9h.8v.8h-.8zM112.9 142.5h.8v.8h-.8zM109.2 132.4h.8v.8h-.8zM111.6 143.7h.8v.8h-.8zM98.4 133.9h.8v.8h-.8zM119.3 140.5h.8v.8h-.8zM104.4 135.4h.8v.8h-.8zM98.0 137.8h.8v.8h-.8zM105.4 140.9h.8v.8h-.8zM106.1 139.5h.8v.8h-.8zM114.4 138.1h.8v.8h-.8zM105.6 150.8h.8v.8h-.8zM112.8 140.0h.8v.8h-.8zM105.4 135.2h.8v.8h-.8zM124.4 144.6h.8v.8h-.8zM114.4 144.1h.8v.8h-.8zM122.8 146.1h.8v.8h-.8zM105.0 148.9h.8v.8h-.8zM115.1 135.3h.8v.8h-.8zM105.4 145.3h.8v.8h-.8zM114.6 145.7h.8v.8h-.8zM115.2 140.0h.8v.8h-.8zM101.5 141.2h.8v.8h-.8zM104.3 125.0h.8v.8h-.8zM104.1 137.1h.8v.8h-.8zM102.1 148.9h.8v.8h-.8zM106.7 131.1h.8v.8h-.8zM105.3 137.3h.8v.8h-.8zM102.4 141.4h.8v.8h-.8zM111.7 142.9h.8v.8h-.8zM114.4 148.2h.8v.8h-.8zM103.2 131.2h.8v.8h-.8zM107.7 140.2h.8v.8h-.8zM111.1 144.3h.8v.8h-.8zM109.7 133.4h.8v.8h-.8zM106.9 139.8h.8v.8h-.8zM115.9 149.4h.8v.8h-.8zM116.2 146.6h.8v.8h-.8zM115.2 142.7h.8v.8h-.8zM109.8 126.9h.8v.8h-.8zM123.0 139.3h.8v.8h-.8zM121.5 141.9h.8v.8h-.8zM108.7 138.5h.8v.8h-.8zM110.3 139.7h.8v.8h-.8zM118.2 155.4h.8v.8h-.8zM106.3 138.9h.8v.8h-.8zM113.5 135.2h.8v.8h-.8zM111.3 141.2h.8v.8h-.8zM106.8 138.4h.8v.8h-.8zM109.7 138.5h.8v.8h-.8zM101.6 139.6h.8v.8h-.8zM127.3 139.0h.8v.8h-.8zM120.9 137.4h.8v.8h-.8zM103.6 130.2h.8v.8h-.8zM116.4 140.9h.8v.8h-.8zM123.7 143.1h.8v.8h-.8zM112.4 143.3h.8v.8h-.8zM131.8 130.5h.8v.8h-.8zM127.3 139.3h.8v.8h-.8zM106.1 126.3h.8v.8h-.8zM121.8 147.5h.8v.8h-.8zM136.7 138.0h.8v.8h-.8zM117.3 136.6h.8v.8h-.8zM128.8 135.6h.8v.8h-.8zM109.9 131.7h.8v.8h-.8zM100.6 126.1h.8v.8h-.8zM124.7 154.1h.8v.8h-.8zM121.0 142.3h.8v.8h-.8zM124.2 142.4h.8v.8h-.8zM117.7 157.0h.8v.8h-.8zM121.9 139.4h.8v.8h-.8zM111.8 144.7h.8v.8h-.8zM123.7 140.4h.8v.8h-.8zM128.0 149.7h.8v.8h-.8zM117.3 144.3h.8v.8h-.8zM127.8 142.8h.8v.8h-.8zM96.7 138.2h.8v.8h-.8zM108.6 142.5h.8v.8h-.8zM135.3 149.6h.8v.8h-.8zM121.0 139.2h.8v.8h-.8zM116.8 136.9h.8v.8h-.8zM102.8 137.9h.8v.8h-.8zM122.4 124.4h.8v.8h-.8zM127.3 146.1h.8v.8h-.8zM100.2 133.5h.8v.8h-.8zM124.7 138.4h.8v.8h-.8zM123.9 136.2h.8v.8h-.8zM123.3 126.9h.8v.8h-.8zM104.5 136.7h.8v.8h-.8zM124.5 125.5h.8v.8h-.8zM100.0 132.7h.8v.8h-.8zM135.9 137.7h.8v.8h-.8zM119.6 140.2h.8v.8h-.8zM104.0 140.7h.8v.8h-.8zM134.1 139.2h.8v.8h-.8zM131.8 157.4h.8v.8h-.8zM110.2 143.7h.8v.8h-.8zM106.0 135.4h.8v.8h-.8zM121.8 135.0h.8v.8h-.8zM132.2 138.8h.8v.8h-.8zM90.8 135.4h.8v.8h-.8zM130.0 133.4h.8v.8h-.8zM117.2 153.5h.8v.8h-.8zM117.8 140.6h.8v.8h-.8zM105.1 137.6h.8v.8h-.8zM122.0 138.2h.8v.8h-.8zM104.7 138.5h.8v.8h-.8zM106.4 151.4h.8v.8h-.8zM112.6 144.1h.8v.8h-.8zM103.3 149.3h.8v.8h-.8zM136.9 115.3h.8v.8h-.8zM102.1 142.9h.8v.8h-.8zM108.9 148.7h.8v.8h-.8zM114.2 156.1h.8v.8h-.8zM118.0 140.5h.8v.8h-.8zM127.5 126.5h.8v.8h-.8zM127.8 145.0h.8v.8h-.8zM114.4 135.5h.8v.8h-.8zM113.4 125.9h.8v.8h-.8zM118.4 135.3h.8v.8h-.8zM127.9 148.7h.8v.8h-.8zM126.4 149.9h.8v.8h-.8zM111.8 146.1h.8v.8h-.8zM93.3 131.9h.8v.8h-.8zM129.4 130.9h.8v.8h-.8zM121.2 139.7h.8v.8h-.8zM122.1 128.7h.8v.8h-.8zM111.7 150.8h.8v.8h-.8zM106.0 143.9h.8v.8h-.8zM114.0 147.4h.8v.8h-.8zM115.3 141.0h.8v.8h-.8zM110.5 139.8h.8v.8h-.8zM100.5 141.7h.8v.8h-.8zM114.2 125.2h.8v.8h-.8zM124.9 148.3h.8v.8h-.8zM112.1 147.6h.8v.8h-.8zM118.3 137.2h.8v.8h-.8zM93.2 140.2h.8v.8h-.8zM115.5 142.7h.8v.8h-.8zM116.5 152.9h.8v.8h-.8zM103.3 143.8h.8v.8h-.8zM97.2 140.7h.8v.8h-.8zM122.9 136.3h.8v.8h-.8zM108.3 128.3h.8v.8h-.8zM123.9 135.6h.8v.8h-.8zM113.0 140.9h.8v.8h-.8zM125.5 138.3h.8v.8h-.8zM113.9 140.9h.8v.8h-.8zM99.9 146.3h.8v.8h-.8zM117.0 143.8h.8v.8h-.8zM114.1 142.6h.8v.8h-.8zM125.9 145.6h.8v.8h-.8zM112.6 141.8h.8v.8h-.8zM113.3 140.1h.8v.8h-.8zM128.3 144.1h.8v.8h-.8zM132.0 126.5h.8v.8h-.8zM127.1 150.4h.8v.8h-.8zM130.5 130.1h.8v.8h-.8zM123.5 147.1h.8v.8h-.8zM127.2 140.5h.8v.8h-.8zM128.5 149.2h.8v.8h-.8zM122.8 140.7h.8v.8h-.8zM118.8 132.8h.8v.8h-.8zM119.7 149.0h.8v.8h-.8zM118.2 141.3h.8v.8h-.8zM115.2 141.0h.8v.8h-.8zM113.6 148.4h.8v.8h-.8zM117.6 146.9h.8v.8h-.8zM120.9 142.2h.8v.8h-.8zM104.4 128.0h.8v.8h-.8zM94.2 137.2h.8v.8h-.8zM121.5 141.3h.8v.8h-.8zM98.7 154.8h.8v.8h-.8zM121.1 143.5h.8v.8h-.8zM119.7 139.7h.8v.8h-.8zM131.8 150.0h.8v.8h-.8zM138.0 139.5h.8v.8h-.8zM122.4 140.2h.8v.8h-.8zM111.4 141.7h.8v.8h-.8zM103.9 128.4h.8v.8h-.8zM108.5 148.1h.8v.8h-.8zM118.5 143.8h.8v.8h-.8zM93.2 138.2h.8v.8h-.8zM118.9 131.3h.8v.8h-.8zM117.9 142.1h.8v.8h-.8zM125.7 151.6h.8v.8h-.8zM114.0 135.3h.8v.8h-.8zM119.2 131.9h.8v.8h-.8zM109.2 143.8h.8v.8h-.8zM112.4 127.7h.8v.8h-.8zM96.7 122.7h.8v.8h-.8zM119.5 136.9h.8v.8h-.8zM136.6 134.9h.8v.8h-.8zM120.0 138.2h.8v.8h-.8zM122.4 136.0h.8v.8h-.8zM106.2 143.1h.8v.8h-.8zM135.2 138.7h.8v.8h-.8zM108.8 135.7h.8v.8h-.8zM127.6 136.8h.8v.8h-.8zM119.3 145.5h.8v.8h-.8zM106.5 148.1h.8v.8h-.8zM130.3 147.7h.8v.8h-.8zM118.2 146.0h.8v.8h-.8zM120.1 114.1h.8v.8h-.8zM123.4 132.4h.8v.8h-.8zM117.7 137.9h.8v.8h-.8zM113.5 142.1h.8v.8h-.8zM123.6 127.5h.8v.8h-.8zM113.1 151.8h.8v.8h-.8zM118.8 142.9h.8v.8h-.8zM110.0 135.5h.8v.8h-.8zM100.1 141.8h.8v.8h-.8zM109.9 137.7h.8v.8h-.8zM112.1 134.4h.8v.8h-.8zM118.2 144.5h.8v.8h-.8zM132.2 136.8h.8v.8h-.8zM97.7 129.2h.8v.8h-.8zM119.5 135.4h.8v.8h-.8zM91.5 139.6h.8v.8h-.8zM105.4 131.8h.8v.8h-.8zM111.9 150.6h.8v.8h-.8zM91.0 131.8h.8v.8h-.8zM95.7 154.5h.8v.8h-.8zM119.8 147.6h.8v.8h-.8zM118.9 133.0h.8v.8h-.8zM116.6 141.5h.8v.8h-.8zM108.4 150.0h.8v.8h-.8zM116.1 131.0h.8v.8h-.8zM107.7 141.4h.8v.8h-.8zM138.1 156.4h.8v.8h-.8zM125.4 128.6h.8v.8h-.8zM113.5 145.0h.8v.8h-.8zM132.3 140.6h.8v.8h-.8zM119.9 139.6h.8v.8h-.8zM125.7 137.4h.8v.8h-.8zM120.8 138.0h.8v.8h-.8zM105.7 148.8h.8v.8h-.8zM129.7 145.3h.8v.8h-.8zM119.9 132.6h.8v.8h-.8zM105.9 153.0h.8v.8h-.8zM108.8 130.2h.8v.8h-.8zM129.5 145.8h.8v.8h-.8zM113.6 142.0h.8v.8h-.8zM118.6 150.1h.8v.8h-.8zM125.9 143.4h.8v.8h-.8zM119.5 149.0h.8v.8h-.8zM99.7 140.4h.8v.8h-.8zM125.6 148.3h.8v.8h-.8zM129.3 143.3h.8v.8h-.8zM128.4 157.8h.8v.8h-.8zM137.4 135.0h.8v.8h-.8zM122.4 150.1h.8v.8h-.8zM127.3 144.3h.8v.8h-.8zM137.1 142.0h.8v.8h-.8zM114.5 136.0h.8v.8h-.8zM127.4 129.6h.8v.8h-.8zM128.2 128.1h.8v.8h-.8zM107.4 152.1h.8v.8h-.8zM131.6 138.4h.8v.8h-.8zM121.9 142.6h.8v.8h-.8zM123.0 141.2h.8v.8h-.8zM119.9 144.0h.8v.8h-.8zM134.3 138.4h.8v.8h-.8zM124.6 137.7h.8v.8h-.8zM109.7 139.6h.8v.8h-.8zM123.8 149.0h.8v.8h-.8zM126.8 149.7h.8v.8h-.8zM109.3 150.8h.8v.8h-.8zM112.8 143.5h.8v.8h-.8zM113.4 139.0h.8v.8h-.8zM110.7 127.2h.8v.8h-.8zM122.2 145.7h.8v.8h-.8zM130.2 147.3h.8v.8h-.8zM132.3 147.1h.8v.8h-.8zM130.3 150.9h.8v.8h-.8zM131.7 141.4h.8v.8h-.8zM134.0 149.1h.8v.8h-.8zM113.5 143.1h.8v.8h-.8zM126.3 126.7h.8v.8h-.8zM121.9 136.8h.8v.8h-.8zM116.4 137.3h.8v.8h-.8zM112.5 144.8h.8v.8h-.8zM111.9 133.7h.8v.8h-.8zM114.8 137.1h.8v.8h-.8zM103.2 132.9h.8v.8h-.8zM124.3 140.3h.8v.8h-.8zM117.7 141.2h.8v.8h-.8zM119.3 148.4h.8v.8h-.8zM122.1 147.0h.8v.8h-.8zM126.7 141.9h.8v.8h-.8zM110.9 142.5h.8v.8h-.8zM116.7 141.5h.8v.8h-.8zM98.7 141.5h.8v.8h-.8zM91.4 153.0h.8v.8h-.8zM94.7 120.7h.8v.8h-.8zM136.4 139.2h.8v.8h-.8zM96.1 143.1h.8v.8h-.8zM123.7 149.7h.8v.8h-.8zM135.7 131.9h.8v.8h-.8zM112.5 143.4h.8v.8h-.8zM137.6 147.5h.8v.8h-.8zM129.3 125.3h.8v.8h-.8zM125.5 131.0h.8v.8h-.8zM109.3 145.8h.8v.8h-.8zM124.3 133.8h.8v.8h-.8zM112.7 154.9h.8v.8h-.8zM102.4 141.7h.8v.8h-.8zM102.7 134.2h.8v.8h-.8zM111.6 131.9h.8v.8h-.8zM117.8 143.7h.8v.8h-.8zM110.1 152.5h.8v.8h-.8zM119.7 138.9h.8v.8h-.8zM115.2 148.0h.8v.8h-.8zM113.2 133.1h.8v.8h-.8zM103.6 143.1h.8v.8h-.8zM101.2 159.0h.8v.8h-.8zM109.2 129.4h.8v.8h-.8zM121.7 150.5h.8v.8h-.8zM130.8 125.6h.8v.8h-.8zM124.0 132.8h.8v.8h-.8zM117.1 148.4h.8v.8h-.8zM102.3 137.2h.8v.8h-.8zM118.2 139.3h.8v.8h-.8zM92.5 146.3h.8v.8h-.8zM114.6 141.6h.8v.8h-.8zM137.7 142.4h.8v.8h-.8zM122.2 138.0h.8v.8h-.8zM131.8 149.6h.8v.8h-.8zM113.6 134.4h.8v.8h-.8zM101.7 154.0h.8v.8h-.8zM112.5 137.9h.8v.8h-.8zM113.5 134.2h.8v.8h-.8zM132.7 145.8h.8v.8h-.8zM109.4 124.8h.8v.8h-.8zM114.0 142.4h.8v.8h-.8zM116.8 151.0h.8v.8h-.8zM121.0 161.2h.8v.8h-.8zM120.7 151.6h.8v.8h-.8zM130.4 160.2h.8v.8h-.8zM124.6 159.4h.8v.8h-.8zM126.8 148.6h.8v.8h-.8zM118.2 161.8h.8v.8h-.8zM118.7 150.3h.8v.8h-.8zM120.3 152.5h.8v.8h-.8zM128.6 152.2h.8v.8h-.8zM127.5 153.0h.8v.8h-.8zM135.3 151.4h.8v.8h-.8zM128.9 158.3h.8v.8h-.8zM128.6 161.3h.8v.8h-.8zM130.1 152.0h.8v.8h-.8zM126.5 145.5h.8v.8h-.8zM129.9 154.4h.8v.8h-.8zM133.8 146.0h.8v.8h-.8zM133.8 150.9h.8v.8h-.8zM123.2 160.3h.8v.8h-.8zM121.1 155.0h.8v.8h-.8zM129.8 147.9h.8v.8h-.8zM107.6 155.3h.8v.8h-.8zM123.7 140.0h.8v.8h-.8zM131.1 150.2h.8v.8h-.8zM123.0 162.0h.8v.8h-.8zM118.6 156.8h.8v.8h-.8zM125.4 158.4h.8v.8h-.8zM138.1 155.1h.8v.8h-.8zM137.9 151.8h.8v.8h-.8zM118.4 154.8h.8v.8h-.8zM120.0 141.4h.8v.8h-.8zM125.4 158.2h.8v.8h-.8zM118.7 148.6h.8v.8h-.8zM128.1 148.0h.8v.8h-.8zM116.9 144.4h.8v.8h-.8zM127.4 155.2h.8v.8h-.8zM136.1 150.3h.8v.8h-.8zM129.2 157.6h.8v.8h-.8zM125.3 151.9h.8v.8h-.8zM120.3 150.4h.8v.8h-.8zM135.2 151.1h.8v.8h-.8zM125.0 141.9h.8v.8h-.8zM129.2 147.6h.8v.8h-.8zM127.7 158.0h.8v.8h-.8zM127.0 146.3h.8v.8h-.8zM121.2 146.7h.8v.8h-.8zM122.9 155.0h.8v.8h-.8zM130.9 157.1h.8v.8h-.8zM126.5 149.6h.8v.8h-.8zM118.1 152.8h.8v.8h-.8zM121.7 143.5h.8v.8h-.8zM121.8 151.2h.8v.8h-.8zM126.9 158.9h.8v.8h-.8zM128.8 163.5h.8v.8h-.8zM128.1 152.9h.8v.8h-.8zM122.1 151.4h.8v.8h-.8zM127.5 156.4h.8v.8h-.8zM116.4 158.6h.8v.8h-.8zM104.3 153.1h.8v.8h-.8zM126.9 149.3h.8v.8h-.8zM114.1 153.8h.8v.8h-.8zM119.7 158.3h.8v.8h-.8zM117.7 148.1h.8v.8h-.8zM132.3 146.7h.8v.8h-.8zM117.6 155.3h.8v.8h-.8zM129.5 156.2h.8v.8h-.8zM123.4 158.8h.8v.8h-.8zM117.4 152.8h.8v.8h-.8zM114.7 148.1h.8v.8h-.8zM130.9 151.7h.8v.8h-.8zM130.3 148.2h.8v.8h-.8zM133.4 149.1h.8v.8h-.8zM129.4 151.2h.8v.8h-.8zM129.4 160.6h.8v.8h-.8zM126.2 146.4h.8v.8h-.8zM128.0 153.6h.8v.8h-.8zM124.4 149.9h.8v.8h-.8zM120.0 161.4h.8v.8h-.8zM112.3 149.3h.8v.8h-.8zM129.2 158.8h.8v.8h-.8zM130.7 154.6h.8v.8h-.8zM128.3 151.1h.8v.8h-.8zM119.4 161.5h.8v.8h-.8zM125.6 157.7h.8v.8h-.8zM123.4 163.3h.8v.8h-.8zM118.5 159.2h.8v.8h-.8zM126.7 158.2h.8v.8h-.8zM123.8 154.0h.8v.8h-.8zM122.7 146.7h.8v.8h-.8zM132.5 158.7h.8v.8h-.8zM118.6 152.9h.8v.8h-.8zM130.6 158.2h.8v.8h-.8zM122.2 153.0h.8v.8h-.8zM130.4 150.2h.8v.8h-.8zM127.6 147.9h.8v.8h-.8zM128.9 158.1h.8v.8h-.8zM119.2 160.1h.8v.8h-.8zM120.8 151.1h.8v.8h-.8zM120.1 155.4h.8v.8h-.8zM128.4 162.0h.8v.8h-.8zM133.0 149.8h.8v.8h-.8zM135.6 153.0h.8v.8h-.8zM123.0 146.6h.8v.8h-.8zM127.6 160.7h.8v.8h-.8zM114.0 153.3h.8v.8h-.8zM109.2 148.4h.8v.8h-.8zM120.0 143.0h.8v.8h-.8zM121.6 151.9h.8v.8h-.8zM114.5 157.7h.8v.8h-.8zM112.7 149.9h.8v.8h-.8zM131.2 151.9h.8v.8h-.8zM120.5 156.5h.8v.8h-.8zM113.5 144.5h.8v.8h-.8zM128.3 157.4h.8v.8h-.8zM124.4 148.8h.8v.8h-.8zM132.3 149.7h.8v.8h-.8zM120.8 154.3h.8v.8h-.8zM114.6 150.5h.8v.8h-.8zM116.4 153.4h.8v.8h-.8zM125.7 154.9h.8v.8h-.8zM120.7 147.4h.8v.8h-.8zM138.1 151.5h.8v.8h-.8zM114.0 154.5h.8v.8h-.8zM121.0 159.4h.8v.8h-.8zM128.7 161.9h.8v.8h-.8zM131.3 149.5h.8v.8h-.8zM134.8 161.3h.8v.8h-.8zM129.5 158.6h.8v.8h-.8zM123.0 156.0h.8v.8h-.8zM128.2 158.8h.8v.8h-.8zM124.2 147.2h.8v.8h-.8zM124.4 156.9h.8v.8h-.8zM123.0 152.4h.8v.8h-.8zM121.6 151.8h.8v.8h-.8zM117.7 159.1h.8v.8h-.8zM122.3 157.9h.8v.8h-.8zM114.4 146.0h.8v.8h-.8zM129.7 152.6h.8v.8h-.8zM114.0 153.2h.8v.8h-.8zM135.5 154.6h.8v.8h-.8zM125.0 154.5h.8v.8h-.8zM122.0 155.0h.8v.8h-.8zM128.1 154.2h.8v.8h-.8zM131.1 152.4h.8v.8h-.8zM120.9 163.0h.8v.8h-.8zM135.1 152.1h.8v.8h-.8zM120.3 149.8h.8v.8h-.8zM127.5 145.8h.8v.8h-.8zM112.8 158.0h.8v.8h-.8zM121.4 154.6h.8v.8h-.8zM130.6 157.1h.8v.8h-.8zM123.0 154.2h.8v.8h-.8zM123.1 152.4h.8v.8h-.8zM132.9 150.1h.8v.8h-.8zM126.0 149.1h.8v.8h-.8zM136.5 157.8h.8v.8h-.8zM107.3 151.6h.8v.8h-.8zM130.6 150.0h.8v.8h-.8zM114.3 149.1h.8v.8h-.8zM116.3 146.3h.8v.8h-.8zM133.6 162.8h.8v.8h-.8zM118.1 145.3h.8v.8h-.8zM121.5 157.5h.8v.8h-.8zM131.4 162.9h.8v.8h-.8zM123.9 152.6h.8v.8h-.8zM130.4 158.6h.8v.8h-.8zM119.7 140.4h.8v.8h-.8zM128.9 151.9h.8v.8h-.8zM135.2 145.4h.8v.8h-.8zM129.2 155.2h.8v.8h-.8zM109.1 151.2h.8v.8h-.8zM131.8 150.1h.8v.8h-.8zM127.0 159.3h.8v.8h-.8zM119.4 154.8h.8v.8h-.8zM137.7 152.4h.8v.8h-.8zM112.7 148.7h.8v.8h-.8zM121.5 151.9h.8v.8h-.8zM126.2 149.6h.8v.8h-.8zM116.0 154.6h.8v.8h-.8zM127.3 150.7h.8v.8h-.8zM129.2 158.9h.8v.8h-.8zM130.9 157.0h.8v.8h-.8zM135.0 153.7h.8v.8h-.8zM119.4 142.4h.8v.8h-.8zM130.5 151.4h.8v.8h-.8zM132.4 161.6h.8v.8h-.8zM124.4 152.0h.8v.8h-.8zM119.1 156.3h.8v.8h-.8zM118.9 149.9h.8v.8h-.8zM132.5 143.8h.8v.8h-.8zM132.9 157.2h.8v.8h-.8zM120.0 154.7h.8v.8h-.8zM115.9 148.8h.8v.8h-.8zM136.4 153.1h.8v.8h-.8zM114.2 153.6h.8v.8h-.8zM127.8 150.5h.8v.8h-.8zM120.1 154.8h.8v.8h-.8zM112.6 150.5h.8v.8h-.8zM127.5 140.2h.8v.8h-.8zM127.3 124.8h.8v.8h-.8zM125.9 124.9h.8v.8h-.8zM133.2 114.9h.8v.8h-.8zM128.0 121.5h.8v.8h-.8zM134.1 121.9h.8v.8h-.8zM137.3 115.9h.8v.8h-.8zM131.7 115.1h.8v.8h-.8zM121.7 114.4h.8v.8h-.8zM126.5 117.6h.8v.8h-.8zM136.3 109.2h.8v.8h-.8zM129.3 119.4h.8v.8h-.8zM130.3 120.3h.8v.8h-.8zM133.9 119.1h.8v.8h-.8zM132.4 111.5h.8v.8h-.8zM134.7 126.5h.8v.8h-.8zM126.0 135.1h.8v.8h-.8zM129.2 130.3h.8v.8h-.8zM129.4 108.9h.8v.8h-.8zM130.7 129.9h.8v.8h-.8zM118.4 121.5h.8v.8h-.8zM129.5 119.3h.8v.8h-.8zM122.9 115.0h.8v.8h-.8zM135.7 116.4h.8v.8h-.8zM128.0 114.4h.8v.8h-.8zM136.6 116.4h.8v.8h-.8zM129.7 124.4h.8v.8h-.8zM134.5 134.5h.8v.8h-.8zM125.5 111.3h.8v.8h-.8zM127.4 119.7h.8v.8h-.8zM133.6 116.7h.8v.8h-.8zM130.7 122.9h.8v.8h-.8zM123.3 111.5h.8v.8h-.8zM130.7 129.2h.8v.8h-.8zM125.2 122.2h.8v.8h-.8zM130.1 123.9h.8v.8h-.8zM127.7 115.7h.8v.8h-.8zM130.5 116.7h.8v.8h-.8zM136.6 123.4h.8v.8h-.8zM136.5 115.8h.8v.8h-.8zM132.4 110.9h.8v.8h-.8zM130.9 119.7h.8v.8h-.8zM131.6 126.9h.8v.8h-.8zM131.7 111.6h.8v.8h-.8zM134.3 128.1h.8v.8h-.8zM130.9 125.3h.8v.8h-.8zM133.9 112.9h.8v.8h-.8zM123.1 119.8h.8v.8h-.8zM135.6 119.4h.8v.8h-.8zM132.0 125.0h.8v.8h-.8zM122.5 109.4h.8v.8h-.8zM129.0 127.9h.8v.8h-.8zM113.2 120.6h.8v.8h-.8zM129.6 123.0h.8v.8h-.8zM134.5 122.4h.8v.8h-.8zM133.2 131.9h.8v.8h-.8zM138.3 110.2h.8v.8h-.8zM134.6 128.4h.8v.8h-.8zM131.7 113.2h.8v.8h-.8zM119.2 125.5h.8v.8h-.8zM124.3 130.3h.8v.8h-.8zM132.0 108.8h.8v.8h-.8zM134.9 122.9h.8v.8h-.8zM124.8 117.5h.8v.8h-.8zM127.3 117.4h.8v.8h-.8zM133.7 120.1h.8v.8h-.8zM119.6 111.4h.8v.8h-.8zM119.4 112.1h.8v.8h-.8zM129.6 124.9h.8v.8h-.8zM132.4 126.4h.8v.8h-.8zM128.1 115.2h.8v.8h-.8zM131.1 138.1h.8v.8h-.8zM123.0 128.4h.8v.8h-.8zM134.8 122.6h.8v.8h-.8zM130.3 111.6h.8v.8h-.8zM132.5 115.1h.8v.8h-.8zM134.7 121.6h.8v.8h-.8zM127.8 112.1h.8v.8h-.8zM135.8 132.4h.8v.8h-.8zM133.3 122.8h.8v.8h-.8zM127.2 112.6h.8v.8h-.8zM136.4 113.5h.8v.8h-.8zM132.5 121.9h.8v.8h-.8zM125.1 117.6h.8v.8h-.8zM130.5 117.4h.8v.8h-.8zM127.8 122.2h.8v.8h-.8zM127.6 121.5h.8v.8h-.8zM131.4 131.4h.8v.8h-.8zM137.2 118.2h.8v.8h-.8zM129.0 111.7h.8v.8h-.8zM131.7 119.6h.8v.8h-.8zM122.2 131.3h.8v.8h-.8zM131.6 115.4h.8v.8h-.8zM137.8 120.1h.8v.8h-.8zM135.7 116.9h.8v.8h-.8zM133.8 122.9h.8v.8h-.8zM127.8 121.8h.8v.8h-.8zM125.1 113.3h.8v.8h-.8zM130.4 117.9h.8v.8h-.8zM123.0 127.1h.8v.8h-.8zM123.6 128.4h.8v.8h-.8zM136.5 127.0h.8v.8h-.8zM125.5 126.5h.8v.8h-.8zM122.4 116.9h.8v.8h-.8zM133.5 127.0h.8v.8h-.8zM124.0 110.5h.8v.8h-.8zM132.0 119.3h.8v.8h-.8zM131.2 116.7h.8v.8h-.8zM130.0 114.2h.8v.8h-.8zM128.2 110.3h.8v.8h-.8zM134.0 124.3h.8v.8h-.8zM127.4 116.8h.8v.8h-.8zM136.2 117.7h.8v.8h-.8zM131.4 113.9h.8v.8h-.8zM130.8 130.9h.8v.8h-.8zM118.0 121.3h.8v.8h-.8zM126.9 109.5h.8v.8h-.8zM120.2 116.0h.8v.8h-.8zM129.1 117.2h.8v.8h-.8zM129.6 117.3h.8v.8h-.8zM133.0 120.9h.8v.8h-.8zM128.3 118.6h.8v.8h-.8zM133.8 116.7h.8v.8h-.8zM132.0 132.4h.8v.8h-.8zM132.2 124.1h.8v.8h-.8zM133.9 125.3h.8v.8h-.8zM122.0 114.2h.8v.8h-.8zM126.1 118.5h.8v.8h-.8zM132.9 121.4h.8v.8h-.8zM134.2 120.7h.8v.8h-.8zM125.5 113.0h.8v.8h-.8zM129.0 113.6h.8v.8h-.8zM130.2 123.8h.8v.8h-.8zM130.0 122.2h.8v.8h-.8zM131.6 120.5h.8v.8h-.8zM131.9 129.7h.8v.8h-.8zM122.5 114.7h.8v.8h-.8zM124.7 121.6h.8v.8h-.8zM132.8 108.3h.8v.8h-.8zM121.4 126.3h.8v.8h-.8zM132.5 111.0h.8v.8h-.8zM127.0 109.9h.8v.8h-.8zM126.1 117.3h.8v.8h-.8zM134.8 138.4h.8v.8h-.8zM126.9 115.0h.8v.8h-.8zM125.8 109.8h.8v.8h-.8zM126.9 123.4h.8v.8h-.8zM131.2 121.6h.8v.8h-.8zM118.3 109.8h.8v.8h-.8zM129.5 117.3h.8v.8h-.8zM136.6 122.7h.8v.8h-.8zM128.7 122.6h.8v.8h-.8zM116.2 128.3h.8v.8h-.8zM124.4 113.3h.8v.8h-.8zM130.5 118.7h.8v.8h-.8zM122.7 126.3h.8v.8h-.8zM124.4 123.5h.8v.8h-.8zM127.9 116.5h.8v.8h-.8zM136.0 111.7h.8v.8h-.8zM135.9 126.7h.8v.8h-.8zM127.3 127.2h.8v.8h-.8zM133.9 141.0h.8v.8h-.8zM128.6 118.4h.8v.8h-.8zM131.5 132.5h.8v.8h-.8zM131.8 110.3h.8v.8h-.8zM134.6 115.5h.8v.8h-.8zM127.2 114.5h.8v.8h-.8zM130.1 116.1h.8v.8h-.8zM132.1 112.9h.8v.8h-.8zM131.4 115.5h.8v.8h-.8zM126.1 119.3h.8v.8h-.8zM128.1 124.9h.8v.8h-.8zM135.4 119.1h.8v.8h-.8zM132.1 119.8h.8v.8h-.8zM138.1 131.3h.8v.8h-.8zM117.8 122.2h.8v.8h-.8zM129.6 119.6h.8v.8h-.8zM123.5 120.3h.8v.8h-.8zM131.6 124.3h.8v.8h-.8zM133.8 128.7h.8v.8h-.8zM123.5 132.1h.8v.8h-.8zM128.1 128.8h.8v.8h-.8zM129.7 116.3h.8v.8h-.8zM129.1 121.0h.8v.8h-.8zM129.1 118.3h.8v.8h-.8zM126.8 131.7h.8v.8h-.8zM126.0 114.5h.8v.8h-.8zM136.8 128.1h.8v.8h-.8zM134.5 126.9h.8v.8h-.8zM108.2 145.6h.8v.8h-.8zM107.0 140.3h.8v.8h-.8zM106.1 123.4h.8v.8h-.8zM92.3 162.2h.8v.8h-.8zM122.0 130.1h.8v.8h-.8zM138.1 114.5h.8v.8h-.8zM103.0 157.7h.8v.8h-.8zM136.9 152.7h.8v.8h-.8zM94.2 140.1h.8v.8h-.8zM131.1 108.6h.8v.8h-.8zM122.9 143.5h.8v.8h-.8zM95.8 131.3h.8v.8h-.8zM136.0 120.2h.8v.8h-.8zM87.7 144.5h.8v.8h-.8zM89.9 139.5h.8v.8h-.8zM97.9 110.3h.8v.8h-.8zM120.0 150.4h.8v.8h-.8zM137.3 122.1h.8v.8h-.8zM97.4 128.9h.8v.8h-.8zM97.1 122.2h.8v.8h-.8zM134.5 113.1h.8v.8h-.8zM129.6 138.3h.8v.8h-.8zM119.8 139.7h.8v.8h-.8zM97.2 124.7h.8v.8h-.8zM134.6 149.6h.8v.8h-.8zM120.1 160.0h.8v.8h-.8zM96.6 126.9h.8v.8h-.8zM129.8 133.0h.8v.8h-.8zM108.4 153.6h.8v.8h-.8zM126.1 133.4h.8v.8h-.8zM122.6 121.1h.8v.8h-.8zM97.9 119.9h.8v.8h-.8zM121.2 161.3h.8v.8h-.8zM125.3 123.4h.8v.8h-.8zM120.1 128.0h.8v.8h-.8zM129.0 135.5h.8v.8h-.8zM97.6 124.7h.8v.8h-.8zM88.7 128.6h.8v.8h-.8zM102.5 134.0h.8v.8h-.8zM119.9 160.2h.8v.8h-.8zM128.6 140.4h.8v.8h-.8zM116.3 112.1h.8v.8h-.8zM86.9 144.3h.8v.8h-.8zM93.0 155.8h.8v.8h-.8zM120.6 137.7h.8v.8h-.8zM135.1 115.8h.8v.8h-.8zM100.9 136.8h.8v.8h-.8zM136.7 112.9h.8v.8h-.8zM116.9 159.7h.8v.8h-.8zM91.9 147.7h.8v.8h-.8zM121.7 128.6h.8v.8h-.8zM113.2 160.6h.8v.8h-.8zM109.6 133.9h.8v.8h-.8z" fill="#000" fill-opacity="0.8"/>
<rect x="92.10" y="126.60" width="28.90" height="23.00" fill="none" stroke="#3a3a3a" stroke-width="0.8"/>
<text class="h" x="86.80" y="117.20" font-size="6.8" font-weight="normal" text-anchor="start" fill="#111" textLength="19.00" lengthAdjust="spacingAndGlyphs">25.6%</text>
<rect x="14.90" y="179.10" width="56.00" height="56.70" fill="#fff" stroke="#a0a0a0" stroke-width="0.8"/>
<ellipse cx="42" cy="208" rx="17" ry="9" fill="#000" fill-opacity="0.15" filter="url(#bl2)"/>
<ellipse cx="31" cy="208.5" rx="8.5" ry="7.0" fill="#000" fill-opacity="0.82" filter="url(#bl2)"/>
<ellipse cx="54" cy="208.5" rx="5.5" ry="6.5" fill="#000" fill-opacity="0.65" filter="url(#bl2)"/>
<ellipse cx="43" cy="208.5" rx="5" ry="5" fill="#000" fill-opacity="0.3" filter="url(#bl2)"/>
<path d="M26.2 219.9h.8v.8h-.8zM29.0 213.8h.8v.8h-.8zM25.6 202.6h.8v.8h-.8zM34.9 207.9h.8v.8h-.8zM24.3 203.1h.8v.8h-.8zM36.7 200.9h.8v.8h-.8zM35.5 209.3h.8v.8h-.8zM33.3 219.1h.8v.8h-.8zM20.1 215.4h.8v.8h-.8zM27.5 208.7h.8v.8h-.8zM34.5 206.8h.8v.8h-.8zM23.9 209.4h.8v.8h-.8zM29.7 213.1h.8v.8h-.8zM30.3 202.1h.8v.8h-.8zM35.2 200.3h.8v.8h-.8zM32.2 216.8h.8v.8h-.8zM32.2 209.7h.8v.8h-.8zM28.7 215.6h.8v.8h-.8zM30.9 209.5h.8v.8h-.8zM30.2 215.0h.8v.8h-.8zM34.4 205.8h.8v.8h-.8zM30.0 210.7h.8v.8h-.8zM36.0 215.4h.8v.8h-.8zM22.5 213.0h.8v.8h-.8zM36.8 206.5h.8v.8h-.8zM30.0 212.5h.8v.8h-.8zM36.4 205.6h.8v.8h-.8zM31.3 202.2h.8v.8h-.8zM35.1 210.8h.8v.8h-.8zM38.2 214.7h.8v.8h-.8zM28.1 212.3h.8v.8h-.8zM31.2 202.9h.8v.8h-.8zM30.0 212.4h.8v.8h-.8zM31.9 211.5h.8v.8h-.8zM22.8 206.5h.8v.8h-.8zM30.0 197.4h.8v.8h-.8zM29.6 213.0h.8v.8h-.8zM27.0 212.4h.8v.8h-.8zM29.9 210.7h.8v.8h-.8zM23.2 200.8h.8v.8h-.8zM37.7 201.9h.8v.8h-.8zM33.0 213.0h.8v.8h-.8zM40.1 212.1h.8v.8h-.8zM26.5 210.7h.8v.8h-.8zM25.1 207.4h.8v.8h-.8zM32.2 210.3h.8v.8h-.8zM22.6 206.1h.8v.8h-.8zM32.0 207.1h.8v.8h-.8zM27.4 204.6h.8v.8h-.8zM29.2 209.7h.8v.8h-.8zM32.1 206.6h.8v.8h-.8zM31.1 212.8h.8v.8h-.8zM40.0 211.7h.8v.8h-.8zM34.0 204.9h.8v.8h-.8zM24.4 216.7h.8v.8h-.8zM35.7 203.5h.8v.8h-.8zM24.2 210.5h.8v.8h-.8zM31.3 213.4h.8v.8h-.8zM24.7 214.2h.8v.8h-.8zM26.7 198.6h.8v.8h-.8zM37.3 213.0h.8v.8h-.8zM28.1 214.0h.8v.8h-.8zM27.6 214.9h.8v.8h-.8zM28.0 198.5h.8v.8h-.8zM29.3 205.5h.8v.8h-.8zM37.9 208.1h.8v.8h-.8zM25.0 206.5h.8v.8h-.8zM24.7 214.5h.8v.8h-.8zM33.7 205.5h.8v.8h-.8zM22.9 214.0h.8v.8h-.8zM29.0 211.0h.8v.8h-.8zM36.4 202.0h.8v.8h-.8zM30.8 204.0h.8v.8h-.8zM28.4 206.4h.8v.8h-.8zM27.3 208.9h.8v.8h-.8zM26.3 213.0h.8v.8h-.8zM27.9 207.7h.8v.8h-.8zM31.5 212.6h.8v.8h-.8zM36.9 201.4h.8v.8h-.8zM35.6 194.8h.8v.8h-.8zM28.0 207.0h.8v.8h-.8zM27.2 210.6h.8v.8h-.8zM34.2 206.9h.8v.8h-.8zM21.8 204.0h.8v.8h-.8zM28.6 210.4h.8v.8h-.8zM29.2 217.2h.8v.8h-.8zM25.3 208.0h.8v.8h-.8zM25.9 205.2h.8v.8h-.8zM32.5 204.7h.8v.8h-.8zM22.6 217.3h.8v.8h-.8zM26.2 208.3h.8v.8h-.8zM27.5 211.3h.8v.8h-.8zM31.1 214.0h.8v.8h-.8zM24.0 213.3h.8v.8h-.8zM36.1 204.4h.8v.8h-.8zM29.2 212.8h.8v.8h-.8zM29.4 212.3h.8v.8h-.8zM28.9 210.7h.8v.8h-.8zM27.4 213.0h.8v.8h-.8zM25.9 206.0h.8v.8h-.8zM36.4 208.2h.8v.8h-.8zM31.7 206.1h.8v.8h-.8zM30.2 211.9h.8v.8h-.8zM35.6 205.6h.8v.8h-.8zM27.2 210.3h.8v.8h-.8zM33.8 203.6h.8v.8h-.8zM30.8 208.0h.8v.8h-.8zM26.3 206.9h.8v.8h-.8zM34.4 208.0h.8v.8h-.8zM23.3 209.1h.8v.8h-.8zM33.9 207.7h.8v.8h-.8zM26.3 207.5h.8v.8h-.8zM32.7 199.2h.8v.8h-.8zM37.5 213.5h.8v.8h-.8zM33.5 205.7h.8v.8h-.8zM27.7 207.4h.8v.8h-.8zM30.5 204.8h.8v.8h-.8zM28.8 213.0h.8v.8h-.8zM24.9 204.4h.8v.8h-.8zM25.2 210.8h.8v.8h-.8zM30.8 213.8h.8v.8h-.8zM33.3 215.9h.8v.8h-.8zM21.9 213.8h.8v.8h-.8zM30.3 211.3h.8v.8h-.8zM33.1 203.1h.8v.8h-.8zM31.2 214.3h.8v.8h-.8zM25.7 213.8h.8v.8h-.8zM35.7 212.3h.8v.8h-.8zM24.6 212.1h.8v.8h-.8zM33.8 208.9h.8v.8h-.8zM38.5 206.2h.8v.8h-.8zM20.5 213.4h.8v.8h-.8zM31.8 214.2h.8v.8h-.8zM32.1 203.9h.8v.8h-.8zM31.7 212.6h.8v.8h-.8zM26.8 209.6h.8v.8h-.8zM29.0 212.5h.8v.8h-.8zM23.7 209.8h.8v.8h-.8zM31.2 213.5h.8v.8h-.8zM33.2 213.1h.8v.8h-.8zM27.3 212.5h.8v.8h-.8zM26.0 202.4h.8v.8h-.8zM28.2 212.2h.8v.8h-.8zM30.5 208.8h.8v.8h-.8zM30.8 203.5h.8v.8h-.8zM30.0 211.7h.8v.8h-.8zM30.9 202.4h.8v.8h-.8zM24.1 212.6h.8v.8h-.8zM17.1 216.2h.8v.8h-.8zM33.6 206.3h.8v.8h-.8zM37.5 212.7h.8v.8h-.8zM23.6 210.6h.8v.8h-.8zM27.3 211.5h.8v.8h-.8zM32.0 202.5h.8v.8h-.8zM35.2 211.3h.8v.8h-.8zM33.7 209.2h.8v.8h-.8zM36.8 211.9h.8v.8h-.8zM30.3 208.6h.8v.8h-.8zM32.6 213.5h.8v.8h-.8zM32.5 209.8h.8v.8h-.8zM28.4 211.6h.8v.8h-.8zM36.4 214.7h.8v.8h-.8zM33.6 209.4h.8v.8h-.8zM35.3 213.0h.8v.8h-.8zM28.6 209.6h.8v.8h-.8zM35.6 210.9h.8v.8h-.8zM25.3 206.3h.8v.8h-.8zM32.4 212.1h.8v.8h-.8zM17.7 214.1h.8v.8h-.8zM25.6 208.3h.8v.8h-.8zM34.1 212.2h.8v.8h-.8zM28.3 210.5h.8v.8h-.8zM31.4 203.7h.8v.8h-.8zM22.6 210.2h.8v.8h-.8zM38.1 214.5h.8v.8h-.8zM33.4 206.5h.8v.8h-.8zM30.4 200.7h.8v.8h-.8zM32.5 209.5h.8v.8h-.8zM32.1 205.8h.8v.8h-.8zM37.4 217.1h.8v.8h-.8zM31.6 208.5h.8v.8h-.8zM23.3 208.6h.8v.8h-.8zM29.3 205.9h.8v.8h-.8zM36.8 209.8h.8v.8h-.8zM33.3 206.1h.8v.8h-.8zM28.4 204.7h.8v.8h-.8zM33.5 208.4h.8v.8h-.8zM31.1 205.1h.8v.8h-.8zM33.5 214.5h.8v.8h-.8zM22.7 203.5h.8v.8h-.8zM26.1 208.3h.8v.8h-.8zM33.8 205.6h.8v.8h-.8zM29.4 202.6h.8v.8h-.8zM32.2 216.0h.8v.8h-.8zM40.1 199.4h.8v.8h-.8zM29.0 215.1h.8v.8h-.8zM31.7 202.4h.8v.8h-.8zM27.8 209.1h.8v.8h-.8zM27.4 218.7h.8v.8h-.8zM30.1 199.3h.8v.8h-.8zM23.4 202.6h.8v.8h-.8zM20.2 214.5h.8v.8h-.8zM37.2 209.4h.8v.8h-.8zM30.0 206.2h.8v.8h-.8zM36.0 208.5h.8v.8h-.8zM31.1 204.4h.8v.8h-.8zM31.2 209.2h.8v.8h-.8zM33.8 215.3h.8v.8h-.8zM34.0 207.0h.8v.8h-.8zM24.6 209.3h.8v.8h-.8zM36.4 214.0h.8v.8h-.8zM25.8 217.4h.8v.8h-.8zM31.5 206.1h.8v.8h-.8zM43.0 210.0h.8v.8h-.8zM30.9 206.2h.8v.8h-.8zM38.6 205.8h.8v.8h-.8zM28.8 206.9h.8v.8h-.8zM33.5 205.9h.8v.8h-.8zM30.8 201.0h.8v.8h-.8zM32.5 199.9h.8v.8h-.8zM26.3 205.4h.8v.8h-.8zM26.0 209.2h.8v.8h-.8zM32.1 214.0h.8v.8h-.8zM22.9 206.3h.8v.8h-.8zM26.4 207.9h.8v.8h-.8zM33.6 211.6h.8v.8h-.8zM27.5 211.9h.8v.8h-.8zM26.2 208.2h.8v.8h-.8zM25.1 208.4h.8v.8h-.8zM31.2 216.9h.8v.8h-.8zM28.7 207.2h.8v.8h-.8zM31.2 206.5h.8v.8h-.8zM29.6 201.5h.8v.8h-.8zM39.5 210.6h.8v.8h-.8zM28.4 207.5h.8v.8h-.8zM21.0 217.1h.8v.8h-.8zM31.1 207.2h.8v.8h-.8zM30.5 212.2h.8v.8h-.8zM31.3 212.8h.8v.8h-.8zM22.7 215.9h.8v.8h-.8zM36.0 202.9h.8v.8h-.8zM30.4 215.6h.8v.8h-.8zM30.3 208.7h.8v.8h-.8zM22.8 208.2h.8v.8h-.8zM32.8 207.3h.8v.8h-.8zM30.2 206.9h.8v.8h-.8zM37.1 207.1h.8v.8h-.8zM28.5 198.4h.8v.8h-.8zM24.5 210.9h.8v.8h-.8zM31.1 208.9h.8v.8h-.8zM26.1 204.5h.8v.8h-.8zM32.5 208.4h.8v.8h-.8zM25.2 218.8h.8v.8h-.8zM29.9 210.3h.8v.8h-.8zM29.4 207.0h.8v.8h-.8zM30.3 216.2h.8v.8h-.8zM28.0 205.2h.8v.8h-.8zM26.6 208.0h.8v.8h-.8zM30.2 206.2h.8v.8h-.8zM27.7 207.6h.8v.8h-.8zM31.3 211.9h.8v.8h-.8zM29.2 211.2h.8v.8h-.8zM19.6 205.4h.8v.8h-.8zM30.2 208.1h.8v.8h-.8zM37.3 209.0h.8v.8h-.8zM32.0 206.9h.8v.8h-.8zM33.4 208.5h.8v.8h-.8zM32.7 205.5h.8v.8h-.8zM28.2 205.4h.8v.8h-.8zM24.0 208.8h.8v.8h-.8zM34.4 204.1h.8v.8h-.8zM35.6 210.5h.8v.8h-.8zM33.3 207.8h.8v.8h-.8zM32.6 204.6h.8v.8h-.8zM32.4 206.0h.8v.8h-.8zM30.4 206.5h.8v.8h-.8zM31.8 207.9h.8v.8h-.8zM30.6 209.1h.8v.8h-.8zM32.1 207.7h.8v.8h-.8zM25.9 204.8h.8v.8h-.8zM27.5 214.9h.8v.8h-.8zM33.3 212.6h.8v.8h-.8zM28.9 209.1h.8v.8h-.8zM18.8 212.8h.8v.8h-.8zM31.1 210.1h.8v.8h-.8zM19.5 207.5h.8v.8h-.8zM39.7 209.0h.8v.8h-.8zM34.0 220.3h.8v.8h-.8zM33.8 213.0h.8v.8h-.8zM27.3 213.2h.8v.8h-.8zM25.1 206.9h.8v.8h-.8zM29.5 211.3h.8v.8h-.8zM30.6 218.5h.8v.8h-.8zM26.8 210.5h.8v.8h-.8zM31.3 213.3h.8v.8h-.8zM33.8 214.1h.8v.8h-.8zM33.4 211.4h.8v.8h-.8zM25.5 215.5h.8v.8h-.8zM20.1 209.6h.8v.8h-.8zM30.5 210.8h.8v.8h-.8zM27.4 205.9h.8v.8h-.8zM32.7 220.2h.8v.8h-.8zM38.4 210.0h.8v.8h-.8zM38.4 209.1h.8v.8h-.8zM31.9 214.7h.8v.8h-.8zM35.9 206.5h.8v.8h-.8zM38.4 208.6h.8v.8h-.8zM30.8 205.2h.8v.8h-.8zM31.9 208.7h.8v.8h-.8zM34.6 206.9h.8v.8h-.8zM30.4 211.0h.8v.8h-.8zM28.2 208.1h.8v.8h-.8zM27.0 206.0h.8v.8h-.8zM30.6 207.3h.8v.8h-.8zM27.6 208.1h.8v.8h-.8zM34.4 206.4h.8v.8h-.8zM29.0 212.7h.8v.8h-.8zM37.6 211.6h.8v.8h-.8zM36.4 209.3h.8v.8h-.8zM24.7 203.4h.8v.8h-.8zM35.8 210.9h.8v.8h-.8zM28.7 203.1h.8v.8h-.8zM37.1 209.4h.8v.8h-.8zM33.0 208.8h.8v.8h-.8zM30.4 206.1h.8v.8h-.8zM33.8 205.0h.8v.8h-.8zM27.9 205.6h.8v.8h-.8zM32.2 217.6h.8v.8h-.8zM32.5 207.5h.8v.8h-.8zM29.9 207.7h.8v.8h-.8zM32.5 212.8h.8v.8h-.8zM25.9 210.4h.8v.8h-.8zM33.3 213.2h.8v.8h-.8zM24.9 203.3h.8v.8h-.8zM33.6 203.9h.8v.8h-.8zM32.9 223.1h.8v.8h-.8zM34.0 208.4h.8v.8h-.8zM28.0 207.4h.8v.8h-.8zM45.1 209.3h.8v.8h-.8zM29.6 212.9h.8v.8h-.8zM31.4 203.5h.8v.8h-.8zM27.1 209.9h.8v.8h-.8zM37.5 208.5h.8v.8h-.8zM28.4 211.5h.8v.8h-.8zM35.4 209.4h.8v.8h-.8zM26.2 206.3h.8v.8h-.8zM32.2 204.9h.8v.8h-.8zM28.9 198.0h.8v.8h-.8zM35.1 212.9h.8v.8h-.8zM29.3 202.2h.8v.8h-.8zM26.6 206.9h.8v.8h-.8zM32.9 215.8h.8v.8h-.8zM25.0 206.8h.8v.8h-.8zM26.2 211.3h.8v.8h-.8zM34.4 207.7h.8v.8h-.8zM21.8 211.6h.8v.8h-.8zM34.3 208.7h.8v.8h-.8zM28.8 206.4h.8v.8h-.8zM26.4 214.5h.8v.8h-.8zM31.9 207.5h.8v.8h-.8zM33.7 202.8h.8v.8h-.8zM28.0 207.2h.8v.8h-.8zM29.9 211.0h.8v.8h-.8zM34.5 203.8h.8v.8h-.8zM34.3 212.0h.8v.8h-.8zM30.5 211.9h.8v.8h-.8zM27.1 217.8h.8v.8h-.8zM26.3 205.8h.8v.8h-.8zM28.0 211.5h.8v.8h-.8zM34.0 201.4h.8v.8h-.8zM33.5 206.8h.8v.8h-.8zM32.2 209.1h.8v.8h-.8zM37.4 210.4h.8v.8h-.8zM29.4 208.4h.8v.8h-.8zM29.0 208.2h.8v.8h-.8zM29.0 206.0h.8v.8h-.8zM39.8 206.7h.8v.8h-.8zM21.1 209.9h.8v.8h-.8zM32.2 211.0h.8v.8h-.8zM32.9 211.4h.8v.8h-.8zM31.1 212.9h.8v.8h-.8zM41.9 213.8h.8v.8h-.8zM36.4 200.8h.8v.8h-.8zM34.5 206.4h.8v.8h-.8zM26.6 207.9h.8v.8h-.8zM33.2 205.8h.8v.8h-.8zM29.1 213.1h.8v.8h-.8zM31.1 211.8h.8v.8h-.8zM31.8 208.2h.8v.8h-.8zM28.6 209.1h.8v.8h-.8zM33.8 214.1h.8v.8h-.8zM38.6 207.1h.8v.8h-.8zM35.8 207.3h.8v.8h-.8zM31.9 212.5h.8v.8h-.8zM21.8 210.6h.8v.8h-.8zM36.0 214.7h.8v.8h-.8zM36.0 210.2h.8v.8h-.8zM30.0 211.8h.8v.8h-.8zM28.7 206.3h.8v.8h-.8zM34.0 204.6h.8v.8h-.8zM27.1 208.6h.8v.8h-.8zM34.7 197.2h.8v.8h-.8zM25.8 210.4h.8v.8h-.8zM26.6 212.8h.8v.8h-.8zM31.0 208.9h.8v.8h-.8zM24.1 207.7h.8v.8h-.8zM30.9 213.3h.8v.8h-.8zM33.4 208.4h.8v.8h-.8zM24.7 212.8h.8v.8h-.8zM35.3 218.1h.8v.8h-.8zM28.3 211.7h.8v.8h-.8zM33.5 212.7h.8v.8h-.8zM31.9 210.7h.8v.8h-.8zM28.8 209.7h.8v.8h-.8zM28.5 209.8h.8v.8h-.8zM22.9 208.9h.8v.8h-.8zM27.7 213.3h.8v.8h-.8zM27.3 201.7h.8v.8h-.8zM38.7 207.5h.8v.8h-.8zM35.7 211.4h.8v.8h-.8zM24.5 205.0h.8v.8h-.8zM34.7 208.2h.8v.8h-.8zM32.0 205.6h.8v.8h-.8zM29.2 210.5h.8v.8h-.8zM33.1 212.3h.8v.8h-.8zM34.7 214.9h.8v.8h-.8zM28.3 210.8h.8v.8h-.8zM29.7 205.5h.8v.8h-.8zM31.7 209.7h.8v.8h-.8zM26.4 211.1h.8v.8h-.8zM31.8 214.7h.8v.8h-.8zM30.6 199.4h.8v.8h-.8zM27.8 210.2h.8v.8h-.8zM27.0 200.8h.8v.8h-.8zM32.4 211.7h.8v.8h-.8zM35.1 210.5h.8v.8h-.8zM32.5 210.8h.8v.8h-.8zM27.0 212.4h.8v.8h-.8zM34.5 210.3h.8v.8h-.8zM31.8 205.8h.8v.8h-.8zM33.8 210.1h.8v.8h-.8zM36.4 213.8h.8v.8h-.8zM26.8 208.1h.8v.8h-.8zM30.3 208.7h.8v.8h-.8zM28.2 203.4h.8v.8h-.8zM26.9 213.6h.8v.8h-.8zM40.4 206.4h.8v.8h-.8zM35.4 205.4h.8v.8h-.8zM22.7 206.7h.8v.8h-.8zM33.0 204.9h.8v.8h-.8zM28.4 207.5h.8v.8h-.8zM36.4 214.1h.8v.8h-.8zM31.4 212.0h.8v.8h-.8zM30.2 214.7h.8v.8h-.8zM31.7 215.0h.8v.8h-.8zM32.8 204.8h.8v.8h-.8zM31.1 210.7h.8v.8h-.8zM30.0 215.1h.8v.8h-.8zM30.3 218.5h.8v.8h-.8zM33.4 202.5h.8v.8h-.8zM25.7 202.5h.8v.8h-.8zM31.0 210.6h.8v.8h-.8zM30.4 207.2h.8v.8h-.8zM28.7 204.3h.8v.8h-.8zM34.4 210.3h.8v.8h-.8zM25.0 205.2h.8v.8h-.8zM29.3 198.9h.8v.8h-.8zM27.0 208.5h.8v.8h-.8zM33.5 209.1h.8v.8h-.8zM28.8 211.3h.8v.8h-.8zM31.2 212.6h.8v.8h-.8zM32.8 209.4h.8v.8h-.8zM23.5 207.6h.8v.8h-.8zM33.1 205.7h.8v.8h-.8zM27.5 201.5h.8v.8h-.8zM29.8 206.7h.8v.8h-.8zM30.5 212.9h.8v.8h-.8zM34.8 211.4h.8v.8h-.8zM34.4 217.4h.8v.8h-.8zM39.2 207.9h.8v.8h-.8zM31.8 200.9h.8v.8h-.8zM28.8 212.2h.8v.8h-.8zM28.7 213.1h.8v.8h-.8zM34.1 203.6h.8v.8h-.8zM38.5 201.7h.8v.8h-.8zM32.6 209.3h.8v.8h-.8zM28.3 211.7h.8v.8h-.8zM32.3 203.8h.8v.8h-.8zM32.2 207.1h.8v.8h-.8zM31.2 205.3h.8v.8h-.8zM27.5 203.5h.8v.8h-.8zM19.1 202.9h.8v.8h-.8zM28.5 209.2h.8v.8h-.8zM35.9 207.0h.8v.8h-.8zM32.0 205.7h.8v.8h-.8zM20.7 197.4h.8v.8h-.8zM31.0 216.1h.8v.8h-.8zM22.4 204.5h.8v.8h-.8zM40.3 208.0h.8v.8h-.8zM31.9 203.7h.8v.8h-.8zM25.4 210.2h.8v.8h-.8zM34.7 202.1h.8v.8h-.8zM27.3 209.0h.8v.8h-.8zM33.6 207.8h.8v.8h-.8zM31.1 212.5h.8v.8h-.8zM25.5 203.9h.8v.8h-.8zM34.1 205.8h.8v.8h-.8zM24.7 207.6h.8v.8h-.8zM37.3 217.6h.8v.8h-.8zM31.3 202.2h.8v.8h-.8zM26.2 209.8h.8v.8h-.8zM22.5 205.7h.8v.8h-.8zM38.5 209.9h.8v.8h-.8zM37.8 211.4h.8v.8h-.8zM25.1 209.2h.8v.8h-.8zM38.7 209.7h.8v.8h-.8zM31.8 209.8h.8v.8h-.8zM30.0 206.0h.8v.8h-.8zM30.6 207.6h.8v.8h-.8zM29.7 201.4h.8v.8h-.8zM37.7 207.0h.8v.8h-.8zM31.7 205.2h.8v.8h-.8zM22.4 207.5h.8v.8h-.8zM40.8 211.7h.8v.8h-.8zM35.1 210.2h.8v.8h-.8zM25.9 210.6h.8v.8h-.8zM29.3 213.3h.8v.8h-.8zM26.8 198.3h.8v.8h-.8zM31.2 210.4h.8v.8h-.8zM32.8 208.4h.8v.8h-.8zM32.1 208.1h.8v.8h-.8zM28.2 202.9h.8v.8h-.8zM27.3 210.9h.8v.8h-.8zM35.0 213.5h.8v.8h-.8zM30.5 212.9h.8v.8h-.8zM41.5 208.2h.8v.8h-.8zM27.2 211.3h.8v.8h-.8zM34.7 212.5h.8v.8h-.8zM31.2 216.4h.8v.8h-.8zM27.5 213.8h.8v.8h-.8zM37.4 209.1h.8v.8h-.8zM31.6 208.9h.8v.8h-.8zM26.8 209.2h.8v.8h-.8zM29.5 209.5h.8v.8h-.8zM35.8 206.4h.8v.8h-.8zM25.3 211.8h.8v.8h-.8zM37.4 205.6h.8v.8h-.8zM34.2 205.1h.8v.8h-.8zM29.7 210.0h.8v.8h-.8zM37.3 206.1h.8v.8h-.8zM39.2 207.5h.8v.8h-.8zM33.8 199.6h.8v.8h-.8zM31.8 211.9h.8v.8h-.8zM39.6 208.5h.8v.8h-.8zM38.0 208.0h.8v.8h-.8zM26.7 210.5h.8v.8h-.8zM30.0 209.4h.8v.8h-.8zM30.0 205.5h.8v.8h-.8zM29.1 217.1h.8v.8h-.8zM24.0 206.6h.8v.8h-.8zM35.2 212.7h.8v.8h-.8zM31.4 216.4h.8v.8h-.8zM31.5 205.9h.8v.8h-.8zM37.6 208.9h.8v.8h-.8zM28.4 205.0h.8v.8h-.8zM30.7 213.0h.8v.8h-.8zM32.3 207.1h.8v.8h-.8zM29.0 203.8h.8v.8h-.8zM30.5 214.2h.8v.8h-.8zM34.6 212.5h.8v.8h-.8zM31.0 204.7h.8v.8h-.8zM37.2 213.6h.8v.8h-.8zM27.5 209.4h.8v.8h-.8zM31.9 220.2h.8v.8h-.8zM24.3 215.9h.8v.8h-.8zM30.4 206.1h.8v.8h-.8zM27.7 207.4h.8v.8h-.8zM37.4 204.7h.8v.8h-.8zM34.5 209.1h.8v.8h-.8zM33.4 208.7h.8v.8h-.8zM39.7 211.7h.8v.8h-.8zM37.8 208.9h.8v.8h-.8zM34.4 202.2h.8v.8h-.8zM27.8 205.0h.8v.8h-.8zM24.2 214.6h.8v.8h-.8zM30.9 213.5h.8v.8h-.8zM29.3 207.8h.8v.8h-.8zM28.0 207.9h.8v.8h-.8zM29.6 207.8h.8v.8h-.8zM23.2 208.6h.8v.8h-.8zM38.0 201.3h.8v.8h-.8zM25.6 212.3h.8v.8h-.8zM27.8 205.7h.8v.8h-.8zM33.7 209.1h.8v.8h-.8zM23.3 197.6h.8v.8h-.8zM35.3 209.5h.8v.8h-.8zM35.4 214.2h.8v.8h-.8zM29.5 198.9h.8v.8h-.8zM25.9 215.0h.8v.8h-.8zM28.8 210.5h.8v.8h-.8zM22.3 205.4h.8v.8h-.8zM37.5 201.7h.8v.8h-.8zM31.3 213.5h.8v.8h-.8zM27.5 209.6h.8v.8h-.8zM26.7 211.0h.8v.8h-.8zM33.7 207.3h.8v.8h-.8zM38.1 205.1h.8v.8h-.8zM25.0 212.2h.8v.8h-.8zM28.3 204.4h.8v.8h-.8zM22.7 212.4h.8v.8h-.8zM34.2 201.3h.8v.8h-.8zM31.7 204.5h.8v.8h-.8zM41.7 202.3h.8v.8h-.8zM30.4 214.1h.8v.8h-.8zM28.9 201.0h.8v.8h-.8zM27.6 203.6h.8v.8h-.8zM35.0 211.3h.8v.8h-.8zM23.3 209.5h.8v.8h-.8zM34.5 217.9h.8v.8h-.8zM32.2 216.4h.8v.8h-.8zM28.6 211.2h.8v.8h-.8zM26.7 211.5h.8v.8h-.8zM36.0 200.6h.8v.8h-.8zM39.8 204.7h.8v.8h-.8zM28.9 207.1h.8v.8h-.8zM33.5 207.7h.8v.8h-.8zM39.3 202.6h.8v.8h-.8zM28.1 204.5h.8v.8h-.8zM29.8 204.9h.8v.8h-.8zM25.2 213.1h.8v.8h-.8zM30.3 210.3h.8v.8h-.8zM30.6 207.1h.8v.8h-.8zM29.0 207.3h.8v.8h-.8zM27.5 209.8h.8v.8h-.8zM23.5 205.5h.8v.8h-.8zM24.6 207.4h.8v.8h-.8zM26.4 201.1h.8v.8h-.8zM34.0 211.4h.8v.8h-.8zM28.6 212.6h.8v.8h-.8zM27.0 210.1h.8v.8h-.8zM34.1 210.6h.8v.8h-.8zM33.7 210.1h.8v.8h-.8zM27.4 217.3h.8v.8h-.8zM28.0 209.4h.8v.8h-.8zM34.1 202.8h.8v.8h-.8zM32.7 204.0h.8v.8h-.8zM27.0 211.6h.8v.8h-.8zM32.1 213.1h.8v.8h-.8zM30.9 211.8h.8v.8h-.8zM36.3 212.1h.8v.8h-.8zM26.9 209.3h.8v.8h-.8zM35.2 202.1h.8v.8h-.8zM33.1 205.4h.8v.8h-.8zM26.2 200.7h.8v.8h-.8zM36.0 206.8h.8v.8h-.8zM35.3 202.6h.8v.8h-.8zM24.7 208.9h.8v.8h-.8zM40.4 207.8h.8v.8h-.8zM25.5 200.1h.8v.8h-.8zM26.6 211.6h.8v.8h-.8zM29.5 211.8h.8v.8h-.8zM34.7 202.5h.8v.8h-.8zM33.8 209.1h.8v.8h-.8zM30.5 211.6h.8v.8h-.8zM37.5 207.2h.8v.8h-.8zM32.9 212.2h.8v.8h-.8zM37.7 209.3h.8v.8h-.8zM44.5 213.1h.8v.8h-.8zM31.9 209.3h.8v.8h-.8zM18.7 207.8h.8v.8h-.8zM28.8 210.7h.8v.8h-.8zM25.8 211.9h.8v.8h-.8zM31.4 209.5h.8v.8h-.8zM31.5 206.5h.8v.8h-.8zM25.1 205.0h.8v.8h-.8zM25.5 206.8h.8v.8h-.8zM29.7 206.0h.8v.8h-.8zM30.1 209.3h.8v.8h-.8zM18.5 209.2h.8v.8h-.8zM35.7 208.1h.8v.8h-.8zM31.1 208.4h.8v.8h-.8zM31.0 209.2h.8v.8h-.8zM32.4 215.2h.8v.8h-.8zM26.1 213.7h.8v.8h-.8zM30.8 205.9h.8v.8h-.8zM36.0 210.3h.8v.8h-.8zM36.2 207.0h.8v.8h-.8zM33.2 208.0h.8v.8h-.8zM29.7 207.4h.8v.8h-.8zM27.0 205.7h.8v.8h-.8zM37.4 202.5h.8v.8h-.8zM33.5 197.8h.8v.8h-.8zM29.0 209.3h.8v.8h-.8zM20.5 213.6h.8v.8h-.8zM26.8 204.5h.8v.8h-.8zM21.6 210.6h.8v.8h-.8zM37.0 206.8h.8v.8h-.8zM31.9 209.6h.8v.8h-.8zM27.4 204.9h.8v.8h-.8zM29.7 207.4h.8v.8h-.8zM54.1 211.6h.8v.8h-.8zM46.2 208.5h.8v.8h-.8zM55.2 208.5h.8v.8h-.8zM54.0 200.9h.8v.8h-.8zM45.8 211.5h.8v.8h-.8zM56.7 210.3h.8v.8h-.8zM54.3 203.5h.8v.8h-.8zM55.1 209.3h.8v.8h-.8zM55.7 207.5h.8v.8h-.8zM53.0 206.0h.8v.8h-.8zM50.7 203.9h.8v.8h-.8zM52.9 205.3h.8v.8h-.8zM52.9 204.1h.8v.8h-.8zM62.1 210.4h.8v.8h-.8zM60.8 210.0h.8v.8h-.8zM52.7 209.8h.8v.8h-.8zM53.0 207.5h.8v.8h-.8zM55.5 206.5h.8v.8h-.8zM56.4 217.6h.8v.8h-.8zM52.0 200.0h.8v.8h-.8zM50.9 213.7h.8v.8h-.8zM61.1 210.0h.8v.8h-.8zM58.1 208.7h.8v.8h-.8zM49.0 206.1h.8v.8h-.8zM48.3 207.4h.8v.8h-.8zM51.5 203.0h.8v.8h-.8zM55.2 202.1h.8v.8h-.8zM56.3 207.9h.8v.8h-.8zM53.2 200.9h.8v.8h-.8zM48.8 212.1h.8v.8h-.8zM55.2 213.4h.8v.8h-.8zM56.5 192.9h.8v.8h-.8zM54.4 201.4h.8v.8h-.8zM52.7 209.6h.8v.8h-.8zM56.4 209.3h.8v.8h-.8zM54.2 208.9h.8v.8h-.8zM50.5 210.3h.8v.8h-.8zM54.7 211.7h.8v.8h-.8zM49.9 212.3h.8v.8h-.8zM57.8 216.4h.8v.8h-.8zM56.0 208.5h.8v.8h-.8zM50.9 212.3h.8v.8h-.8zM55.1 201.1h.8v.8h-.8zM58.8 207.8h.8v.8h-.8zM46.9 202.9h.8v.8h-.8zM53.9 214.6h.8v.8h-.8zM60.2 218.9h.8v.8h-.8zM49.0 210.8h.8v.8h-.8zM53.8 202.5h.8v.8h-.8zM49.4 207.9h.8v.8h-.8zM54.2 208.5h.8v.8h-.8zM46.0 209.3h.8v.8h-.8zM48.7 213.3h.8v.8h-.8zM52.5 212.7h.8v.8h-.8zM54.9 196.5h.8v.8h-.8zM55.7 214.5h.8v.8h-.8zM55.9 206.2h.8v.8h-.8zM58.4 205.9h.8v.8h-.8zM56.8 214.8h.8v.8h-.8zM57.0 207.2h.8v.8h-.8zM50.9 202.2h.8v.8h-.8zM53.8 202.4h.8v.8h-.8zM65.6 208.7h.8v.8h-.8zM62.4 212.5h.8v.8h-.8zM57.3 215.1h.8v.8h-.8zM57.0 207.6h.8v.8h-.8zM57.9 206.3h.8v.8h-.8zM53.0 215.7h.8v.8h-.8zM61.3 206.3h.8v.8h-.8zM53.1 215.0h.8v.8h-.8zM54.1 209.5h.8v.8h-.8zM62.1 209.5h.8v.8h-.8zM47.1 207.3h.8v.8h-.8zM55.7 209.7h.8v.8h-.8zM48.3 206.3h.8v.8h-.8zM52.1 205.3h.8v.8h-.8zM54.1 207.8h.8v.8h-.8zM53.1 205.5h.8v.8h-.8zM55.0 209.8h.8v.8h-.8zM51.7 208.8h.8v.8h-.8zM54.0 207.2h.8v.8h-.8zM50.2 207.5h.8v.8h-.8zM53.0 207.4h.8v.8h-.8zM49.5 216.2h.8v.8h-.8zM56.7 208.4h.8v.8h-.8zM49.8 205.7h.8v.8h-.8zM56.8 207.1h.8v.8h-.8zM52.9 211.4h.8v.8h-.8zM53.3 207.5h.8v.8h-.8zM58.6 207.7h.8v.8h-.8zM54.8 207.2h.8v.8h-.8zM47.7 209.1h.8v.8h-.8zM56.2 210.2h.8v.8h-.8zM44.1 210.4h.8v.8h-.8zM55.3 201.0h.8v.8h-.8zM53.0 203.6h.8v.8h-.8zM49.4 196.6h.8v.8h-.8zM54.7 212.0h.8v.8h-.8zM53.3 213.4h.8v.8h-.8zM61.5 214.2h.8v.8h-.8zM52.8 209.0h.8v.8h-.8zM61.3 213.6h.8v.8h-.8zM59.3 208.2h.8v.8h-.8zM52.2 207.8h.8v.8h-.8zM51.5 201.5h.8v.8h-.8zM59.1 204.9h.8v.8h-.8zM53.9 205.7h.8v.8h-.8zM55.0 212.5h.8v.8h-.8zM53.5 215.9h.8v.8h-.8zM50.1 206.3h.8v.8h-.8zM53.1 210.1h.8v.8h-.8zM51.0 209.6h.8v.8h-.8zM48.9 204.9h.8v.8h-.8zM53.3 200.7h.8v.8h-.8zM60.8 205.0h.8v.8h-.8zM60.2 201.9h.8v.8h-.8zM54.2 207.0h.8v.8h-.8zM54.9 207.8h.8v.8h-.8zM56.2 207.6h.8v.8h-.8zM59.3 207.6h.8v.8h-.8zM55.5 210.6h.8v.8h-.8zM52.7 204.2h.8v.8h-.8zM53.0 212.4h.8v.8h-.8zM58.4 200.9h.8v.8h-.8zM63.7 208.7h.8v.8h-.8zM52.2 210.1h.8v.8h-.8zM47.1 204.8h.8v.8h-.8zM57.3 201.2h.8v.8h-.8zM54.1 211.2h.8v.8h-.8zM54.9 205.4h.8v.8h-.8zM58.8 211.9h.8v.8h-.8zM54.6 211.8h.8v.8h-.8zM49.6 208.4h.8v.8h-.8zM47.4 208.4h.8v.8h-.8zM54.2 212.8h.8v.8h-.8zM50.2 210.1h.8v.8h-.8zM55.4 204.2h.8v.8h-.8zM49.8 209.1h.8v.8h-.8zM53.1 210.9h.8v.8h-.8zM49.1 209.3h.8v.8h-.8zM53.1 209.2h.8v.8h-.8zM52.8 207.7h.8v.8h-.8zM56.5 207.8h.8v.8h-.8zM59.2 204.2h.8v.8h-.8zM53.7 202.0h.8v.8h-.8zM51.3 213.4h.8v.8h-.8zM61.4 205.5h.8v.8h-.8zM55.7 209.4h.8v.8h-.8zM56.6 201.6h.8v.8h-.8zM56.6 209.1h.8v.8h-.8zM59.6 204.7h.8v.8h-.8zM58.0 221.7h.8v.8h-.8zM56.8 203.8h.8v.8h-.8zM57.2 204.1h.8v.8h-.8zM51.3 212.6h.8v.8h-.8zM52.2 213.5h.8v.8h-.8zM54.0 198.9h.8v.8h-.8zM54.7 209.5h.8v.8h-.8zM54.5 212.3h.8v.8h-.8zM55.5 202.9h.8v.8h-.8zM54.5 211.4h.8v.8h-.8zM52.9 206.0h.8v.8h-.8zM48.6 203.9h.8v.8h-.8zM57.4 206.8h.8v.8h-.8zM56.5 206.3h.8v.8h-.8zM51.3 202.2h.8v.8h-.8zM56.2 218.4h.8v.8h-.8zM55.8 206.3h.8v.8h-.8zM54.7 205.0h.8v.8h-.8zM47.8 212.2h.8v.8h-.8zM50.1 208.0h.8v.8h-.8zM52.2 214.3h.8v.8h-.8zM60.2 207.2h.8v.8h-.8zM51.3 209.9h.8v.8h-.8zM53.2 208.8h.8v.8h-.8zM50.4 209.1h.8v.8h-.8zM52.6 207.4h.8v.8h-.8zM55.6 207.9h.8v.8h-.8zM47.0 215.9h.8v.8h-.8zM44.2 205.3h.8v.8h-.8zM56.8 205.9h.8v.8h-.8zM54.5 206.8h.8v.8h-.8zM52.2 210.9h.8v.8h-.8zM57.9 210.2h.8v.8h-.8zM57.9 212.5h.8v.8h-.8zM46.9 202.4h.8v.8h-.8zM53.8 209.5h.8v.8h-.8zM58.4 207.6h.8v.8h-.8zM52.0 207.1h.8v.8h-.8zM53.3 209.1h.8v.8h-.8zM57.8 199.6h.8v.8h-.8zM53.4 209.6h.8v.8h-.8zM50.1 209.0h.8v.8h-.8zM51.9 202.0h.8v.8h-.8zM49.6 207.9h.8v.8h-.8zM56.4 215.3h.8v.8h-.8zM48.2 206.6h.8v.8h-.8zM58.0 211.0h.8v.8h-.8zM48.5 207.4h.8v.8h-.8zM54.6 204.7h.8v.8h-.8zM49.1 204.3h.8v.8h-.8zM53.3 206.6h.8v.8h-.8zM58.1 214.2h.8v.8h-.8zM58.4 212.0h.8v.8h-.8zM59.1 205.2h.8v.8h-.8zM54.1 212.8h.8v.8h-.8zM54.8 207.8h.8v.8h-.8zM55.2 205.3h.8v.8h-.8zM56.6 210.3h.8v.8h-.8zM53.0 204.3h.8v.8h-.8zM58.4 201.4h.8v.8h-.8zM55.6 214.1h.8v.8h-.8zM58.5 200.2h.8v.8h-.8zM56.1 210.8h.8v.8h-.8zM56.8 201.6h.8v.8h-.8zM51.8 208.2h.8v.8h-.8zM52.9 207.5h.8v.8h-.8zM49.8 206.4h.8v.8h-.8zM53.3 198.6h.8v.8h-.8zM53.8 207.9h.8v.8h-.8zM57.4 208.2h.8v.8h-.8zM49.9 204.4h.8v.8h-.8zM66.0 208.1h.8v.8h-.8zM54.0 212.8h.8v.8h-.8zM58.9 205.2h.8v.8h-.8zM58.1 209.5h.8v.8h-.8zM45.3 203.3h.8v.8h-.8zM53.5 210.1h.8v.8h-.8zM59.7 211.2h.8v.8h-.8zM45.7 219.4h.8v.8h-.8zM57.2 212.4h.8v.8h-.8zM51.1 210.3h.8v.8h-.8zM52.7 214.6h.8v.8h-.8zM55.2 204.0h.8v.8h-.8zM47.7 213.1h.8v.8h-.8zM55.1 206.0h.8v.8h-.8zM52.1 205.6h.8v.8h-.8zM51.7 213.3h.8v.8h-.8zM56.9 209.4h.8v.8h-.8zM67.0 214.3h.8v.8h-.8zM55.6 202.0h.8v.8h-.8zM56.4 209.6h.8v.8h-.8zM54.2 206.1h.8v.8h-.8zM51.8 207.2h.8v.8h-.8zM55.3 199.9h.8v.8h-.8zM59.9 212.6h.8v.8h-.8zM55.1 209.3h.8v.8h-.8zM57.6 204.0h.8v.8h-.8zM53.6 202.4h.8v.8h-.8zM63.5 204.5h.8v.8h-.8zM48.5 214.6h.8v.8h-.8zM56.5 208.0h.8v.8h-.8zM56.3 206.9h.8v.8h-.8zM55.4 210.6h.8v.8h-.8zM50.4 208.5h.8v.8h-.8zM50.3 209.4h.8v.8h-.8zM53.5 211.7h.8v.8h-.8zM54.7 209.9h.8v.8h-.8zM50.0 212.3h.8v.8h-.8zM50.5 203.1h.8v.8h-.8zM56.4 208.7h.8v.8h-.8zM58.1 206.9h.8v.8h-.8zM52.4 208.9h.8v.8h-.8zM51.9 208.3h.8v.8h-.8zM51.8 205.6h.8v.8h-.8zM63.3 206.9h.8v.8h-.8zM56.1 212.6h.8v.8h-.8zM54.1 206.0h.8v.8h-.8zM58.0 202.9h.8v.8h-.8zM62.6 211.1h.8v.8h-.8zM58.6 212.7h.8v.8h-.8zM49.2 207.3h.8v.8h-.8zM54.1 209.0h.8v.8h-.8zM52.9 204.8h.8v.8h-.8zM53.1 207.6h.8v.8h-.8zM50.0 213.4h.8v.8h-.8zM53.0 212.0h.8v.8h-.8zM50.5 209.1h.8v.8h-.8zM55.6 207.3h.8v.8h-.8zM54.5 201.3h.8v.8h-.8zM49.3 209.9h.8v.8h-.8zM48.2 210.5h.8v.8h-.8zM52.6 213.1h.8v.8h-.8zM56.7 217.4h.8v.8h-.8zM56.1 210.1h.8v.8h-.8zM54.1 212.7h.8v.8h-.8zM42.4 203.6h.8v.8h-.8zM52.6 213.8h.8v.8h-.8zM51.7 212.3h.8v.8h-.8zM53.1 214.5h.8v.8h-.8zM50.0 211.5h.8v.8h-.8zM52.8 210.5h.8v.8h-.8zM52.0 215.0h.8v.8h-.8zM64.2 205.6h.8v.8h-.8zM56.9 211.3h.8v.8h-.8zM53.7 213.3h.8v.8h-.8zM54.2 205.1h.8v.8h-.8zM53.9 203.4h.8v.8h-.8zM55.0 210.4h.8v.8h-.8zM52.9 209.1h.8v.8h-.8zM54.3 211.2h.8v.8h-.8zM58.1 211.4h.8v.8h-.8zM57.4 205.2h.8v.8h-.8zM55.5 210.0h.8v.8h-.8zM59.2 213.5h.8v.8h-.8zM55.2 207.0h.8v.8h-.8zM50.8 207.3h.8v.8h-.8zM48.0 203.6h.8v.8h-.8zM51.8 212.1h.8v.8h-.8zM54.1 217.1h.8v.8h-.8zM55.8 202.5h.8v.8h-.8zM58.2 211.9h.8v.8h-.8zM52.3 212.5h.8v.8h-.8zM51.4 206.1h.8v.8h-.8zM57.1 206.9h.8v.8h-.8zM58.6 204.0h.8v.8h-.8zM52.6 205.1h.8v.8h-.8zM55.6 209.3h.8v.8h-.8zM59.3 211.4h.8v.8h-.8zM55.5 209.1h.8v.8h-.8zM54.2 212.3h.8v.8h-.8zM46.9 209.5h.8v.8h-.8zM59.1 203.4h.8v.8h-.8zM56.7 214.9h.8v.8h-.8zM54.8 213.8h.8v.8h-.8zM52.7 205.5h.8v.8h-.8zM49.9 216.4h.8v.8h-.8zM54.0 210.6h.8v.8h-.8zM54.0 209.2h.8v.8h-.8zM58.3 217.0h.8v.8h-.8zM50.0 197.6h.8v.8h-.8zM59.6 201.5h.8v.8h-.8zM54.5 211.7h.8v.8h-.8zM58.6 207.5h.8v.8h-.8zM50.9 204.4h.8v.8h-.8zM55.6 215.2h.8v.8h-.8zM58.8 210.7h.8v.8h-.8zM54.8 203.0h.8v.8h-.8zM49.0 205.7h.8v.8h-.8zM53.2 212.3h.8v.8h-.8zM56.3 216.4h.8v.8h-.8zM49.3 199.8h.8v.8h-.8zM49.1 209.7h.8v.8h-.8zM55.2 206.9h.8v.8h-.8zM50.9 200.9h.8v.8h-.8zM56.8 207.9h.8v.8h-.8zM50.1 201.6h.8v.8h-.8zM47.7 206.3h.8v.8h-.8zM51.6 215.7h.8v.8h-.8zM59.7 210.9h.8v.8h-.8zM51.2 212.1h.8v.8h-.8zM54.3 211.3h.8v.8h-.8zM55.2 210.2h.8v.8h-.8zM50.9 212.9h.8v.8h-.8zM58.3 203.5h.8v.8h-.8zM55.0 207.1h.8v.8h-.8zM56.0 212.4h.8v.8h-.8zM48.3 205.4h.8v.8h-.8zM48.0 206.7h.8v.8h-.8zM44.4 213.9h.8v.8h-.8zM53.7 215.4h.8v.8h-.8zM53.5 206.0h.8v.8h-.8zM57.0 205.1h.8v.8h-.8zM59.7 211.2h.8v.8h-.8zM53.4 209.8h.8v.8h-.8zM53.4 205.7h.8v.8h-.8zM56.0 211.3h.8v.8h-.8zM59.9 211.1h.8v.8h-.8zM51.4 209.0h.8v.8h-.8zM56.6 221.6h.8v.8h-.8zM53.5 214.6h.8v.8h-.8zM53.2 212.2h.8v.8h-.8zM57.3 213.2h.8v.8h-.8zM51.5 221.7h.8v.8h-.8zM50.5 213.5h.8v.8h-.8zM56.8 205.5h.8v.8h-.8zM54.3 210.1h.8v.8h-.8zM53.4 209.0h.8v.8h-.8zM53.9 206.2h.8v.8h-.8zM56.2 209.8h.8v.8h-.8zM53.0 209.8h.8v.8h-.8zM57.1 208.4h.8v.8h-.8zM55.9 206.5h.8v.8h-.8zM59.7 212.3h.8v.8h-.8zM58.9 201.7h.8v.8h-.8zM57.5 212.3h.8v.8h-.8zM53.6 208.7h.8v.8h-.8zM54.8 209.9h.8v.8h-.8zM52.2 198.2h.8v.8h-.8zM64.6 216.1h.8v.8h-.8zM53.6 201.1h.8v.8h-.8zM56.4 204.9h.8v.8h-.8zM59.3 211.5h.8v.8h-.8zM49.5 206.0h.8v.8h-.8zM51.4 206.9h.8v.8h-.8zM53.0 198.9h.8v.8h-.8zM50.8 206.8h.8v.8h-.8zM49.8 209.6h.8v.8h-.8zM52.5 211.7h.8v.8h-.8zM59.0 207.4h.8v.8h-.8zM47.6 205.8h.8v.8h-.8zM49.7 202.1h.8v.8h-.8zM38.8 220.0h.8v.8h-.8zM38.1 215.9h.8v.8h-.8zM64.6 208.4h.8v.8h-.8zM37.1 205.7h.8v.8h-.8zM57.5 209.3h.8v.8h-.8zM46.1 208.0h.8v.8h-.8zM59.9 214.7h.8v.8h-.8zM39.2 201.7h.8v.8h-.8zM50.5 207.7h.8v.8h-.8zM48.7 202.8h.8v.8h-.8zM43.2 215.4h.8v.8h-.8zM48.5 218.4h.8v.8h-.8zM37.9 207.0h.8v.8h-.8zM44.7 210.8h.8v.8h-.8zM41.5 216.0h.8v.8h-.8zM52.9 205.7h.8v.8h-.8zM44.6 201.9h.8v.8h-.8zM31.8 213.8h.8v.8h-.8zM41.8 210.6h.8v.8h-.8zM44.5 206.3h.8v.8h-.8zM36.6 216.3h.8v.8h-.8zM58.5 209.0h.8v.8h-.8zM49.4 196.9h.8v.8h-.8zM53.7 209.6h.8v.8h-.8zM38.0 207.2h.8v.8h-.8zM41.5 218.8h.8v.8h-.8zM55.3 207.4h.8v.8h-.8zM31.4 206.3h.8v.8h-.8zM49.1 210.2h.8v.8h-.8zM46.3 209.0h.8v.8h-.8zM40.5 199.1h.8v.8h-.8zM46.3 208.3h.8v.8h-.8zM34.9 205.6h.8v.8h-.8zM47.7 216.0h.8v.8h-.8zM33.5 222.0h.8v.8h-.8zM32.9 200.8h.8v.8h-.8zM59.2 201.8h.8v.8h-.8zM38.6 202.5h.8v.8h-.8zM24.7 203.6h.8v.8h-.8zM55.0 203.4h.8v.8h-.8zM37.9 207.9h.8v.8h-.8zM44.9 199.7h.8v.8h-.8zM54.6 198.3h.8v.8h-.8zM48.9 196.5h.8v.8h-.8zM62.3 214.2h.8v.8h-.8zM44.2 215.5h.8v.8h-.8zM51.3 198.3h.8v.8h-.8zM35.6 197.8h.8v.8h-.8zM47.1 208.3h.8v.8h-.8zM60.5 214.1h.8v.8h-.8zM50.4 213.6h.8v.8h-.8zM47.1 208.7h.8v.8h-.8zM26.0 211.7h.8v.8h-.8zM41.8 209.5h.8v.8h-.8zM32.8 204.2h.8v.8h-.8zM53.1 219.0h.8v.8h-.8zM38.2 207.6h.8v.8h-.8zM49.0 200.9h.8v.8h-.8zM35.6 204.8h.8v.8h-.8zM64.0 198.3h.8v.8h-.8zM33.9 207.7h.8v.8h-.8zM46.8 214.1h.8v.8h-.8zM47.6 214.3h.8v.8h-.8zM36.9 220.1h.8v.8h-.8zM51.5 209.8h.8v.8h-.8zM55.2 200.6h.8v.8h-.8zM54.0 202.4h.8v.8h-.8zM26.1 205.6h.8v.8h-.8zM47.6 199.9h.8v.8h-.8zM24.5 200.1h.8v.8h-.8zM64.2 206.0h.8v.8h-.8zM46.2 206.5h.8v.8h-.8zM40.9 211.2h.8v.8h-.8zM52.1 200.4h.8v.8h-.8zM50.3 218.8h.8v.8h-.8zM33.8 213.9h.8v.8h-.8zM61.5 212.9h.8v.8h-.8zM43.1 203.7h.8v.8h-.8zM28.1 218.0h.8v.8h-.8zM59.3 205.5h.8v.8h-.8zM60.6 218.5h.8v.8h-.8zM57.9 214.0h.8v.8h-.8zM50.9 202.2h.8v.8h-.8zM36.7 204.8h.8v.8h-.8zM54.7 218.8h.8v.8h-.8zM63.8 213.6h.8v.8h-.8zM53.5 206.6h.8v.8h-.8zM61.3 208.8h.8v.8h-.8zM37.8 208.8h.8v.8h-.8zM55.6 202.9h.8v.8h-.8zM54.8 206.4h.8v.8h-.8zM30.8 203.6h.8v.8h-.8zM29.4 205.0h.8v.8h-.8zM38.4 210.4h.8v.8h-.8zM46.3 201.8h.8v.8h-.8zM50.0 211.9h.8v.8h-.8zM43.3 208.2h.8v.8h-.8zM44.9 212.2h.8v.8h-.8zM44.4 212.9h.8v.8h-.8zM46.4 215.1h.8v.8h-.8zM51.3 211.3h.8v.8h-.8zM50.4 211.8h.8v.8h-.8zM45.0 206.5h.8v.8h-.8zM48.1 211.0h.8v.8h-.8zM41.1 202.2h.8v.8h-.8zM53.4 206.1h.8v.8h-.8zM40.5 212.1h.8v.8h-.8zM61.8 207.3h.8v.8h-.8zM45.3 210.3h.8v.8h-.8zM48.2 201.2h.8v.8h-.8zM38.0 215.8h.8v.8h-.8zM42.1 204.1h.8v.8h-.8zM47.2 209.9h.8v.8h-.8zM45.7 207.4h.8v.8h-.8zM39.4 213.2h.8v.8h-.8zM34.0 205.3h.8v.8h-.8zM45.9 201.6h.8v.8h-.8zM47.1 196.2h.8v.8h-.8zM51.0 205.7h.8v.8h-.8zM57.9 200.4h.8v.8h-.8zM42.4 210.8h.8v.8h-.8zM25.7 216.2h.8v.8h-.8zM44.1 194.2h.8v.8h-.8zM27.2 199.8h.8v.8h-.8zM32.8 209.4h.8v.8h-.8zM55.8 215.0h.8v.8h-.8zM51.2 209.4h.8v.8h-.8zM39.1 209.5h.8v.8h-.8zM39.2 210.6h.8v.8h-.8zM44.7 211.0h.8v.8h-.8zM28.1 217.5h.8v.8h-.8zM50.3 211.3h.8v.8h-.8zM42.1 200.1h.8v.8h-.8zM63.8 204.7h.8v.8h-.8zM35.0 208.8h.8v.8h-.8zM55.5 202.7h.8v.8h-.8zM38.8 206.0h.8v.8h-.8zM55.7 204.4h.8v.8h-.8zM35.8 203.3h.8v.8h-.8zM52.9 211.7h.8v.8h-.8zM41.2 205.2h.8v.8h-.8zM37.3 201.0h.8v.8h-.8zM44.1 203.3h.8v.8h-.8zM50.3 207.8h.8v.8h-.8zM49.6 220.3h.8v.8h-.8zM61.3 209.1h.8v.8h-.8zM53.7 216.5h.8v.8h-.8zM19.3 210.5h.8v.8h-.8zM41.6 194.6h.8v.8h-.8zM25.7 209.9h.8v.8h-.8zM41.7 202.4h.8v.8h-.8zM51.8 199.4h.8v.8h-.8zM32.2 201.1h.8v.8h-.8zM33.8 218.4h.8v.8h-.8zM47.0 198.0h.8v.8h-.8zM42.7 203.8h.8v.8h-.8zM61.3 214.6h.8v.8h-.8zM48.8 211.6h.8v.8h-.8zM50.9 197.2h.8v.8h-.8zM63.0 206.9h.8v.8h-.8zM40.6 204.4h.8v.8h-.8zM45.6 206.4h.8v.8h-.8zM35.7 212.1h.8v.8h-.8zM48.1 204.1h.8v.8h-.8zM55.9 205.6h.8v.8h-.8zM59.2 216.4h.8v.8h-.8zM45.2 196.4h.8v.8h-.8zM38.5 205.3h.8v.8h-.8zM37.9 210.4h.8v.8h-.8zM31.7 200.0h.8v.8h-.8zM46.8 203.7h.8v.8h-.8zM59.1 199.6h.8v.8h-.8zM21.9 208.5h.8v.8h-.8zM23.9 203.8h.8v.8h-.8zM59.6 212.3h.8v.8h-.8zM29.5 213.7h.8v.8h-.8zM48.9 207.8h.8v.8h-.8zM33.0 205.3h.8v.8h-.8zM53.4 209.1h.8v.8h-.8zM53.4 207.9h.8v.8h-.8zM47.3 200.2h.8v.8h-.8zM53.8 214.0h.8v.8h-.8zM46.1 208.9h.8v.8h-.8zM51.2 212.3h.8v.8h-.8zM63.8 199.3h.8v.8h-.8zM56.6 212.8h.8v.8h-.8zM39.1 220.3h.8v.8h-.8zM37.6 211.3h.8v.8h-.8zM43.3 198.8h.8v.8h-.8zM43.4 207.8h.8v.8h-.8zM46.4 207.2h.8v.8h-.8zM39.6 208.9h.8v.8h-.8zM52.2 206.1h.8v.8h-.8zM46.0 210.5h.8v.8h-.8zM49.3 204.7h.8v.8h-.8zM45.7 208.9h.8v.8h-.8zM51.8 203.4h.8v.8h-.8zM33.7 208.1h.8v.8h-.8zM61.5 213.6h.8v.8h-.8zM49.1 204.6h.8v.8h-.8zM50.2 211.6h.8v.8h-.8zM51.8 202.2h.8v.8h-.8zM56.5 205.3h.8v.8h-.8zM53.1 206.1h.8v.8h-.8zM48.1 215.1h.8v.8h-.8zM43.9 202.9h.8v.8h-.8zM29.3 214.9h.8v.8h-.8zM47.9 198.7h.8v.8h-.8zM42.6 206.6h.8v.8h-.8zM42.6 213.0h.8v.8h-.8zM69.8 211.7h.8v.8h-.8zM27.1 201.4h.8v.8h-.8zM46.3 200.1h.8v.8h-.8zM57.9 212.8h.8v.8h-.8zM55.3 199.9h.8v.8h-.8zM58.1 211.0h.8v.8h-.8zM33.1 204.4h.8v.8h-.8zM36.1 207.4h.8v.8h-.8zM51.9 221.5h.8v.8h-.8zM42.8 216.9h.8v.8h-.8zM62.9 212.6h.8v.8h-.8zM48.1 199.2h.8v.8h-.8zM47.7 209.4h.8v.8h-.8zM50.2 207.8h.8v.8h-.8zM43.1 206.9h.8v.8h-.8zM47.0 215.6h.8v.8h-.8zM39.1 197.1h.8v.8h-.8zM45.4 209.4h.8v.8h-.8zM41.0 208.3h.8v.8h-.8zM48.4 202.9h.8v.8h-.8zM31.7 218.0h.8v.8h-.8zM30.9 199.8h.8v.8h-.8zM50.4 207.7h.8v.8h-.8zM48.1 208.0h.8v.8h-.8zM36.2 194.2h.8v.8h-.8zM43.6 198.8h.8v.8h-.8zM35.4 201.6h.8v.8h-.8zM66.2 212.3h.8v.8h-.8zM30.2 213.2h.8v.8h-.8zM63.0 211.1h.8v.8h-.8zM37.6 208.9h.8v.8h-.8zM50.1 194.1h.8v.8h-.8zM43.2 208.8h.8v.8h-.8zM42.1 204.4h.8v.8h-.8zM55.2 214.6h.8v.8h-.8zM54.0 215.7h.8v.8h-.8zM59.2 203.9h.8v.8h-.8zM60.2 201.2h.8v.8h-.8zM43.3 198.9h.8v.8h-.8zM53.4 191.4h.8v.8h-.8zM41.5 189.5h.8v.8h-.8zM60.9 205.7h.8v.8h-.8zM41.8 196.0h.8v.8h-.8zM50.8 189.4h.8v.8h-.8zM45.2 197.1h.8v.8h-.8zM48.4 200.2h.8v.8h-.8zM56.9 201.3h.8v.8h-.8zM47.6 194.9h.8v.8h-.8zM54.7 192.2h.8v.8h-.8zM43.6 196.0h.8v.8h-.8zM65.4 210.1h.8v.8h-.8zM46.8 195.0h.8v.8h-.8zM61.9 192.8h.8v.8h-.8zM30.5 181.6h.8v.8h-.8zM43.6 194.8h.8v.8h-.8zM50.8 192.8h.8v.8h-.8zM63.4 204.5h.8v.8h-.8zM48.3 195.0h.8v.8h-.8zM56.1 203.5h.8v.8h-.8zM46.0 209.8h.8v.8h-.8zM57.8 195.0h.8v.8h-.8zM41.6 186.9h.8v.8h-.8zM60.3 200.3h.8v.8h-.8zM35.4 192.3h.8v.8h-.8zM69.3 195.0h.8v.8h-.8zM54.2 199.6h.8v.8h-.8zM44.5 193.9h.8v.8h-.8zM62.3 195.9h.8v.8h-.8zM63.0 200.0h.8v.8h-.8zM48.8 202.6h.8v.8h-.8zM58.3 192.6h.8v.8h-.8zM57.3 190.8h.8v.8h-.8zM37.5 199.8h.8v.8h-.8zM58.1 192.3h.8v.8h-.8zM51.0 195.6h.8v.8h-.8zM64.4 201.3h.8v.8h-.8zM64.6 203.2h.8v.8h-.8zM46.8 194.0h.8v.8h-.8zM47.1 186.3h.8v.8h-.8zM54.4 202.7h.8v.8h-.8zM58.6 193.7h.8v.8h-.8zM48.9 190.8h.8v.8h-.8zM51.6 209.0h.8v.8h-.8zM58.2 202.7h.8v.8h-.8zM56.5 188.8h.8v.8h-.8zM63.3 194.4h.8v.8h-.8zM54.8 194.1h.8v.8h-.8zM44.5 188.2h.8v.8h-.8zM60.1 202.6h.8v.8h-.8zM49.6 200.0h.8v.8h-.8zM49.4 196.2h.8v.8h-.8zM50.0 191.9h.8v.8h-.8zM38.2 193.4h.8v.8h-.8zM49.0 198.9h.8v.8h-.8zM48.9 192.1h.8v.8h-.8zM44.4 189.5h.8v.8h-.8zM69.5 204.1h.8v.8h-.8zM56.7 198.0h.8v.8h-.8zM50.6 185.8h.8v.8h-.8zM54.1 191.3h.8v.8h-.8zM59.3 209.1h.8v.8h-.8zM45.6 186.9h.8v.8h-.8zM50.5 195.8h.8v.8h-.8zM49.3 190.1h.8v.8h-.8zM53.3 195.0h.8v.8h-.8zM59.9 188.8h.8v.8h-.8zM43.8 198.9h.8v.8h-.8zM52.0 186.0h.8v.8h-.8zM61.8 208.2h.8v.8h-.8zM47.4 192.3h.8v.8h-.8zM50.1 187.4h.8v.8h-.8zM41.2 193.5h.8v.8h-.8zM42.8 188.7h.8v.8h-.8zM63.2 193.3h.8v.8h-.8zM42.0 192.1h.8v.8h-.8zM56.0 192.6h.8v.8h-.8zM55.6 184.1h.8v.8h-.8zM46.6 197.4h.8v.8h-.8zM53.0 191.7h.8v.8h-.8zM51.7 203.3h.8v.8h-.8zM48.0 197.9h.8v.8h-.8zM53.0 199.6h.8v.8h-.8zM53.0 196.6h.8v.8h-.8zM43.1 202.0h.8v.8h-.8zM40.6 190.1h.8v.8h-.8zM44.7 186.5h.8v.8h-.8zM53.7 197.9h.8v.8h-.8zM66.2 195.8h.8v.8h-.8zM55.5 197.4h.8v.8h-.8zM61.3 194.4h.8v.8h-.8zM53.7 204.1h.8v.8h-.8zM62.8 202.4h.8v.8h-.8zM53.7 196.3h.8v.8h-.8zM56.2 193.3h.8v.8h-.8zM49.9 202.1h.8v.8h-.8zM52.5 190.5h.8v.8h-.8zM41.4 197.7h.8v.8h-.8zM52.6 199.3h.8v.8h-.8zM47.0 207.9h.8v.8h-.8zM61.4 195.8h.8v.8h-.8zM69.4 186.1h.8v.8h-.8zM49.6 199.1h.8v.8h-.8zM26.8 197.8h.8v.8h-.8zM58.2 195.4h.8v.8h-.8zM58.2 207.3h.8v.8h-.8zM36.9 203.8h.8v.8h-.8zM50.3 190.1h.8v.8h-.8zM51.9 191.7h.8v.8h-.8zM31.0 181.5h.8v.8h-.8zM58.8 200.4h.8v.8h-.8zM56.6 201.1h.8v.8h-.8zM54.7 199.9h.8v.8h-.8zM42.6 184.4h.8v.8h-.8zM45.9 188.3h.8v.8h-.8zM46.6 183.9h.8v.8h-.8zM57.0 185.1h.8v.8h-.8zM43.3 183.7h.8v.8h-.8zM66.1 187.4h.8v.8h-.8zM56.0 194.7h.8v.8h-.8zM32.2 193.3h.8v.8h-.8zM68.2 203.1h.8v.8h-.8zM54.0 195.3h.8v.8h-.8zM47.3 189.3h.8v.8h-.8zM53.4 195.3h.8v.8h-.8zM35.4 195.1h.8v.8h-.8zM54.2 193.5h.8v.8h-.8zM29.5 190.1h.8v.8h-.8zM42.9 190.8h.8v.8h-.8zM65.1 194.5h.8v.8h-.8zM64.2 198.1h.8v.8h-.8zM49.3 186.7h.8v.8h-.8zM43.4 200.3h.8v.8h-.8zM61.2 186.4h.8v.8h-.8zM52.0 198.2h.8v.8h-.8zM54.4 186.2h.8v.8h-.8zM58.3 206.9h.8v.8h-.8zM42.4 198.7h.8v.8h-.8zM59.9 191.3h.8v.8h-.8zM66.1 190.5h.8v.8h-.8zM37.7 191.3h.8v.8h-.8zM46.5 196.6h.8v.8h-.8zM46.2 211.2h.8v.8h-.8zM59.2 187.3h.8v.8h-.8zM59.4 205.3h.8v.8h-.8zM55.8 191.9h.8v.8h-.8zM57.5 198.2h.8v.8h-.8zM56.8 202.2h.8v.8h-.8zM51.7 198.7h.8v.8h-.8zM34.5 193.8h.8v.8h-.8zM30.8 190.0h.8v.8h-.8zM51.9 196.0h.8v.8h-.8zM50.2 202.8h.8v.8h-.8zM51.1 184.7h.8v.8h-.8zM54.5 192.2h.8v.8h-.8zM50.2 186.0h.8v.8h-.8zM43.0 186.3h.8v.8h-.8zM34.6 198.5h.8v.8h-.8zM63.8 212.5h.8v.8h-.8zM60.9 206.4h.8v.8h-.8zM39.6 184.0h.8v.8h-.8zM49.8 195.0h.8v.8h-.8zM56.5 188.2h.8v.8h-.8zM67.3 201.6h.8v.8h-.8zM46.7 202.5h.8v.8h-.8zM54.0 199.5h.8v.8h-.8zM63.2 203.6h.8v.8h-.8zM36.0 190.3h.8v.8h-.8zM45.4 179.9h.8v.8h-.8zM51.9 181.4h.8v.8h-.8zM45.5 192.8h.8v.8h-.8zM60.5 205.7h.8v.8h-.8zM54.2 193.1h.8v.8h-.8zM43.3 193.5h.8v.8h-.8zM60.4 198.7h.8v.8h-.8zM58.2 203.8h.8v.8h-.8zM47.5 193.5h.8v.8h-.8zM48.2 186.6h.8v.8h-.8zM38.5 199.3h.8v.8h-.8zM51.6 197.7h.8v.8h-.8zM46.3 225.6h.8v.8h-.8zM27.6 223.3h.8v.8h-.8zM41.9 224.8h.8v.8h-.8zM22.6 226.6h.8v.8h-.8zM19.3 231.7h.8v.8h-.8zM39.3 225.7h.8v.8h-.8zM37.1 234.3h.8v.8h-.8zM48.4 220.6h.8v.8h-.8zM58.3 227.7h.8v.8h-.8zM41.6 234.0h.8v.8h-.8zM62.2 231.6h.8v.8h-.8zM35.4 226.7h.8v.8h-.8zM50.6 220.5h.8v.8h-.8zM27.7 221.4h.8v.8h-.8zM43.4 224.2h.8v.8h-.8zM38.4 226.6h.8v.8h-.8zM39.6 223.7h.8v.8h-.8zM48.6 217.6h.8v.8h-.8zM20.7 221.2h.8v.8h-.8zM43.3 227.6h.8v.8h-.8zM32.8 229.3h.8v.8h-.8zM43.3 217.8h.8v.8h-.8zM46.4 223.1h.8v.8h-.8zM37.8 216.4h.8v.8h-.8zM37.8 222.1h.8v.8h-.8zM48.2 225.3h.8v.8h-.8zM34.4 223.2h.8v.8h-.8zM47.0 222.0h.8v.8h-.8zM25.9 218.8h.8v.8h-.8zM57.4 215.5h.8v.8h-.8zM30.5 224.8h.8v.8h-.8zM55.1 223.6h.8v.8h-.8zM36.9 232.6h.8v.8h-.8zM48.2 216.6h.8v.8h-.8zM40.4 227.2h.8v.8h-.8zM49.7 231.9h.8v.8h-.8zM42.0 215.0h.8v.8h-.8zM56.3 228.4h.8v.8h-.8zM49.6 216.8h.8v.8h-.8zM49.7 227.7h.8v.8h-.8zM60.8 232.5h.8v.8h-.8zM34.1 225.0h.8v.8h-.8zM56.7 226.5h.8v.8h-.8zM42.8 221.5h.8v.8h-.8zM25.3 226.5h.8v.8h-.8zM47.4 230.8h.8v.8h-.8zM39.7 224.1h.8v.8h-.8zM61.0 224.3h.8v.8h-.8zM36.5 227.0h.8v.8h-.8zM42.6 229.2h.8v.8h-.8zM44.6 216.6h.8v.8h-.8zM20.5 225.3h.8v.8h-.8zM47.7 221.5h.8v.8h-.8zM30.8 227.5h.8v.8h-.8zM57.9 230.3h.8v.8h-.8zM60.8 226.6h.8v.8h-.8zM41.9 231.6h.8v.8h-.8zM24.1 219.9h.8v.8h-.8zM44.0 222.9h.8v.8h-.8zM44.0 219.9h.8v.8h-.8zM50.1 225.3h.8v.8h-.8zM38.7 225.5h.8v.8h-.8zM28.6 224.0h.8v.8h-.8zM40.4 218.8h.8v.8h-.8zM31.6 224.6h.8v.8h-.8zM62.0 222.8h.8v.8h-.8zM34.0 228.1h.8v.8h-.8zM34.6 223.6h.8v.8h-.8zM41.5 231.0h.8v.8h-.8zM28.0 226.2h.8v.8h-.8zM37.0 215.5h.8v.8h-.8zM40.5 224.1h.8v.8h-.8zM36.5 217.7h.8v.8h-.8zM39.2 230.0h.8v.8h-.8zM56.0 232.3h.8v.8h-.8zM46.9 224.9h.8v.8h-.8zM26.9 227.3h.8v.8h-.8zM37.2 217.6h.8v.8h-.8zM50.4 213.5h.8v.8h-.8zM34.7 222.2h.8v.8h-.8zM42.9 223.7h.8v.8h-.8zM41.7 217.3h.8v.8h-.8zM48.0 225.5h.8v.8h-.8zM40.0 226.6h.8v.8h-.8zM40.4 228.3h.8v.8h-.8zM32.3 232.9h.8v.8h-.8zM46.1 229.2h.8v.8h-.8zM31.5 223.1h.8v.8h-.8zM61.5 225.5h.8v.8h-.8zM41.8 228.1h.8v.8h-.8zM39.5 219.7h.8v.8h-.8zM50.9 231.8h.8v.8h-.8zM41.0 229.6h.8v.8h-.8zM43.0 223.9h.8v.8h-.8zM41.4 221.7h.8v.8h-.8zM31.6 229.3h.8v.8h-.8zM34.1 229.8h.8v.8h-.8zM54.8 234.2h.8v.8h-.8zM34.9 230.0h.8v.8h-.8zM37.4 226.1h.8v.8h-.8zM36.9 228.6h.8v.8h-.8zM49.9 220.3h.8v.8h-.8zM64.3 228.7h.8v.8h-.8zM31.6 217.1h.8v.8h-.8zM48.2 227.2h.8v.8h-.8zM43.3 227.9h.8v.8h-.8zM38.6 217.0h.8v.8h-.8zM47.7 234.9h.8v.8h-.8zM27.7 219.1h.8v.8h-.8zM51.4 230.4h.8v.8h-.8zM44.5 222.3h.8v.8h-.8zM30.8 226.6h.8v.8h-.8zM60.0 221.7h.8v.8h-.8zM55.1 230.3h.8v.8h-.8zM25.6 234.3h.8v.8h-.8zM38.9 229.1h.8v.8h-.8zM36.1 228.6h.8v.8h-.8zM49.1 225.8h.8v.8h-.8zM57.3 223.8h.8v.8h-.8zM20.5 228.2h.8v.8h-.8zM42.2 225.9h.8v.8h-.8zM40.6 224.3h.8v.8h-.8zM53.2 218.0h.8v.8h-.8zM41.5 223.5h.8v.8h-.8zM27.7 228.2h.8v.8h-.8zM39.8 222.7h.8v.8h-.8zM30.3 226.9h.8v.8h-.8zM33.2 224.4h.8v.8h-.8zM42.5 219.8h.8v.8h-.8zM36.6 220.5h.8v.8h-.8zM45.1 221.3h.8v.8h-.8zM24.9 223.6h.8v.8h-.8zM68.1 223.8h.8v.8h-.8zM56.2 230.8h.8v.8h-.8zM50.1 219.6h.8v.8h-.8zM27.4 214.6h.8v.8h-.8zM17.7 228.6h.8v.8h-.8zM32.3 222.8h.8v.8h-.8zM39.4 224.5h.8v.8h-.8zM56.7 232.6h.8v.8h-.8zM36.1 228.1h.8v.8h-.8zM55.6 230.0h.8v.8h-.8zM55.8 225.7h.8v.8h-.8zM42.2 230.0h.8v.8h-.8zM55.7 222.0h.8v.8h-.8zM45.7 221.5h.8v.8h-.8zM34.6 222.7h.8v.8h-.8zM28.8 233.2h.8v.8h-.8zM40.6 233.1h.8v.8h-.8zM53.2 222.0h.8v.8h-.8zM26.8 231.1h.8v.8h-.8zM23.9 224.3h.8v.8h-.8zM48.2 230.7h.8v.8h-.8zM62.5 230.1h.8v.8h-.8zM37.1 224.6h.8v.8h-.8zM50.2 223.7h.8v.8h-.8zM62.9 225.0h.8v.8h-.8zM25.7 226.0h.8v.8h-.8zM30.2 222.2h.8v.8h-.8zM67.2 218.1h.8v.8h-.8zM38.8 233.9h.8v.8h-.8zM40.6 223.1h.8v.8h-.8zM44.6 215.8h.8v.8h-.8zM53.9 213.5h.8v.8h-.8zM56.9 210.8h.8v.8h-.8zM60.6 184.7h.8v.8h-.8zM42.9 232.2h.8v.8h-.8zM65.9 191.3h.8v.8h-.8zM40.5 220.5h.8v.8h-.8zM40.7 231.9h.8v.8h-.8zM26.5 233.8h.8v.8h-.8zM49.6 213.8h.8v.8h-.8zM52.9 194.4h.8v.8h-.8zM39.8 191.8h.8v.8h-.8zM59.7 198.1h.8v.8h-.8zM23.4 229.1h.8v.8h-.8zM34.4 232.4h.8v.8h-.8zM39.9 215.8h.8v.8h-.8zM58.6 208.3h.8v.8h-.8zM67.2 224.6h.8v.8h-.8zM64.4 209.2h.8v.8h-.8zM23.5 209.4h.8v.8h-.8zM67.6 210.4h.8v.8h-.8zM39.1 186.0h.8v.8h-.8zM36.1 189.9h.8v.8h-.8zM40.5 205.2h.8v.8h-.8zM66.7 201.7h.8v.8h-.8zM63.9 182.0h.8v.8h-.8zM34.5 219.8h.8v.8h-.8zM40.0 184.1h.8v.8h-.8zM35.1 210.4h.8v.8h-.8zM67.9 192.9h.8v.8h-.8zM20.4 221.7h.8v.8h-.8zM49.2 199.1h.8v.8h-.8zM36.9 197.9h.8v.8h-.8zM51.8 227.7h.8v.8h-.8zM31.9 230.2h.8v.8h-.8zM38.4 207.0h.8v.8h-.8zM26.5 193.6h.8v.8h-.8zM39.5 207.1h.8v.8h-.8zM61.8 199.7h.8v.8h-.8zM57.5 193.8h.8v.8h-.8zM41.7 183.9h.8v.8h-.8zM64.4 199.3h.8v.8h-.8zM50.6 210.9h.8v.8h-.8zM42.2 193.0h.8v.8h-.8zM60.7 205.9h.8v.8h-.8zM43.1 211.1h.8v.8h-.8zM30.6 192.7h.8v.8h-.8zM61.0 217.7h.8v.8h-.8zM23.4 224.5h.8v.8h-.8z" fill="#000" fill-opacity="0.8"/>
<rect x="23.70" y="198.80" width="27.70" height="20.80" fill="none" stroke="#fff" stroke-opacity="0.8" stroke-width="0.9"/>
<rect x="22.80" y="197.90" width="29.50" height="22.60" fill="none" stroke="#3a3a3a" stroke-width="0.8"/>
<text class="h" x="18.50" y="188.20" font-size="6.8" font-weight="normal" text-anchor="start" fill="#111" textLength="19.00" lengthAdjust="spacingAndGlyphs">70.1%</text>
<rect x="83.40" y="179.10" width="55.80" height="56.30" fill="#fff" stroke="#a0a0a0" stroke-width="0.8"/>
<ellipse cx="113" cy="207" rx="18" ry="10" fill="#000" fill-opacity="0.18" filter="url(#bl2)"/>
<ellipse cx="106" cy="207.5" rx="10" ry="6.5" fill="#000" fill-opacity="0.65" filter="url(#bl2)"/>
<ellipse cx="120" cy="207" rx="8" ry="6" fill="#000" fill-opacity="0.5" filter="url(#bl2)"/>
<path d="M107.6 211.9h.8v.8h-.8zM116.2 214.0h.8v.8h-.8zM100.4 207.8h.8v.8h-.8zM96.3 202.7h.8v.8h-.8zM91.7 216.3h.8v.8h-.8zM102.4 211.1h.8v.8h-.8zM94.6 206.5h.8v.8h-.8zM103.2 209.6h.8v.8h-.8zM106.8 207.4h.8v.8h-.8zM101.5 200.8h.8v.8h-.8zM98.4 207.7h.8v.8h-.8zM111.6 202.1h.8v.8h-.8zM103.0 209.4h.8v.8h-.8zM105.7 208.0h.8v.8h-.8zM110.1 213.6h.8v.8h-.8zM96.2 208.0h.8v.8h-.8zM98.6 210.2h.8v.8h-.8zM119.7 207.2h.8v.8h-.8zM103.3 206.8h.8v.8h-.8zM97.8 202.2h.8v.8h-.8zM102.7 213.0h.8v.8h-.8zM100.7 209.3h.8v.8h-.8zM96.7 205.9h.8v.8h-.8zM101.7 209.4h.8v.8h-.8zM104.1 206.6h.8v.8h-.8zM104.2 205.2h.8v.8h-.8zM107.6 209.6h.8v.8h-.8zM93.5 214.0h.8v.8h-.8zM95.0 207.3h.8v.8h-.8zM109.1 202.1h.8v.8h-.8zM101.5 205.7h.8v.8h-.8zM111.8 216.6h.8v.8h-.8zM106.1 204.8h.8v.8h-.8zM95.5 213.8h.8v.8h-.8zM107.6 207.4h.8v.8h-.8zM98.0 211.8h.8v.8h-.8zM105.9 208.0h.8v.8h-.8zM111.8 201.4h.8v.8h-.8zM117.3 206.6h.8v.8h-.8zM103.8 218.0h.8v.8h-.8zM108.6 207.9h.8v.8h-.8zM106.1 211.0h.8v.8h-.8zM109.1 207.0h.8v.8h-.8zM88.5 207.9h.8v.8h-.8zM101.8 210.0h.8v.8h-.8zM106.0 210.6h.8v.8h-.8zM107.1 218.5h.8v.8h-.8zM99.6 208.4h.8v.8h-.8zM109.3 207.7h.8v.8h-.8zM111.1 205.5h.8v.8h-.8zM104.7 202.6h.8v.8h-.8zM102.8 201.3h.8v.8h-.8zM102.0 211.5h.8v.8h-.8zM105.1 200.1h.8v.8h-.8zM111.5 214.8h.8v.8h-.8zM113.5 212.4h.8v.8h-.8zM101.3 207.2h.8v.8h-.8zM98.5 203.3h.8v.8h-.8zM99.4 208.6h.8v.8h-.8zM110.3 208.6h.8v.8h-.8zM105.6 213.6h.8v.8h-.8zM106.1 205.2h.8v.8h-.8zM107.2 206.8h.8v.8h-.8zM106.6 208.3h.8v.8h-.8zM103.5 207.3h.8v.8h-.8zM97.8 205.7h.8v.8h-.8zM100.4 200.8h.8v.8h-.8zM105.0 201.1h.8v.8h-.8zM106.7 205.5h.8v.8h-.8zM102.0 207.5h.8v.8h-.8zM101.7 213.0h.8v.8h-.8zM112.7 218.9h.8v.8h-.8zM101.4 216.2h.8v.8h-.8zM105.6 210.3h.8v.8h-.8zM102.3 217.0h.8v.8h-.8zM99.0 208.0h.8v.8h-.8zM94.9 206.1h.8v.8h-.8zM100.9 218.9h.8v.8h-.8zM99.2 203.7h.8v.8h-.8zM109.5 206.7h.8v.8h-.8zM97.2 207.3h.8v.8h-.8zM101.7 215.1h.8v.8h-.8zM108.3 205.8h.8v.8h-.8zM103.6 212.0h.8v.8h-.8zM107.3 206.7h.8v.8h-.8zM109.4 203.0h.8v.8h-.8zM94.1 209.6h.8v.8h-.8zM101.7 209.3h.8v.8h-.8zM98.3 203.3h.8v.8h-.8zM112.5 204.6h.8v.8h-.8zM103.5 205.0h.8v.8h-.8zM107.3 212.9h.8v.8h-.8zM114.7 210.6h.8v.8h-.8zM102.1 209.6h.8v.8h-.8zM104.7 210.7h.8v.8h-.8zM106.8 206.4h.8v.8h-.8zM102.6 210.7h.8v.8h-.8zM111.9 205.8h.8v.8h-.8zM109.3 202.5h.8v.8h-.8zM110.4 205.4h.8v.8h-.8zM104.5 209.5h.8v.8h-.8zM102.1 208.9h.8v.8h-.8zM102.1 213.3h.8v.8h-.8zM102.0 200.9h.8v.8h-.8zM94.2 207.5h.8v.8h-.8zM106.5 210.3h.8v.8h-.8zM109.2 204.2h.8v.8h-.8zM104.2 209.6h.8v.8h-.8zM101.2 206.7h.8v.8h-.8zM104.5 203.4h.8v.8h-.8zM105.6 213.6h.8v.8h-.8zM106.2 202.3h.8v.8h-.8zM115.2 213.0h.8v.8h-.8zM99.0 206.7h.8v.8h-.8zM106.5 204.3h.8v.8h-.8zM108.5 204.6h.8v.8h-.8zM104.7 205.2h.8v.8h-.8zM102.8 204.7h.8v.8h-.8zM98.0 209.7h.8v.8h-.8zM100.6 200.1h.8v.8h-.8zM108.5 214.1h.8v.8h-.8zM113.1 212.3h.8v.8h-.8zM100.2 214.8h.8v.8h-.8zM107.1 204.1h.8v.8h-.8zM107.4 198.1h.8v.8h-.8zM110.4 205.7h.8v.8h-.8zM105.7 207.8h.8v.8h-.8zM106.9 209.9h.8v.8h-.8zM109.7 206.2h.8v.8h-.8zM97.1 208.2h.8v.8h-.8zM104.5 209.2h.8v.8h-.8zM93.5 201.6h.8v.8h-.8zM92.2 216.7h.8v.8h-.8zM99.2 203.5h.8v.8h-.8zM94.9 209.7h.8v.8h-.8zM107.3 213.4h.8v.8h-.8zM110.3 205.0h.8v.8h-.8zM102.4 208.6h.8v.8h-.8zM103.4 215.9h.8v.8h-.8zM102.8 207.3h.8v.8h-.8zM102.6 213.2h.8v.8h-.8zM105.0 209.9h.8v.8h-.8zM106.4 209.6h.8v.8h-.8zM101.4 211.8h.8v.8h-.8zM99.4 207.5h.8v.8h-.8zM101.1 207.6h.8v.8h-.8zM109.1 212.9h.8v.8h-.8zM101.7 209.7h.8v.8h-.8zM113.0 210.8h.8v.8h-.8zM102.8 203.2h.8v.8h-.8zM112.5 208.6h.8v.8h-.8zM97.0 214.0h.8v.8h-.8zM100.0 212.6h.8v.8h-.8zM107.1 210.1h.8v.8h-.8zM107.2 206.2h.8v.8h-.8zM103.3 205.8h.8v.8h-.8zM116.6 210.5h.8v.8h-.8zM104.6 214.9h.8v.8h-.8zM106.0 208.8h.8v.8h-.8zM100.8 214.4h.8v.8h-.8zM114.2 207.2h.8v.8h-.8zM109.4 214.0h.8v.8h-.8zM106.7 204.1h.8v.8h-.8zM94.3 209.4h.8v.8h-.8zM106.4 203.8h.8v.8h-.8zM101.4 211.5h.8v.8h-.8zM106.6 211.1h.8v.8h-.8zM109.7 204.3h.8v.8h-.8zM99.7 205.2h.8v.8h-.8zM105.5 206.6h.8v.8h-.8zM109.5 201.9h.8v.8h-.8zM105.2 204.4h.8v.8h-.8zM102.2 204.7h.8v.8h-.8zM97.8 212.1h.8v.8h-.8zM100.2 214.8h.8v.8h-.8zM96.5 206.6h.8v.8h-.8zM110.2 207.3h.8v.8h-.8zM104.8 209.5h.8v.8h-.8zM96.9 206.2h.8v.8h-.8zM104.2 207.3h.8v.8h-.8zM96.4 212.3h.8v.8h-.8zM84.4 209.6h.8v.8h-.8zM111.5 208.2h.8v.8h-.8zM111.3 206.0h.8v.8h-.8zM95.3 215.2h.8v.8h-.8zM99.9 205.8h.8v.8h-.8zM105.4 209.1h.8v.8h-.8zM101.9 203.9h.8v.8h-.8zM99.0 205.9h.8v.8h-.8zM101.1 209.0h.8v.8h-.8zM102.7 206.8h.8v.8h-.8zM100.9 211.0h.8v.8h-.8zM105.5 208.9h.8v.8h-.8zM102.8 202.4h.8v.8h-.8zM99.6 198.2h.8v.8h-.8zM104.3 213.0h.8v.8h-.8zM94.2 205.9h.8v.8h-.8zM112.9 215.2h.8v.8h-.8zM93.7 208.6h.8v.8h-.8zM103.7 205.1h.8v.8h-.8zM106.2 211.1h.8v.8h-.8zM106.7 207.3h.8v.8h-.8zM105.7 208.6h.8v.8h-.8zM111.8 204.4h.8v.8h-.8zM97.4 211.4h.8v.8h-.8zM103.8 213.5h.8v.8h-.8zM105.1 206.2h.8v.8h-.8zM101.2 216.6h.8v.8h-.8zM100.6 206.0h.8v.8h-.8zM111.9 209.7h.8v.8h-.8zM99.9 201.2h.8v.8h-.8zM101.3 199.9h.8v.8h-.8zM102.5 218.0h.8v.8h-.8zM102.9 215.0h.8v.8h-.8zM105.1 213.7h.8v.8h-.8zM102.9 200.9h.8v.8h-.8zM106.4 209.6h.8v.8h-.8zM105.0 210.4h.8v.8h-.8zM107.0 208.9h.8v.8h-.8zM112.4 209.9h.8v.8h-.8zM99.1 204.4h.8v.8h-.8zM114.1 207.8h.8v.8h-.8zM101.5 203.4h.8v.8h-.8zM108.1 207.0h.8v.8h-.8zM105.1 210.2h.8v.8h-.8zM102.4 205.0h.8v.8h-.8zM92.4 207.3h.8v.8h-.8zM113.8 206.6h.8v.8h-.8zM99.6 208.6h.8v.8h-.8zM99.4 212.7h.8v.8h-.8zM110.5 209.6h.8v.8h-.8zM104.6 210.3h.8v.8h-.8zM115.5 202.1h.8v.8h-.8zM114.2 206.9h.8v.8h-.8zM108.4 212.2h.8v.8h-.8zM105.7 204.7h.8v.8h-.8zM108.7 206.6h.8v.8h-.8zM96.3 204.2h.8v.8h-.8zM105.2 214.5h.8v.8h-.8zM105.0 206.5h.8v.8h-.8zM101.3 205.3h.8v.8h-.8zM105.7 211.3h.8v.8h-.8zM95.4 213.5h.8v.8h-.8zM109.5 210.8h.8v.8h-.8zM111.8 213.0h.8v.8h-.8zM96.4 209.5h.8v.8h-.8zM105.0 208.0h.8v.8h-.8zM113.4 206.6h.8v.8h-.8zM106.6 206.3h.8v.8h-.8zM98.0 205.9h.8v.8h-.8zM98.2 210.2h.8v.8h-.8zM109.2 208.0h.8v.8h-.8zM115.1 208.9h.8v.8h-.8zM97.6 211.3h.8v.8h-.8zM104.4 208.3h.8v.8h-.8zM99.5 202.4h.8v.8h-.8zM102.4 205.0h.8v.8h-.8zM106.0 203.5h.8v.8h-.8zM103.9 200.0h.8v.8h-.8zM100.0 209.0h.8v.8h-.8zM116.7 203.1h.8v.8h-.8zM103.2 202.8h.8v.8h-.8zM103.0 203.7h.8v.8h-.8zM110.7 212.5h.8v.8h-.8zM104.2 207.1h.8v.8h-.8zM102.9 213.0h.8v.8h-.8zM109.8 208.1h.8v.8h-.8zM98.0 206.6h.8v.8h-.8zM108.6 211.1h.8v.8h-.8zM110.3 211.2h.8v.8h-.8zM108.1 209.0h.8v.8h-.8zM103.1 203.9h.8v.8h-.8zM104.1 206.5h.8v.8h-.8zM93.9 203.2h.8v.8h-.8zM103.3 207.4h.8v.8h-.8zM105.8 208.9h.8v.8h-.8zM109.3 215.2h.8v.8h-.8zM105.0 214.9h.8v.8h-.8zM101.8 211.6h.8v.8h-.8zM99.1 212.8h.8v.8h-.8zM103.8 209.6h.8v.8h-.8zM104.9 221.0h.8v.8h-.8zM111.3 215.4h.8v.8h-.8zM104.2 220.4h.8v.8h-.8zM101.1 210.2h.8v.8h-.8zM103.5 210.4h.8v.8h-.8zM101.2 213.2h.8v.8h-.8zM102.7 209.4h.8v.8h-.8zM91.0 209.9h.8v.8h-.8zM94.6 204.1h.8v.8h-.8zM97.0 212.7h.8v.8h-.8zM106.9 209.1h.8v.8h-.8zM103.6 212.2h.8v.8h-.8zM105.0 207.5h.8v.8h-.8zM111.0 200.5h.8v.8h-.8zM97.9 210.8h.8v.8h-.8zM110.9 213.7h.8v.8h-.8zM106.4 202.8h.8v.8h-.8zM99.9 204.1h.8v.8h-.8zM112.9 207.2h.8v.8h-.8zM95.6 207.4h.8v.8h-.8zM97.4 200.9h.8v.8h-.8zM102.9 216.4h.8v.8h-.8zM106.5 213.1h.8v.8h-.8zM103.0 205.7h.8v.8h-.8zM91.4 200.4h.8v.8h-.8zM102.3 210.1h.8v.8h-.8zM103.6 217.4h.8v.8h-.8zM119.2 212.2h.8v.8h-.8zM112.3 213.7h.8v.8h-.8zM104.8 204.3h.8v.8h-.8zM97.6 209.5h.8v.8h-.8zM106.1 201.8h.8v.8h-.8zM97.2 217.4h.8v.8h-.8zM105.3 211.1h.8v.8h-.8zM106.3 199.0h.8v.8h-.8zM101.7 200.2h.8v.8h-.8zM105.6 210.7h.8v.8h-.8zM102.1 209.1h.8v.8h-.8zM100.7 207.1h.8v.8h-.8zM113.2 211.3h.8v.8h-.8zM107.5 217.5h.8v.8h-.8zM102.3 210.1h.8v.8h-.8zM99.6 200.4h.8v.8h-.8zM105.1 207.8h.8v.8h-.8zM107.5 202.6h.8v.8h-.8zM109.1 204.9h.8v.8h-.8zM112.8 210.0h.8v.8h-.8zM106.8 207.7h.8v.8h-.8zM97.5 203.7h.8v.8h-.8zM116.1 208.4h.8v.8h-.8zM111.0 204.8h.8v.8h-.8zM109.0 210.9h.8v.8h-.8zM112.0 207.4h.8v.8h-.8zM95.3 210.2h.8v.8h-.8zM101.9 207.3h.8v.8h-.8zM101.1 211.8h.8v.8h-.8zM111.1 207.9h.8v.8h-.8zM97.1 208.4h.8v.8h-.8zM102.2 205.9h.8v.8h-.8zM113.1 209.1h.8v.8h-.8zM107.9 200.5h.8v.8h-.8zM101.8 220.5h.8v.8h-.8zM115.2 205.4h.8v.8h-.8zM96.2 208.9h.8v.8h-.8zM106.8 206.3h.8v.8h-.8zM102.7 206.3h.8v.8h-.8zM107.1 210.3h.8v.8h-.8zM102.5 206.2h.8v.8h-.8zM99.1 206.5h.8v.8h-.8zM105.3 202.2h.8v.8h-.8zM96.3 204.3h.8v.8h-.8zM107.2 203.2h.8v.8h-.8zM102.2 216.6h.8v.8h-.8zM109.5 202.4h.8v.8h-.8zM101.4 203.6h.8v.8h-.8zM100.1 209.3h.8v.8h-.8zM106.4 214.9h.8v.8h-.8zM111.4 200.8h.8v.8h-.8zM91.8 201.5h.8v.8h-.8zM104.8 209.0h.8v.8h-.8zM107.8 210.0h.8v.8h-.8zM95.7 202.1h.8v.8h-.8zM98.9 200.3h.8v.8h-.8zM107.9 204.1h.8v.8h-.8zM99.2 211.8h.8v.8h-.8zM100.3 208.2h.8v.8h-.8zM114.2 211.8h.8v.8h-.8zM98.5 207.9h.8v.8h-.8zM99.0 208.3h.8v.8h-.8zM90.4 211.2h.8v.8h-.8zM97.6 207.9h.8v.8h-.8zM96.8 209.5h.8v.8h-.8zM114.2 204.3h.8v.8h-.8zM111.3 205.7h.8v.8h-.8zM96.6 210.5h.8v.8h-.8zM115.7 207.3h.8v.8h-.8zM108.6 205.1h.8v.8h-.8zM103.0 211.4h.8v.8h-.8zM108.8 210.9h.8v.8h-.8zM106.3 208.4h.8v.8h-.8zM99.5 205.0h.8v.8h-.8zM93.7 212.4h.8v.8h-.8zM98.7 219.6h.8v.8h-.8zM104.0 204.7h.8v.8h-.8zM101.9 201.5h.8v.8h-.8zM99.7 204.9h.8v.8h-.8zM109.8 204.2h.8v.8h-.8zM97.8 202.7h.8v.8h-.8zM109.3 203.1h.8v.8h-.8zM101.2 212.2h.8v.8h-.8zM104.7 212.3h.8v.8h-.8zM97.4 215.1h.8v.8h-.8zM104.0 211.8h.8v.8h-.8zM99.4 206.2h.8v.8h-.8zM93.7 213.3h.8v.8h-.8zM103.9 205.6h.8v.8h-.8zM103.7 206.8h.8v.8h-.8zM109.0 203.1h.8v.8h-.8zM105.7 213.9h.8v.8h-.8zM98.0 212.9h.8v.8h-.8zM100.4 206.3h.8v.8h-.8zM89.4 207.0h.8v.8h-.8zM97.4 208.5h.8v.8h-.8zM111.7 209.3h.8v.8h-.8zM113.0 212.2h.8v.8h-.8zM108.6 208.7h.8v.8h-.8zM105.8 210.2h.8v.8h-.8zM107.5 201.6h.8v.8h-.8zM106.9 207.0h.8v.8h-.8zM93.8 200.3h.8v.8h-.8zM98.9 216.4h.8v.8h-.8zM111.1 214.7h.8v.8h-.8zM111.0 211.6h.8v.8h-.8zM105.5 213.4h.8v.8h-.8zM102.2 217.4h.8v.8h-.8zM101.8 212.6h.8v.8h-.8zM100.8 201.2h.8v.8h-.8zM98.6 207.4h.8v.8h-.8zM92.6 197.8h.8v.8h-.8zM104.9 204.7h.8v.8h-.8zM101.4 202.8h.8v.8h-.8zM102.8 208.3h.8v.8h-.8zM114.2 210.1h.8v.8h-.8zM107.5 204.2h.8v.8h-.8zM99.9 207.1h.8v.8h-.8zM107.5 209.6h.8v.8h-.8zM95.1 207.7h.8v.8h-.8zM110.3 207.6h.8v.8h-.8zM105.6 197.5h.8v.8h-.8zM102.9 206.4h.8v.8h-.8zM107.4 211.9h.8v.8h-.8zM112.7 209.5h.8v.8h-.8zM101.3 201.7h.8v.8h-.8zM98.2 207.1h.8v.8h-.8zM116.6 209.5h.8v.8h-.8zM104.1 204.0h.8v.8h-.8zM112.9 211.4h.8v.8h-.8zM100.0 204.7h.8v.8h-.8zM106.3 206.9h.8v.8h-.8zM100.2 207.9h.8v.8h-.8zM107.8 218.4h.8v.8h-.8zM102.4 206.9h.8v.8h-.8zM100.1 205.8h.8v.8h-.8zM113.2 211.6h.8v.8h-.8zM106.0 206.2h.8v.8h-.8zM92.0 209.2h.8v.8h-.8zM102.6 198.2h.8v.8h-.8zM98.6 209.7h.8v.8h-.8zM96.8 208.2h.8v.8h-.8zM100.6 202.5h.8v.8h-.8zM101.2 214.4h.8v.8h-.8zM104.2 207.3h.8v.8h-.8zM99.3 207.5h.8v.8h-.8zM93.0 202.4h.8v.8h-.8zM100.8 201.0h.8v.8h-.8zM109.2 205.8h.8v.8h-.8zM95.9 201.5h.8v.8h-.8zM107.7 210.5h.8v.8h-.8zM106.7 212.2h.8v.8h-.8zM101.4 205.5h.8v.8h-.8zM105.9 201.1h.8v.8h-.8zM99.6 206.6h.8v.8h-.8zM101.6 203.6h.8v.8h-.8zM97.9 209.1h.8v.8h-.8zM106.8 209.1h.8v.8h-.8zM112.2 206.4h.8v.8h-.8zM100.0 208.7h.8v.8h-.8zM111.1 213.0h.8v.8h-.8zM91.3 216.0h.8v.8h-.8zM98.7 206.0h.8v.8h-.8zM98.0 211.6h.8v.8h-.8zM114.3 207.3h.8v.8h-.8zM100.5 203.6h.8v.8h-.8zM108.7 214.1h.8v.8h-.8zM91.8 210.1h.8v.8h-.8zM104.7 209.0h.8v.8h-.8zM107.4 209.9h.8v.8h-.8zM103.8 207.6h.8v.8h-.8zM87.8 203.6h.8v.8h-.8zM105.1 216.3h.8v.8h-.8zM108.8 212.4h.8v.8h-.8zM111.9 209.5h.8v.8h-.8zM106.4 212.7h.8v.8h-.8zM93.9 214.1h.8v.8h-.8zM102.8 207.4h.8v.8h-.8zM109.4 211.0h.8v.8h-.8zM99.1 206.9h.8v.8h-.8zM107.4 211.2h.8v.8h-.8zM101.1 207.2h.8v.8h-.8zM104.6 219.3h.8v.8h-.8zM108.5 206.7h.8v.8h-.8zM99.8 210.6h.8v.8h-.8zM121.1 210.4h.8v.8h-.8zM104.9 206.8h.8v.8h-.8zM106.1 212.5h.8v.8h-.8zM99.6 207.9h.8v.8h-.8zM104.4 206.5h.8v.8h-.8zM102.4 208.3h.8v.8h-.8zM95.3 204.9h.8v.8h-.8zM94.8 213.7h.8v.8h-.8zM105.7 211.1h.8v.8h-.8zM103.5 212.7h.8v.8h-.8zM88.3 202.2h.8v.8h-.8zM91.2 209.5h.8v.8h-.8zM102.2 204.9h.8v.8h-.8zM103.6 208.7h.8v.8h-.8zM107.6 214.0h.8v.8h-.8zM96.6 209.5h.8v.8h-.8zM107.5 207.5h.8v.8h-.8zM102.2 213.4h.8v.8h-.8zM101.0 212.9h.8v.8h-.8zM103.2 216.6h.8v.8h-.8zM109.9 199.9h.8v.8h-.8zM107.3 209.8h.8v.8h-.8zM109.3 206.4h.8v.8h-.8zM99.9 204.4h.8v.8h-.8zM102.3 208.8h.8v.8h-.8zM97.0 203.1h.8v.8h-.8zM100.7 198.3h.8v.8h-.8zM101.6 204.3h.8v.8h-.8zM101.2 207.1h.8v.8h-.8zM108.3 216.7h.8v.8h-.8zM106.6 205.1h.8v.8h-.8zM108.6 203.1h.8v.8h-.8zM104.8 199.4h.8v.8h-.8zM110.4 206.7h.8v.8h-.8zM104.7 207.2h.8v.8h-.8zM109.8 209.0h.8v.8h-.8zM107.0 201.8h.8v.8h-.8zM108.4 204.9h.8v.8h-.8zM103.6 198.1h.8v.8h-.8zM96.6 209.1h.8v.8h-.8zM95.3 201.3h.8v.8h-.8zM115.7 196.0h.8v.8h-.8zM106.3 213.5h.8v.8h-.8zM106.7 210.6h.8v.8h-.8zM103.0 209.9h.8v.8h-.8zM101.2 209.9h.8v.8h-.8zM121.2 203.7h.8v.8h-.8zM97.3 213.1h.8v.8h-.8zM103.6 203.6h.8v.8h-.8zM103.7 216.9h.8v.8h-.8zM97.2 209.3h.8v.8h-.8zM96.4 200.0h.8v.8h-.8zM99.8 212.2h.8v.8h-.8zM101.9 217.2h.8v.8h-.8zM101.1 207.2h.8v.8h-.8zM108.9 213.1h.8v.8h-.8zM96.9 207.4h.8v.8h-.8zM106.4 205.5h.8v.8h-.8zM112.8 196.7h.8v.8h-.8zM109.4 213.9h.8v.8h-.8zM97.2 206.3h.8v.8h-.8zM86.3 210.0h.8v.8h-.8zM109.1 203.2h.8v.8h-.8zM107.0 204.2h.8v.8h-.8zM100.5 213.4h.8v.8h-.8zM111.7 206.6h.8v.8h-.8zM101.6 206.5h.8v.8h-.8zM104.6 202.6h.8v.8h-.8zM97.8 209.3h.8v.8h-.8zM105.9 211.8h.8v.8h-.8zM101.4 206.3h.8v.8h-.8zM101.0 207.5h.8v.8h-.8zM110.5 202.8h.8v.8h-.8zM105.3 214.6h.8v.8h-.8zM95.0 205.5h.8v.8h-.8zM108.1 207.6h.8v.8h-.8zM109.0 215.9h.8v.8h-.8zM99.0 207.3h.8v.8h-.8zM101.6 201.3h.8v.8h-.8zM104.3 204.2h.8v.8h-.8zM102.5 206.7h.8v.8h-.8zM104.7 216.4h.8v.8h-.8zM107.9 209.3h.8v.8h-.8zM101.0 207.3h.8v.8h-.8zM116.5 212.1h.8v.8h-.8zM99.7 214.2h.8v.8h-.8zM100.8 204.9h.8v.8h-.8zM115.8 214.8h.8v.8h-.8zM118.3 212.2h.8v.8h-.8zM104.2 210.4h.8v.8h-.8zM102.9 197.7h.8v.8h-.8zM97.6 209.2h.8v.8h-.8zM110.9 214.7h.8v.8h-.8zM105.0 207.1h.8v.8h-.8zM98.9 218.8h.8v.8h-.8zM106.4 208.7h.8v.8h-.8zM112.2 203.8h.8v.8h-.8zM108.1 211.0h.8v.8h-.8zM117.2 209.7h.8v.8h-.8zM111.0 212.1h.8v.8h-.8zM106.6 207.4h.8v.8h-.8zM103.8 214.3h.8v.8h-.8zM107.3 205.9h.8v.8h-.8zM111.3 209.0h.8v.8h-.8zM109.2 202.7h.8v.8h-.8zM110.3 204.8h.8v.8h-.8zM105.3 209.3h.8v.8h-.8zM114.9 208.3h.8v.8h-.8zM116.1 206.4h.8v.8h-.8zM117.6 204.9h.8v.8h-.8zM120.4 200.0h.8v.8h-.8zM123.5 214.4h.8v.8h-.8zM123.5 203.3h.8v.8h-.8zM125.0 199.9h.8v.8h-.8zM120.1 203.8h.8v.8h-.8zM115.6 200.1h.8v.8h-.8zM109.3 216.7h.8v.8h-.8zM116.8 209.2h.8v.8h-.8zM114.0 214.0h.8v.8h-.8zM107.9 214.2h.8v.8h-.8zM128.8 210.1h.8v.8h-.8zM107.7 210.1h.8v.8h-.8zM121.0 204.2h.8v.8h-.8zM122.2 207.1h.8v.8h-.8zM117.4 204.7h.8v.8h-.8zM134.5 207.7h.8v.8h-.8zM119.0 204.3h.8v.8h-.8zM114.2 213.3h.8v.8h-.8zM129.5 211.0h.8v.8h-.8zM114.0 207.0h.8v.8h-.8zM110.2 199.8h.8v.8h-.8zM112.8 210.6h.8v.8h-.8zM115.0 211.6h.8v.8h-.8zM119.1 207.2h.8v.8h-.8zM120.9 201.7h.8v.8h-.8zM109.6 209.5h.8v.8h-.8zM121.0 212.3h.8v.8h-.8zM132.4 198.7h.8v.8h-.8zM114.5 210.1h.8v.8h-.8zM118.1 199.2h.8v.8h-.8zM123.1 207.9h.8v.8h-.8zM126.2 215.5h.8v.8h-.8zM114.8 207.9h.8v.8h-.8zM113.0 209.7h.8v.8h-.8zM112.7 206.0h.8v.8h-.8zM125.5 207.5h.8v.8h-.8zM124.3 218.3h.8v.8h-.8zM105.7 213.6h.8v.8h-.8zM105.8 206.1h.8v.8h-.8zM111.3 205.8h.8v.8h-.8zM109.7 207.6h.8v.8h-.8zM121.4 217.6h.8v.8h-.8zM120.2 208.5h.8v.8h-.8zM130.8 212.6h.8v.8h-.8zM123.7 205.8h.8v.8h-.8zM119.6 201.7h.8v.8h-.8zM126.1 213.6h.8v.8h-.8zM113.4 207.1h.8v.8h-.8zM110.4 203.9h.8v.8h-.8zM119.1 204.3h.8v.8h-.8zM124.6 204.4h.8v.8h-.8zM109.0 204.7h.8v.8h-.8zM124.3 200.4h.8v.8h-.8zM124.1 213.0h.8v.8h-.8zM115.8 209.3h.8v.8h-.8zM119.9 212.0h.8v.8h-.8zM117.2 205.9h.8v.8h-.8zM119.4 209.1h.8v.8h-.8zM123.8 208.3h.8v.8h-.8zM114.0 212.9h.8v.8h-.8zM125.2 211.2h.8v.8h-.8zM124.2 209.1h.8v.8h-.8zM124.4 204.5h.8v.8h-.8zM106.9 202.0h.8v.8h-.8zM107.5 203.8h.8v.8h-.8zM123.1 204.6h.8v.8h-.8zM115.3 205.0h.8v.8h-.8zM114.7 201.8h.8v.8h-.8zM114.2 215.1h.8v.8h-.8zM110.7 208.7h.8v.8h-.8zM117.1 198.3h.8v.8h-.8zM114.5 202.5h.8v.8h-.8zM114.9 201.4h.8v.8h-.8zM121.8 208.6h.8v.8h-.8zM111.7 212.4h.8v.8h-.8zM125.7 203.0h.8v.8h-.8zM105.3 210.3h.8v.8h-.8zM134.2 206.2h.8v.8h-.8zM110.6 212.8h.8v.8h-.8zM122.4 213.7h.8v.8h-.8zM124.4 208.9h.8v.8h-.8zM118.8 210.8h.8v.8h-.8zM123.4 207.5h.8v.8h-.8zM118.2 205.8h.8v.8h-.8zM108.1 202.2h.8v.8h-.8zM121.0 209.0h.8v.8h-.8zM125.8 207.2h.8v.8h-.8zM115.5 205.7h.8v.8h-.8zM108.5 207.2h.8v.8h-.8zM115.2 206.7h.8v.8h-.8zM120.8 202.8h.8v.8h-.8zM120.7 205.1h.8v.8h-.8zM125.6 212.7h.8v.8h-.8zM122.3 206.4h.8v.8h-.8zM122.0 213.9h.8v.8h-.8zM106.6 202.2h.8v.8h-.8zM132.5 201.3h.8v.8h-.8zM119.2 208.1h.8v.8h-.8zM124.1 211.0h.8v.8h-.8zM116.7 204.5h.8v.8h-.8zM117.9 210.4h.8v.8h-.8zM119.2 211.8h.8v.8h-.8zM128.5 212.4h.8v.8h-.8zM128.1 207.0h.8v.8h-.8zM122.6 207.3h.8v.8h-.8zM131.0 200.0h.8v.8h-.8zM116.5 207.6h.8v.8h-.8zM122.0 208.8h.8v.8h-.8zM116.1 213.9h.8v.8h-.8zM126.8 201.7h.8v.8h-.8zM119.1 203.6h.8v.8h-.8zM124.9 202.9h.8v.8h-.8zM129.4 211.6h.8v.8h-.8zM106.2 196.0h.8v.8h-.8zM132.2 202.6h.8v.8h-.8zM120.9 216.9h.8v.8h-.8zM116.9 210.5h.8v.8h-.8zM107.2 201.4h.8v.8h-.8zM117.1 207.2h.8v.8h-.8zM104.8 211.4h.8v.8h-.8zM119.4 210.0h.8v.8h-.8zM117.9 206.5h.8v.8h-.8zM130.1 203.9h.8v.8h-.8zM116.9 211.3h.8v.8h-.8zM125.5 207.5h.8v.8h-.8zM126.1 211.2h.8v.8h-.8zM131.6 209.3h.8v.8h-.8zM117.4 205.4h.8v.8h-.8zM123.6 214.1h.8v.8h-.8zM109.6 205.2h.8v.8h-.8zM112.1 209.5h.8v.8h-.8zM117.3 204.6h.8v.8h-.8zM118.8 206.5h.8v.8h-.8zM111.5 206.4h.8v.8h-.8zM116.4 204.5h.8v.8h-.8zM123.2 208.6h.8v.8h-.8zM116.1 213.5h.8v.8h-.8zM118.0 216.0h.8v.8h-.8zM113.5 214.0h.8v.8h-.8zM127.4 206.7h.8v.8h-.8zM129.9 214.1h.8v.8h-.8zM120.2 209.4h.8v.8h-.8zM118.2 215.7h.8v.8h-.8zM129.2 201.8h.8v.8h-.8zM121.9 214.2h.8v.8h-.8zM114.8 204.8h.8v.8h-.8zM110.7 212.8h.8v.8h-.8zM115.3 205.4h.8v.8h-.8zM132.5 211.6h.8v.8h-.8zM115.3 206.2h.8v.8h-.8zM136.7 199.0h.8v.8h-.8zM118.9 203.1h.8v.8h-.8zM117.6 206.4h.8v.8h-.8zM127.1 207.6h.8v.8h-.8zM117.5 197.3h.8v.8h-.8zM121.3 202.1h.8v.8h-.8zM112.6 204.2h.8v.8h-.8zM111.3 206.5h.8v.8h-.8zM114.4 208.5h.8v.8h-.8zM120.3 203.8h.8v.8h-.8zM114.9 200.6h.8v.8h-.8zM106.9 208.9h.8v.8h-.8zM121.9 206.0h.8v.8h-.8zM118.0 211.5h.8v.8h-.8zM117.3 205.1h.8v.8h-.8zM115.2 210.4h.8v.8h-.8zM105.1 203.5h.8v.8h-.8zM128.8 208.7h.8v.8h-.8zM116.0 207.9h.8v.8h-.8zM122.2 209.5h.8v.8h-.8zM127.6 203.3h.8v.8h-.8zM125.9 206.9h.8v.8h-.8zM120.2 203.7h.8v.8h-.8zM119.0 206.8h.8v.8h-.8zM120.9 210.3h.8v.8h-.8zM124.6 221.0h.8v.8h-.8zM122.6 207.7h.8v.8h-.8zM116.2 210.7h.8v.8h-.8zM121.8 208.0h.8v.8h-.8zM121.3 212.6h.8v.8h-.8zM123.3 209.6h.8v.8h-.8zM120.3 212.2h.8v.8h-.8zM127.4 209.1h.8v.8h-.8zM120.2 218.4h.8v.8h-.8zM124.5 213.7h.8v.8h-.8zM119.3 199.8h.8v.8h-.8zM115.5 208.9h.8v.8h-.8zM113.2 207.9h.8v.8h-.8zM118.0 197.5h.8v.8h-.8zM122.3 203.6h.8v.8h-.8zM126.8 205.4h.8v.8h-.8zM118.4 204.2h.8v.8h-.8zM115.8 208.1h.8v.8h-.8zM115.9 199.4h.8v.8h-.8zM126.9 210.9h.8v.8h-.8zM119.6 211.0h.8v.8h-.8zM115.9 209.1h.8v.8h-.8zM123.5 206.0h.8v.8h-.8zM110.9 207.5h.8v.8h-.8zM119.7 205.4h.8v.8h-.8zM118.7 212.7h.8v.8h-.8zM118.2 209.8h.8v.8h-.8zM111.9 216.5h.8v.8h-.8zM125.0 205.9h.8v.8h-.8zM129.3 214.1h.8v.8h-.8zM110.8 204.9h.8v.8h-.8zM119.7 206.8h.8v.8h-.8zM123.0 202.8h.8v.8h-.8zM132.9 209.9h.8v.8h-.8zM116.4 207.3h.8v.8h-.8zM113.2 210.3h.8v.8h-.8zM119.0 214.3h.8v.8h-.8zM131.4 207.3h.8v.8h-.8zM119.4 209.2h.8v.8h-.8zM120.6 211.6h.8v.8h-.8zM129.9 207.3h.8v.8h-.8zM105.9 205.1h.8v.8h-.8zM105.7 209.1h.8v.8h-.8zM124.6 209.8h.8v.8h-.8zM123.8 211.1h.8v.8h-.8zM110.5 211.3h.8v.8h-.8zM122.2 204.5h.8v.8h-.8zM119.3 209.5h.8v.8h-.8zM120.3 213.1h.8v.8h-.8zM114.0 205.4h.8v.8h-.8zM116.2 209.2h.8v.8h-.8zM113.6 204.7h.8v.8h-.8zM119.3 208.3h.8v.8h-.8zM117.6 215.4h.8v.8h-.8zM129.4 208.3h.8v.8h-.8zM122.9 203.2h.8v.8h-.8zM109.3 209.1h.8v.8h-.8zM121.6 208.5h.8v.8h-.8zM127.8 212.6h.8v.8h-.8zM120.7 201.3h.8v.8h-.8zM125.7 203.4h.8v.8h-.8zM118.8 207.2h.8v.8h-.8zM123.3 200.5h.8v.8h-.8zM113.2 212.7h.8v.8h-.8zM123.8 198.4h.8v.8h-.8zM110.5 203.8h.8v.8h-.8zM126.9 200.9h.8v.8h-.8zM109.7 204.6h.8v.8h-.8zM106.0 211.1h.8v.8h-.8zM122.3 210.3h.8v.8h-.8zM117.9 211.7h.8v.8h-.8zM119.7 210.3h.8v.8h-.8zM121.6 198.4h.8v.8h-.8zM118.8 208.9h.8v.8h-.8zM113.6 199.2h.8v.8h-.8zM120.3 205.3h.8v.8h-.8zM121.1 205.8h.8v.8h-.8zM122.0 205.1h.8v.8h-.8zM131.2 209.8h.8v.8h-.8zM114.5 203.9h.8v.8h-.8zM119.4 215.3h.8v.8h-.8zM122.4 210.2h.8v.8h-.8zM116.2 212.9h.8v.8h-.8zM111.6 211.0h.8v.8h-.8zM115.5 211.6h.8v.8h-.8zM125.5 207.3h.8v.8h-.8zM117.3 216.4h.8v.8h-.8zM122.8 202.8h.8v.8h-.8zM114.5 209.6h.8v.8h-.8zM121.7 207.6h.8v.8h-.8zM114.8 206.5h.8v.8h-.8zM113.8 209.0h.8v.8h-.8zM119.7 204.2h.8v.8h-.8zM119.3 211.5h.8v.8h-.8zM128.1 211.1h.8v.8h-.8zM109.0 208.0h.8v.8h-.8zM122.1 210.9h.8v.8h-.8zM128.9 202.9h.8v.8h-.8zM127.4 199.4h.8v.8h-.8zM116.6 204.9h.8v.8h-.8zM114.8 206.5h.8v.8h-.8zM116.0 218.8h.8v.8h-.8zM120.9 206.5h.8v.8h-.8zM120.2 212.2h.8v.8h-.8zM121.2 211.4h.8v.8h-.8zM122.7 217.1h.8v.8h-.8zM112.4 208.1h.8v.8h-.8zM112.1 210.5h.8v.8h-.8zM111.5 206.7h.8v.8h-.8zM110.7 203.6h.8v.8h-.8zM118.4 203.0h.8v.8h-.8zM120.9 204.0h.8v.8h-.8zM134.6 214.0h.8v.8h-.8zM122.3 208.8h.8v.8h-.8zM119.1 206.8h.8v.8h-.8zM127.7 207.6h.8v.8h-.8zM114.5 205.0h.8v.8h-.8zM121.1 207.4h.8v.8h-.8zM125.0 207.4h.8v.8h-.8zM123.8 210.5h.8v.8h-.8zM121.5 211.6h.8v.8h-.8zM116.9 200.2h.8v.8h-.8zM111.4 208.6h.8v.8h-.8zM118.1 213.7h.8v.8h-.8zM115.3 202.9h.8v.8h-.8zM123.2 206.4h.8v.8h-.8zM118.2 208.3h.8v.8h-.8zM122.5 212.5h.8v.8h-.8zM109.1 210.2h.8v.8h-.8zM125.0 206.6h.8v.8h-.8zM113.8 209.8h.8v.8h-.8zM109.4 212.2h.8v.8h-.8zM110.5 209.3h.8v.8h-.8zM115.1 215.9h.8v.8h-.8zM125.9 209.5h.8v.8h-.8zM123.4 202.8h.8v.8h-.8zM111.8 204.0h.8v.8h-.8zM119.5 206.9h.8v.8h-.8zM118.4 206.6h.8v.8h-.8zM109.4 210.3h.8v.8h-.8zM112.9 209.1h.8v.8h-.8zM106.5 215.3h.8v.8h-.8zM113.6 211.2h.8v.8h-.8zM102.7 214.2h.8v.8h-.8zM114.1 204.1h.8v.8h-.8zM113.2 205.6h.8v.8h-.8zM114.1 210.6h.8v.8h-.8zM113.9 208.0h.8v.8h-.8zM126.1 210.4h.8v.8h-.8zM116.9 208.7h.8v.8h-.8zM120.5 204.8h.8v.8h-.8zM123.6 215.2h.8v.8h-.8zM124.5 212.7h.8v.8h-.8zM123.2 200.6h.8v.8h-.8zM115.6 204.8h.8v.8h-.8zM112.3 207.7h.8v.8h-.8zM114.2 210.6h.8v.8h-.8zM116.1 207.2h.8v.8h-.8zM119.0 201.4h.8v.8h-.8zM118.5 211.3h.8v.8h-.8zM125.7 206.6h.8v.8h-.8zM118.4 213.0h.8v.8h-.8zM130.0 208.9h.8v.8h-.8zM125.3 212.1h.8v.8h-.8zM116.0 211.3h.8v.8h-.8zM124.3 211.6h.8v.8h-.8zM101.3 205.3h.8v.8h-.8zM127.5 212.2h.8v.8h-.8zM121.5 208.5h.8v.8h-.8zM121.4 202.0h.8v.8h-.8zM108.7 205.8h.8v.8h-.8zM134.5 206.1h.8v.8h-.8zM117.4 209.7h.8v.8h-.8zM118.1 210.7h.8v.8h-.8zM125.9 202.6h.8v.8h-.8zM117.8 210.9h.8v.8h-.8zM113.8 207.3h.8v.8h-.8zM123.0 202.8h.8v.8h-.8zM112.8 211.3h.8v.8h-.8zM123.6 204.2h.8v.8h-.8zM119.8 202.2h.8v.8h-.8zM125.9 211.0h.8v.8h-.8zM111.6 211.6h.8v.8h-.8zM126.6 204.6h.8v.8h-.8zM120.8 212.4h.8v.8h-.8zM131.1 212.1h.8v.8h-.8zM115.0 205.3h.8v.8h-.8zM130.4 216.6h.8v.8h-.8zM123.3 207.3h.8v.8h-.8zM123.8 208.6h.8v.8h-.8zM114.5 196.9h.8v.8h-.8zM122.4 210.5h.8v.8h-.8zM123.1 204.8h.8v.8h-.8zM113.9 209.6h.8v.8h-.8zM111.9 199.9h.8v.8h-.8zM114.3 212.8h.8v.8h-.8zM128.0 214.2h.8v.8h-.8zM120.0 216.1h.8v.8h-.8zM124.7 194.4h.8v.8h-.8zM120.8 210.3h.8v.8h-.8zM119.7 209.2h.8v.8h-.8zM120.4 194.1h.8v.8h-.8zM116.5 204.3h.8v.8h-.8zM126.5 207.3h.8v.8h-.8zM120.1 214.0h.8v.8h-.8zM120.4 203.9h.8v.8h-.8zM110.5 208.6h.8v.8h-.8zM120.9 207.4h.8v.8h-.8zM114.9 209.3h.8v.8h-.8zM115.9 205.9h.8v.8h-.8zM125.4 211.7h.8v.8h-.8zM112.3 212.0h.8v.8h-.8zM117.8 201.5h.8v.8h-.8zM122.9 212.7h.8v.8h-.8zM126.1 204.3h.8v.8h-.8zM115.8 206.4h.8v.8h-.8zM121.0 212.7h.8v.8h-.8zM120.8 208.1h.8v.8h-.8zM112.1 210.3h.8v.8h-.8zM105.9 211.2h.8v.8h-.8zM107.2 210.4h.8v.8h-.8zM122.7 205.3h.8v.8h-.8zM119.6 203.4h.8v.8h-.8zM110.8 210.8h.8v.8h-.8zM115.1 211.1h.8v.8h-.8zM116.5 209.3h.8v.8h-.8zM116.8 206.9h.8v.8h-.8zM118.8 211.6h.8v.8h-.8zM132.5 207.6h.8v.8h-.8zM114.2 201.6h.8v.8h-.8zM119.9 209.0h.8v.8h-.8zM114.3 210.0h.8v.8h-.8zM115.1 211.2h.8v.8h-.8zM113.6 203.7h.8v.8h-.8zM117.6 204.4h.8v.8h-.8zM115.6 209.2h.8v.8h-.8zM121.1 205.7h.8v.8h-.8zM120.3 207.4h.8v.8h-.8zM113.5 211.9h.8v.8h-.8zM130.8 209.5h.8v.8h-.8zM111.8 215.9h.8v.8h-.8zM121.2 209.1h.8v.8h-.8zM132.3 215.4h.8v.8h-.8zM114.6 212.5h.8v.8h-.8zM127.1 219.2h.8v.8h-.8zM127.7 207.9h.8v.8h-.8zM121.1 207.4h.8v.8h-.8zM107.7 213.6h.8v.8h-.8zM127.7 205.5h.8v.8h-.8zM119.6 205.7h.8v.8h-.8zM115.6 208.9h.8v.8h-.8zM126.8 209.5h.8v.8h-.8zM114.6 201.5h.8v.8h-.8zM125.5 209.0h.8v.8h-.8zM115.6 206.4h.8v.8h-.8zM122.3 207.7h.8v.8h-.8zM112.4 208.6h.8v.8h-.8zM116.6 207.0h.8v.8h-.8zM113.4 212.7h.8v.8h-.8zM114.6 210.0h.8v.8h-.8zM120.1 207.0h.8v.8h-.8zM117.9 208.2h.8v.8h-.8zM120.1 212.5h.8v.8h-.8zM126.9 211.4h.8v.8h-.8zM118.3 213.6h.8v.8h-.8zM107.6 207.3h.8v.8h-.8zM117.2 208.5h.8v.8h-.8zM119.5 216.9h.8v.8h-.8zM125.2 207.8h.8v.8h-.8zM125.3 215.4h.8v.8h-.8zM124.8 211.7h.8v.8h-.8zM117.6 206.0h.8v.8h-.8zM122.9 201.7h.8v.8h-.8zM110.2 210.8h.8v.8h-.8zM126.9 204.8h.8v.8h-.8zM121.7 204.8h.8v.8h-.8zM122.1 200.2h.8v.8h-.8zM116.7 213.3h.8v.8h-.8zM119.3 208.4h.8v.8h-.8zM114.9 208.1h.8v.8h-.8zM122.5 209.7h.8v.8h-.8zM110.9 209.0h.8v.8h-.8zM124.9 208.4h.8v.8h-.8zM122.3 210.3h.8v.8h-.8zM131.4 206.7h.8v.8h-.8zM118.8 196.4h.8v.8h-.8zM118.4 211.3h.8v.8h-.8zM120.2 209.9h.8v.8h-.8zM119.2 208.1h.8v.8h-.8zM118.3 215.1h.8v.8h-.8zM112.2 201.7h.8v.8h-.8zM112.2 195.0h.8v.8h-.8zM115.5 214.6h.8v.8h-.8zM117.2 209.8h.8v.8h-.8zM111.7 200.6h.8v.8h-.8zM111.9 206.1h.8v.8h-.8zM117.3 210.7h.8v.8h-.8zM123.5 202.5h.8v.8h-.8zM117.8 210.5h.8v.8h-.8zM123.2 217.4h.8v.8h-.8zM125.0 214.2h.8v.8h-.8zM123.7 207.8h.8v.8h-.8zM116.4 209.4h.8v.8h-.8zM116.5 203.7h.8v.8h-.8zM107.6 208.6h.8v.8h-.8zM114.8 206.5h.8v.8h-.8zM121.9 203.5h.8v.8h-.8zM112.3 202.0h.8v.8h-.8zM127.3 216.6h.8v.8h-.8zM127.8 208.4h.8v.8h-.8zM116.7 203.4h.8v.8h-.8zM124.6 206.1h.8v.8h-.8zM110.3 214.6h.8v.8h-.8zM112.6 215.2h.8v.8h-.8zM116.7 205.2h.8v.8h-.8zM119.1 208.8h.8v.8h-.8zM117.9 211.9h.8v.8h-.8zM113.7 206.4h.8v.8h-.8zM131.0 202.7h.8v.8h-.8zM120.8 203.6h.8v.8h-.8zM120.8 208.0h.8v.8h-.8zM123.2 204.5h.8v.8h-.8zM97.8 204.3h.8v.8h-.8zM110.4 210.5h.8v.8h-.8zM124.3 205.7h.8v.8h-.8zM121.4 206.6h.8v.8h-.8zM110.5 216.8h.8v.8h-.8zM136.0 199.8h.8v.8h-.8zM103.9 207.7h.8v.8h-.8zM112.3 200.5h.8v.8h-.8zM97.0 208.2h.8v.8h-.8zM122.5 210.9h.8v.8h-.8zM111.7 212.1h.8v.8h-.8zM93.2 208.7h.8v.8h-.8zM103.4 198.6h.8v.8h-.8zM134.6 209.4h.8v.8h-.8zM121.8 213.7h.8v.8h-.8zM114.5 214.3h.8v.8h-.8zM123.5 222.0h.8v.8h-.8zM94.2 211.5h.8v.8h-.8zM103.3 201.0h.8v.8h-.8zM97.4 204.3h.8v.8h-.8zM103.3 208.3h.8v.8h-.8zM108.6 214.7h.8v.8h-.8zM119.5 200.1h.8v.8h-.8zM125.2 213.8h.8v.8h-.8zM124.8 212.1h.8v.8h-.8zM107.3 211.8h.8v.8h-.8zM112.9 202.7h.8v.8h-.8zM119.2 207.7h.8v.8h-.8zM103.3 205.7h.8v.8h-.8zM109.7 209.3h.8v.8h-.8zM118.0 199.9h.8v.8h-.8zM102.6 211.2h.8v.8h-.8zM118.7 193.3h.8v.8h-.8zM127.7 205.0h.8v.8h-.8zM99.8 204.0h.8v.8h-.8zM85.9 218.2h.8v.8h-.8zM114.1 211.3h.8v.8h-.8zM100.7 204.5h.8v.8h-.8zM115.2 201.8h.8v.8h-.8zM107.8 208.0h.8v.8h-.8zM116.7 203.5h.8v.8h-.8zM126.6 222.6h.8v.8h-.8zM122.8 189.3h.8v.8h-.8zM108.8 208.2h.8v.8h-.8zM99.2 191.4h.8v.8h-.8zM87.2 202.4h.8v.8h-.8zM103.6 218.4h.8v.8h-.8zM114.2 204.1h.8v.8h-.8zM104.9 214.9h.8v.8h-.8zM105.9 209.1h.8v.8h-.8zM93.9 215.6h.8v.8h-.8zM93.2 207.9h.8v.8h-.8zM120.2 202.9h.8v.8h-.8zM89.2 197.4h.8v.8h-.8zM120.8 214.0h.8v.8h-.8zM102.0 211.3h.8v.8h-.8zM119.1 207.8h.8v.8h-.8zM115.5 210.8h.8v.8h-.8zM121.6 209.0h.8v.8h-.8zM126.7 203.9h.8v.8h-.8zM103.2 220.7h.8v.8h-.8zM100.9 209.3h.8v.8h-.8zM107.2 206.5h.8v.8h-.8zM103.2 198.0h.8v.8h-.8zM120.2 203.6h.8v.8h-.8zM111.0 207.8h.8v.8h-.8zM112.3 206.6h.8v.8h-.8zM117.2 204.6h.8v.8h-.8zM106.6 207.4h.8v.8h-.8zM125.3 200.3h.8v.8h-.8zM90.3 207.8h.8v.8h-.8zM115.0 197.5h.8v.8h-.8zM118.1 202.0h.8v.8h-.8zM103.0 202.8h.8v.8h-.8zM103.9 213.5h.8v.8h-.8zM122.9 211.0h.8v.8h-.8zM108.3 208.2h.8v.8h-.8zM89.2 200.1h.8v.8h-.8zM96.0 205.1h.8v.8h-.8zM124.1 213.1h.8v.8h-.8zM101.6 216.1h.8v.8h-.8zM127.7 197.9h.8v.8h-.8zM128.4 204.9h.8v.8h-.8zM109.6 208.5h.8v.8h-.8zM118.5 210.1h.8v.8h-.8zM102.2 207.8h.8v.8h-.8zM107.2 212.2h.8v.8h-.8zM103.7 198.1h.8v.8h-.8zM119.0 218.1h.8v.8h-.8zM96.7 200.1h.8v.8h-.8zM110.4 208.1h.8v.8h-.8zM112.6 211.2h.8v.8h-.8zM118.2 215.5h.8v.8h-.8zM86.6 213.8h.8v.8h-.8zM90.6 213.6h.8v.8h-.8zM101.5 216.3h.8v.8h-.8zM109.3 206.8h.8v.8h-.8zM113.6 212.8h.8v.8h-.8zM114.2 218.0h.8v.8h-.8zM136.0 202.7h.8v.8h-.8zM119.7 198.5h.8v.8h-.8zM118.9 201.1h.8v.8h-.8zM106.1 217.2h.8v.8h-.8zM121.2 216.1h.8v.8h-.8zM120.1 205.4h.8v.8h-.8zM119.9 209.4h.8v.8h-.8zM110.5 211.0h.8v.8h-.8zM119.3 214.8h.8v.8h-.8zM130.1 195.3h.8v.8h-.8zM102.4 204.1h.8v.8h-.8zM86.1 206.1h.8v.8h-.8zM121.6 209.9h.8v.8h-.8zM120.6 208.3h.8v.8h-.8zM109.1 205.7h.8v.8h-.8zM106.6 209.8h.8v.8h-.8zM106.3 228.4h.8v.8h-.8zM97.3 213.3h.8v.8h-.8zM106.1 213.8h.8v.8h-.8zM117.8 203.5h.8v.8h-.8zM104.5 210.6h.8v.8h-.8zM107.2 221.6h.8v.8h-.8zM115.5 220.0h.8v.8h-.8zM106.7 208.4h.8v.8h-.8zM113.3 199.6h.8v.8h-.8zM111.3 208.9h.8v.8h-.8zM99.1 205.9h.8v.8h-.8zM112.7 213.6h.8v.8h-.8zM98.0 199.3h.8v.8h-.8zM122.9 206.6h.8v.8h-.8zM100.7 209.7h.8v.8h-.8zM109.0 204.7h.8v.8h-.8zM90.1 214.9h.8v.8h-.8zM106.5 200.3h.8v.8h-.8zM96.9 199.6h.8v.8h-.8zM129.6 205.5h.8v.8h-.8zM110.3 213.4h.8v.8h-.8zM118.0 205.8h.8v.8h-.8zM90.9 203.9h.8v.8h-.8zM97.0 213.3h.8v.8h-.8zM109.7 209.4h.8v.8h-.8zM95.6 204.4h.8v.8h-.8zM125.4 208.7h.8v.8h-.8zM107.0 206.3h.8v.8h-.8zM113.5 212.0h.8v.8h-.8zM115.4 208.8h.8v.8h-.8zM110.0 202.5h.8v.8h-.8zM121.0 204.7h.8v.8h-.8zM103.7 205.1h.8v.8h-.8zM116.1 210.4h.8v.8h-.8zM126.0 210.4h.8v.8h-.8zM114.3 202.3h.8v.8h-.8zM113.2 206.6h.8v.8h-.8zM107.8 209.9h.8v.8h-.8zM112.4 215.2h.8v.8h-.8zM119.7 209.6h.8v.8h-.8zM108.8 220.9h.8v.8h-.8zM91.8 208.0h.8v.8h-.8zM113.7 212.8h.8v.8h-.8zM109.9 205.7h.8v.8h-.8zM117.3 201.2h.8v.8h-.8zM112.2 208.6h.8v.8h-.8zM130.4 211.1h.8v.8h-.8zM97.4 210.0h.8v.8h-.8zM100.2 208.8h.8v.8h-.8zM119.4 205.6h.8v.8h-.8zM99.5 202.4h.8v.8h-.8zM115.6 205.9h.8v.8h-.8zM111.5 211.0h.8v.8h-.8zM88.4 214.3h.8v.8h-.8zM119.6 185.8h.8v.8h-.8zM127.9 212.0h.8v.8h-.8zM114.1 215.1h.8v.8h-.8zM95.1 216.3h.8v.8h-.8zM121.0 210.4h.8v.8h-.8zM99.4 212.4h.8v.8h-.8zM110.2 204.9h.8v.8h-.8zM116.5 207.3h.8v.8h-.8zM102.5 211.4h.8v.8h-.8zM91.7 200.5h.8v.8h-.8zM110.0 202.6h.8v.8h-.8zM111.1 209.2h.8v.8h-.8zM101.6 198.9h.8v.8h-.8zM102.4 208.2h.8v.8h-.8zM120.4 197.9h.8v.8h-.8zM110.6 209.2h.8v.8h-.8zM106.1 208.1h.8v.8h-.8zM104.6 204.1h.8v.8h-.8zM113.6 201.6h.8v.8h-.8zM112.7 204.5h.8v.8h-.8zM109.6 192.8h.8v.8h-.8zM95.3 205.2h.8v.8h-.8zM107.3 208.7h.8v.8h-.8zM104.2 216.0h.8v.8h-.8zM112.4 204.5h.8v.8h-.8zM125.2 206.7h.8v.8h-.8zM122.8 217.2h.8v.8h-.8zM119.1 219.5h.8v.8h-.8zM112.9 204.6h.8v.8h-.8zM107.8 214.9h.8v.8h-.8zM115.5 215.8h.8v.8h-.8zM106.0 211.3h.8v.8h-.8zM107.6 201.2h.8v.8h-.8zM101.7 201.5h.8v.8h-.8zM111.0 211.7h.8v.8h-.8zM110.7 223.5h.8v.8h-.8zM133.2 206.7h.8v.8h-.8zM118.1 218.4h.8v.8h-.8zM107.2 220.6h.8v.8h-.8zM120.7 199.5h.8v.8h-.8zM106.1 203.8h.8v.8h-.8zM123.4 218.0h.8v.8h-.8zM120.7 214.4h.8v.8h-.8zM98.9 207.8h.8v.8h-.8zM110.7 212.1h.8v.8h-.8zM110.2 203.6h.8v.8h-.8zM115.0 224.7h.8v.8h-.8zM119.9 200.1h.8v.8h-.8zM100.2 195.8h.8v.8h-.8zM103.1 208.9h.8v.8h-.8zM115.1 217.6h.8v.8h-.8zM122.9 204.6h.8v.8h-.8zM98.5 207.5h.8v.8h-.8zM93.5 201.0h.8v.8h-.8zM124.9 207.4h.8v.8h-.8zM121.4 201.0h.8v.8h-.8zM124.2 201.1h.8v.8h-.8zM100.3 198.0h.8v.8h-.8zM109.3 204.2h.8v.8h-.8zM114.2 220.4h.8v.8h-.8zM116.7 207.5h.8v.8h-.8zM110.2 209.2h.8v.8h-.8zM111.0 222.9h.8v.8h-.8zM123.3 203.6h.8v.8h-.8zM106.5 201.2h.8v.8h-.8zM105.2 211.4h.8v.8h-.8zM106.6 199.6h.8v.8h-.8zM105.7 210.1h.8v.8h-.8zM113.1 215.6h.8v.8h-.8zM109.2 200.6h.8v.8h-.8zM106.5 204.4h.8v.8h-.8zM128.1 219.3h.8v.8h-.8zM115.1 200.7h.8v.8h-.8zM107.7 203.3h.8v.8h-.8zM126.2 209.5h.8v.8h-.8zM105.2 205.7h.8v.8h-.8zM111.6 202.1h.8v.8h-.8zM110.5 218.6h.8v.8h-.8zM105.0 204.0h.8v.8h-.8zM107.2 210.1h.8v.8h-.8zM112.6 205.1h.8v.8h-.8zM95.1 206.3h.8v.8h-.8zM107.1 198.6h.8v.8h-.8zM114.5 214.1h.8v.8h-.8zM114.8 205.0h.8v.8h-.8zM115.0 216.4h.8v.8h-.8zM119.2 204.6h.8v.8h-.8zM109.9 211.1h.8v.8h-.8zM110.2 208.6h.8v.8h-.8zM111.6 203.4h.8v.8h-.8zM116.6 206.9h.8v.8h-.8zM108.2 199.1h.8v.8h-.8zM128.9 208.2h.8v.8h-.8zM98.9 190.0h.8v.8h-.8zM118.8 209.0h.8v.8h-.8zM117.4 217.0h.8v.8h-.8zM98.5 213.9h.8v.8h-.8zM118.8 213.6h.8v.8h-.8zM117.9 205.0h.8v.8h-.8zM104.2 211.2h.8v.8h-.8zM138.1 205.2h.8v.8h-.8zM119.7 207.3h.8v.8h-.8zM107.8 207.2h.8v.8h-.8zM103.1 214.1h.8v.8h-.8zM114.5 210.9h.8v.8h-.8zM112.3 213.5h.8v.8h-.8zM95.4 201.5h.8v.8h-.8zM99.7 212.5h.8v.8h-.8zM103.4 211.1h.8v.8h-.8zM107.0 192.8h.8v.8h-.8zM107.4 196.0h.8v.8h-.8zM103.9 208.2h.8v.8h-.8zM118.9 203.4h.8v.8h-.8zM122.4 207.7h.8v.8h-.8zM112.4 203.6h.8v.8h-.8zM86.5 217.9h.8v.8h-.8zM109.8 195.1h.8v.8h-.8zM118.0 198.7h.8v.8h-.8zM110.6 201.3h.8v.8h-.8zM114.7 198.7h.8v.8h-.8zM112.7 204.0h.8v.8h-.8zM94.5 207.7h.8v.8h-.8zM118.6 210.3h.8v.8h-.8zM133.0 200.8h.8v.8h-.8zM131.3 188.9h.8v.8h-.8zM131.6 194.4h.8v.8h-.8zM122.6 204.3h.8v.8h-.8zM136.6 192.9h.8v.8h-.8zM128.3 192.8h.8v.8h-.8zM137.3 195.2h.8v.8h-.8zM121.4 200.1h.8v.8h-.8zM113.9 193.4h.8v.8h-.8zM124.3 183.4h.8v.8h-.8zM127.1 191.1h.8v.8h-.8zM121.3 194.1h.8v.8h-.8zM130.6 194.4h.8v.8h-.8zM117.5 194.9h.8v.8h-.8zM130.5 188.9h.8v.8h-.8zM123.3 205.6h.8v.8h-.8zM123.7 192.1h.8v.8h-.8zM133.8 210.4h.8v.8h-.8zM131.4 199.6h.8v.8h-.8zM116.8 194.5h.8v.8h-.8zM124.5 190.4h.8v.8h-.8zM109.8 188.9h.8v.8h-.8zM122.8 196.0h.8v.8h-.8zM126.0 181.4h.8v.8h-.8zM109.6 196.0h.8v.8h-.8zM135.0 188.8h.8v.8h-.8zM130.1 197.9h.8v.8h-.8zM134.5 201.0h.8v.8h-.8zM121.6 194.6h.8v.8h-.8zM131.0 197.3h.8v.8h-.8zM125.9 191.5h.8v.8h-.8zM111.2 191.0h.8v.8h-.8zM116.0 199.1h.8v.8h-.8zM118.6 189.2h.8v.8h-.8zM131.2 198.5h.8v.8h-.8zM123.8 198.0h.8v.8h-.8zM130.6 193.6h.8v.8h-.8zM119.4 193.7h.8v.8h-.8zM113.2 191.9h.8v.8h-.8zM126.0 191.1h.8v.8h-.8zM121.5 203.8h.8v.8h-.8zM132.2 202.4h.8v.8h-.8zM121.4 194.3h.8v.8h-.8zM112.0 196.9h.8v.8h-.8zM126.7 199.4h.8v.8h-.8zM124.9 187.8h.8v.8h-.8zM119.9 194.0h.8v.8h-.8zM118.0 184.1h.8v.8h-.8zM111.3 183.3h.8v.8h-.8zM116.6 189.9h.8v.8h-.8zM132.5 196.8h.8v.8h-.8zM120.3 202.8h.8v.8h-.8zM132.7 198.0h.8v.8h-.8zM116.3 198.2h.8v.8h-.8zM122.4 185.2h.8v.8h-.8zM119.5 184.7h.8v.8h-.8zM121.0 189.5h.8v.8h-.8zM128.9 206.0h.8v.8h-.8zM107.2 180.3h.8v.8h-.8zM128.7 184.4h.8v.8h-.8zM128.4 194.0h.8v.8h-.8zM123.0 200.8h.8v.8h-.8zM123.6 182.7h.8v.8h-.8zM121.3 191.0h.8v.8h-.8zM128.3 185.7h.8v.8h-.8zM123.5 202.6h.8v.8h-.8zM116.5 195.9h.8v.8h-.8zM124.2 195.2h.8v.8h-.8zM130.4 194.7h.8v.8h-.8zM125.9 192.3h.8v.8h-.8zM123.2 194.1h.8v.8h-.8zM124.6 189.3h.8v.8h-.8zM119.2 186.4h.8v.8h-.8zM119.5 185.0h.8v.8h-.8zM108.5 189.4h.8v.8h-.8zM121.6 187.6h.8v.8h-.8zM130.6 200.8h.8v.8h-.8zM116.1 195.0h.8v.8h-.8zM129.9 198.4h.8v.8h-.8zM124.3 201.3h.8v.8h-.8zM124.1 191.7h.8v.8h-.8zM126.6 184.3h.8v.8h-.8zM128.4 188.5h.8v.8h-.8zM122.7 200.4h.8v.8h-.8zM116.6 189.4h.8v.8h-.8zM136.4 193.9h.8v.8h-.8zM123.5 189.4h.8v.8h-.8zM117.1 191.1h.8v.8h-.8zM124.4 192.0h.8v.8h-.8zM132.2 185.4h.8v.8h-.8zM112.2 186.4h.8v.8h-.8zM133.1 202.3h.8v.8h-.8zM122.0 202.2h.8v.8h-.8zM128.1 191.1h.8v.8h-.8zM122.2 201.7h.8v.8h-.8zM132.6 194.5h.8v.8h-.8zM132.8 188.0h.8v.8h-.8zM120.3 191.6h.8v.8h-.8zM124.8 198.1h.8v.8h-.8zM119.1 202.2h.8v.8h-.8zM130.1 191.8h.8v.8h-.8zM112.3 193.8h.8v.8h-.8zM121.7 190.6h.8v.8h-.8zM106.7 196.2h.8v.8h-.8zM127.5 195.9h.8v.8h-.8zM106.0 190.3h.8v.8h-.8zM114.9 184.6h.8v.8h-.8zM125.1 191.5h.8v.8h-.8zM120.3 190.3h.8v.8h-.8zM115.6 196.7h.8v.8h-.8zM119.5 192.1h.8v.8h-.8zM109.6 188.2h.8v.8h-.8zM125.5 191.4h.8v.8h-.8zM129.2 194.9h.8v.8h-.8zM128.9 196.2h.8v.8h-.8zM122.7 184.5h.8v.8h-.8zM132.4 196.3h.8v.8h-.8zM126.6 194.7h.8v.8h-.8zM130.3 195.2h.8v.8h-.8zM126.0 184.2h.8v.8h-.8zM123.3 192.2h.8v.8h-.8zM117.2 183.2h.8v.8h-.8zM103.0 190.1h.8v.8h-.8zM127.9 202.9h.8v.8h-.8zM122.2 198.5h.8v.8h-.8zM138.2 194.8h.8v.8h-.8zM107.9 185.6h.8v.8h-.8zM129.5 191.1h.8v.8h-.8zM115.8 193.4h.8v.8h-.8zM123.0 188.7h.8v.8h-.8zM116.3 187.8h.8v.8h-.8zM122.8 187.5h.8v.8h-.8zM129.7 189.7h.8v.8h-.8zM124.2 189.9h.8v.8h-.8zM126.7 201.9h.8v.8h-.8zM132.8 186.8h.8v.8h-.8zM127.0 185.5h.8v.8h-.8zM122.0 196.7h.8v.8h-.8zM132.5 189.2h.8v.8h-.8zM122.2 191.8h.8v.8h-.8zM126.2 195.0h.8v.8h-.8zM120.6 192.5h.8v.8h-.8zM118.0 186.7h.8v.8h-.8zM100.2 193.0h.8v.8h-.8zM128.3 204.2h.8v.8h-.8zM114.3 184.2h.8v.8h-.8zM128.6 192.8h.8v.8h-.8zM136.8 202.8h.8v.8h-.8zM113.0 189.1h.8v.8h-.8zM129.7 188.3h.8v.8h-.8zM122.3 190.1h.8v.8h-.8zM126.5 199.4h.8v.8h-.8zM114.0 184.2h.8v.8h-.8zM123.3 194.8h.8v.8h-.8zM124.2 195.8h.8v.8h-.8zM133.9 191.7h.8v.8h-.8zM125.5 198.0h.8v.8h-.8zM120.3 198.8h.8v.8h-.8zM122.3 183.2h.8v.8h-.8zM122.6 198.8h.8v.8h-.8zM123.8 197.0h.8v.8h-.8zM126.6 200.3h.8v.8h-.8zM128.5 189.0h.8v.8h-.8zM118.7 197.8h.8v.8h-.8zM122.2 195.3h.8v.8h-.8zM137.4 189.3h.8v.8h-.8zM135.3 204.5h.8v.8h-.8zM126.5 188.9h.8v.8h-.8zM125.2 187.0h.8v.8h-.8zM121.3 195.2h.8v.8h-.8zM130.9 191.2h.8v.8h-.8zM119.2 194.4h.8v.8h-.8zM124.0 191.7h.8v.8h-.8zM119.6 194.0h.8v.8h-.8zM118.4 197.1h.8v.8h-.8zM123.4 192.9h.8v.8h-.8zM123.2 198.7h.8v.8h-.8zM118.7 197.4h.8v.8h-.8zM122.6 187.5h.8v.8h-.8zM123.6 198.8h.8v.8h-.8zM119.6 196.2h.8v.8h-.8zM118.1 192.7h.8v.8h-.8zM122.1 200.1h.8v.8h-.8zM128.5 205.2h.8v.8h-.8zM131.5 200.2h.8v.8h-.8zM124.5 184.0h.8v.8h-.8zM121.1 195.4h.8v.8h-.8zM122.9 192.2h.8v.8h-.8zM137.7 195.2h.8v.8h-.8zM130.1 197.2h.8v.8h-.8zM115.9 189.1h.8v.8h-.8zM122.7 203.6h.8v.8h-.8zM119.1 193.8h.8v.8h-.8zM120.4 192.5h.8v.8h-.8zM110.3 194.8h.8v.8h-.8zM123.3 198.4h.8v.8h-.8zM112.8 198.1h.8v.8h-.8zM118.7 196.1h.8v.8h-.8zM134.7 195.9h.8v.8h-.8zM130.7 196.0h.8v.8h-.8zM115.3 181.6h.8v.8h-.8zM116.2 198.0h.8v.8h-.8zM108.8 187.3h.8v.8h-.8zM115.7 202.9h.8v.8h-.8zM121.1 204.3h.8v.8h-.8zM115.2 182.9h.8v.8h-.8zM128.9 196.7h.8v.8h-.8zM122.7 211.7h.8v.8h-.8zM119.1 187.0h.8v.8h-.8zM136.5 199.2h.8v.8h-.8zM128.5 193.1h.8v.8h-.8zM123.7 191.7h.8v.8h-.8zM137.2 195.0h.8v.8h-.8zM133.1 195.7h.8v.8h-.8zM117.8 196.7h.8v.8h-.8zM125.6 188.6h.8v.8h-.8zM119.8 195.5h.8v.8h-.8zM112.2 185.7h.8v.8h-.8zM137.6 200.3h.8v.8h-.8zM134.6 198.2h.8v.8h-.8zM113.5 185.6h.8v.8h-.8zM126.9 195.0h.8v.8h-.8zM110.6 185.1h.8v.8h-.8zM131.3 189.8h.8v.8h-.8zM122.7 200.6h.8v.8h-.8zM120.9 180.8h.8v.8h-.8zM132.7 199.3h.8v.8h-.8zM123.2 197.7h.8v.8h-.8zM121.2 188.8h.8v.8h-.8zM130.1 202.0h.8v.8h-.8zM120.8 198.4h.8v.8h-.8zM129.8 186.5h.8v.8h-.8zM123.2 196.6h.8v.8h-.8zM129.5 197.8h.8v.8h-.8zM127.9 189.6h.8v.8h-.8zM118.9 226.2h.8v.8h-.8zM120.9 219.7h.8v.8h-.8zM103.8 225.7h.8v.8h-.8zM89.0 225.2h.8v.8h-.8zM116.9 220.6h.8v.8h-.8zM103.6 226.7h.8v.8h-.8zM92.2 224.0h.8v.8h-.8zM107.7 228.0h.8v.8h-.8zM84.5 222.7h.8v.8h-.8zM108.3 227.5h.8v.8h-.8zM129.7 232.8h.8v.8h-.8zM117.5 229.0h.8v.8h-.8zM101.4 221.9h.8v.8h-.8zM107.4 223.4h.8v.8h-.8zM101.6 215.8h.8v.8h-.8zM119.6 224.3h.8v.8h-.8zM112.1 219.6h.8v.8h-.8zM103.1 225.6h.8v.8h-.8zM97.0 215.0h.8v.8h-.8zM107.2 220.9h.8v.8h-.8zM125.6 225.5h.8v.8h-.8zM98.1 227.0h.8v.8h-.8zM117.1 217.0h.8v.8h-.8zM116.2 223.1h.8v.8h-.8zM125.1 228.9h.8v.8h-.8zM111.7 225.9h.8v.8h-.8zM138.2 211.6h.8v.8h-.8zM132.5 220.6h.8v.8h-.8zM109.3 227.6h.8v.8h-.8zM110.4 226.2h.8v.8h-.8zM100.5 227.3h.8v.8h-.8zM96.2 229.8h.8v.8h-.8zM121.5 225.6h.8v.8h-.8zM109.3 229.2h.8v.8h-.8zM107.5 216.3h.8v.8h-.8zM120.2 223.6h.8v.8h-.8zM123.2 221.9h.8v.8h-.8zM112.2 232.4h.8v.8h-.8zM109.9 228.0h.8v.8h-.8zM113.4 229.8h.8v.8h-.8zM136.5 222.0h.8v.8h-.8zM87.9 226.4h.8v.8h-.8zM98.7 228.5h.8v.8h-.8zM117.8 219.5h.8v.8h-.8zM113.9 224.0h.8v.8h-.8zM126.6 223.9h.8v.8h-.8zM127.6 223.6h.8v.8h-.8zM135.4 221.6h.8v.8h-.8zM102.9 218.9h.8v.8h-.8zM119.4 227.2h.8v.8h-.8zM109.5 226.3h.8v.8h-.8zM123.6 230.7h.8v.8h-.8zM114.4 224.7h.8v.8h-.8zM122.6 221.8h.8v.8h-.8zM103.5 218.0h.8v.8h-.8zM114.2 225.5h.8v.8h-.8zM106.2 223.5h.8v.8h-.8zM100.2 232.8h.8v.8h-.8zM125.4 220.6h.8v.8h-.8zM115.7 218.2h.8v.8h-.8zM125.1 223.9h.8v.8h-.8zM100.6 220.7h.8v.8h-.8zM89.3 232.0h.8v.8h-.8zM104.7 225.6h.8v.8h-.8zM110.5 223.1h.8v.8h-.8zM121.6 225.0h.8v.8h-.8zM124.7 231.2h.8v.8h-.8zM126.6 220.4h.8v.8h-.8zM130.4 227.4h.8v.8h-.8zM120.9 218.6h.8v.8h-.8zM113.6 224.0h.8v.8h-.8zM103.3 221.8h.8v.8h-.8zM120.4 226.6h.8v.8h-.8zM106.4 225.8h.8v.8h-.8zM102.8 230.9h.8v.8h-.8zM119.2 228.4h.8v.8h-.8zM114.9 222.1h.8v.8h-.8zM122.4 218.6h.8v.8h-.8zM103.9 221.1h.8v.8h-.8zM126.1 223.0h.8v.8h-.8zM116.5 223.9h.8v.8h-.8zM110.3 221.3h.8v.8h-.8zM103.4 230.3h.8v.8h-.8zM99.6 229.6h.8v.8h-.8zM96.2 223.7h.8v.8h-.8zM128.8 222.6h.8v.8h-.8zM95.6 223.9h.8v.8h-.8zM119.7 224.8h.8v.8h-.8zM109.4 224.9h.8v.8h-.8zM105.5 217.1h.8v.8h-.8zM106.7 222.9h.8v.8h-.8zM111.2 215.9h.8v.8h-.8zM123.0 225.2h.8v.8h-.8zM118.9 228.3h.8v.8h-.8zM112.3 219.8h.8v.8h-.8zM96.2 225.8h.8v.8h-.8zM91.3 222.0h.8v.8h-.8zM134.3 221.6h.8v.8h-.8zM93.8 229.4h.8v.8h-.8zM125.5 227.4h.8v.8h-.8zM94.6 222.9h.8v.8h-.8zM121.0 227.0h.8v.8h-.8zM123.3 224.1h.8v.8h-.8zM115.2 227.3h.8v.8h-.8zM123.7 220.6h.8v.8h-.8zM95.9 224.7h.8v.8h-.8zM97.9 223.1h.8v.8h-.8zM110.0 218.1h.8v.8h-.8zM112.3 233.3h.8v.8h-.8zM111.3 229.0h.8v.8h-.8zM117.8 221.2h.8v.8h-.8zM103.6 217.8h.8v.8h-.8zM87.2 221.5h.8v.8h-.8zM117.1 220.9h.8v.8h-.8zM109.6 222.0h.8v.8h-.8zM121.9 217.6h.8v.8h-.8zM136.8 221.0h.8v.8h-.8zM113.2 225.3h.8v.8h-.8zM119.1 227.0h.8v.8h-.8zM101.7 215.3h.8v.8h-.8zM123.0 225.0h.8v.8h-.8zM116.3 220.2h.8v.8h-.8zM115.2 219.9h.8v.8h-.8zM123.0 223.5h.8v.8h-.8zM98.9 221.7h.8v.8h-.8zM118.9 228.4h.8v.8h-.8zM117.7 228.5h.8v.8h-.8zM131.0 223.5h.8v.8h-.8zM91.0 221.9h.8v.8h-.8zM111.2 233.8h.8v.8h-.8zM138.1 234.2h.8v.8h-.8zM107.5 226.9h.8v.8h-.8zM107.1 224.3h.8v.8h-.8zM133.3 230.0h.8v.8h-.8zM113.6 222.4h.8v.8h-.8zM103.8 233.9h.8v.8h-.8zM105.3 224.2h.8v.8h-.8zM107.6 230.4h.8v.8h-.8zM102.3 222.5h.8v.8h-.8zM102.7 225.3h.8v.8h-.8zM114.3 222.8h.8v.8h-.8zM112.7 225.1h.8v.8h-.8zM117.9 230.0h.8v.8h-.8zM112.6 220.6h.8v.8h-.8zM98.0 223.5h.8v.8h-.8zM120.9 227.7h.8v.8h-.8zM115.1 222.7h.8v.8h-.8zM109.0 217.8h.8v.8h-.8zM113.2 221.8h.8v.8h-.8zM110.7 229.8h.8v.8h-.8zM121.3 233.0h.8v.8h-.8zM124.8 227.6h.8v.8h-.8zM108.5 218.1h.8v.8h-.8zM112.0 223.4h.8v.8h-.8zM99.2 225.4h.8v.8h-.8zM110.2 227.8h.8v.8h-.8zM117.8 229.9h.8v.8h-.8zM122.4 230.6h.8v.8h-.8zM114.2 232.3h.8v.8h-.8zM111.2 220.3h.8v.8h-.8zM103.8 229.9h.8v.8h-.8zM116.4 214.9h.8v.8h-.8zM129.8 198.4h.8v.8h-.8zM93.6 221.1h.8v.8h-.8zM117.6 198.5h.8v.8h-.8zM129.9 221.3h.8v.8h-.8zM85.8 207.6h.8v.8h-.8zM122.4 229.7h.8v.8h-.8zM122.7 192.7h.8v.8h-.8zM92.2 232.8h.8v.8h-.8zM130.9 203.1h.8v.8h-.8zM106.5 221.9h.8v.8h-.8zM119.2 194.2h.8v.8h-.8zM110.5 233.6h.8v.8h-.8zM108.5 180.8h.8v.8h-.8zM119.6 200.0h.8v.8h-.8zM120.0 195.5h.8v.8h-.8zM127.2 207.1h.8v.8h-.8zM135.1 221.9h.8v.8h-.8zM110.1 233.3h.8v.8h-.8zM101.6 205.6h.8v.8h-.8zM104.3 210.3h.8v.8h-.8zM114.9 214.7h.8v.8h-.8zM94.2 195.7h.8v.8h-.8zM90.9 229.6h.8v.8h-.8zM92.6 214.5h.8v.8h-.8zM111.0 183.8h.8v.8h-.8zM129.3 207.6h.8v.8h-.8zM114.6 221.1h.8v.8h-.8zM100.7 201.1h.8v.8h-.8zM91.8 228.1h.8v.8h-.8zM104.9 226.5h.8v.8h-.8zM130.5 202.1h.8v.8h-.8zM116.6 192.8h.8v.8h-.8zM110.3 197.1h.8v.8h-.8zM134.8 216.6h.8v.8h-.8zM133.0 193.4h.8v.8h-.8zM95.3 179.8h.8v.8h-.8zM116.0 195.9h.8v.8h-.8zM99.0 204.6h.8v.8h-.8zM115.0 221.1h.8v.8h-.8zM132.4 190.4h.8v.8h-.8zM110.9 230.4h.8v.8h-.8zM101.4 210.2h.8v.8h-.8zM108.3 221.0h.8v.8h-.8zM123.8 201.7h.8v.8h-.8zM98.5 214.4h.8v.8h-.8zM135.0 201.8h.8v.8h-.8zM111.3 193.3h.8v.8h-.8zM132.4 182.7h.8v.8h-.8zM108.1 212.8h.8v.8h-.8zM90.0 216.4h.8v.8h-.8zM98.5 191.3h.8v.8h-.8zM102.5 230.9h.8v.8h-.8zM132.2 196.3h.8v.8h-.8zM85.7 185.1h.8v.8h-.8z" fill="#000" fill-opacity="0.8"/>
<rect x="93.20" y="198.50" width="30.40" height="21.60" fill="none" stroke="#fff" stroke-opacity="0.8" stroke-width="0.9"/>
<rect x="92.30" y="197.60" width="32.20" height="23.40" fill="none" stroke="#3a3a3a" stroke-width="0.8"/>
<text class="h" x="86.80" y="187.80" font-size="6.8" font-weight="normal" text-anchor="start" fill="#111" textLength="19.00" lengthAdjust="spacingAndGlyphs">62.0%</text>
<text x="104.40" y="104.70" font-size="8.2" font-weight="normal" text-anchor="start" fill="#111" textLength="18.00" lengthAdjust="spacingAndGlyphs">Mg<tspan font-size="5" dx="0.5" dy="-3.4">2+</tspan></text>
<text class="h" transform="translate(152.60 134.50) rotate(-90)" x="0" y="0" font-size="8.4" font-weight="normal" text-anchor="middle" fill="#111" textLength="43.00" lengthAdjust="spacingAndGlyphs">CD18<tspan font-size="5" dx="0.3" dy="-3" letter-spacing="0.3">+/+</tspan><tspan dy="3"> DC</tspan></text>
<text class="h" transform="translate(152.40 208.00) rotate(-90)" x="0" y="0" font-size="8.4" font-weight="normal" text-anchor="middle" fill="#111" textLength="41.50" lengthAdjust="spacingAndGlyphs">CD18<tspan font-size="5" dx="0.3" dy="-3" letter-spacing="0.4">-/-</tspan><tspan dy="3"> DC</tspan></text>
<path d="M7.4 118V165.6M7.4 187.2V238.7" stroke="#111" stroke-width="1.3"/>
<path d="M7.4 108.6L9.9 118.4L4.9 118.4Z" fill="#111"/>
<path d="M11.7 242.8H58.7M93.8 242.8H132" stroke="#111" stroke-width="1.3"/>
<path d="M142.3 242.8L131.7 240.2L131.7 245.4Z" fill="#111"/>
<text class="h" transform="translate(10.60 176.80) rotate(-90)" x="0" y="0" font-size="8.4" font-weight="normal" text-anchor="middle" fill="#111" textLength="17.60" lengthAdjust="spacingAndGlyphs">CD3</text>
<text x="65.00" y="245.80" font-size="8.6" font-weight="normal" text-anchor="start" fill="#111" textLength="22.50" lengthAdjust="spacingAndGlyphs">CFDA</text>
<rect x="443.50" y="94.30" width="56.00" height="45.50" fill="#a0afaa" stroke="#2a2a2a" stroke-width="1"/>
<clipPath id="c93"><rect x="444" y="94.8" width="55" height="44.500000000000014"/></clipPath>
<g clip-path="url(#c93)">
<circle cx="476.2" cy="104.7" r="3.2" fill="#d98fb0" opacity="0.7" filter="url(#bl2)"/>
<circle cx="468.6" cy="101.8" r="5.3" fill="#f2c6d6" filter="url(#bl)"/>
<circle cx="468.6" cy="101.8" r="3.60" fill="#cc3d78" filter="url(#bl)"/>
<path d="M480.42 121.00L481.02 121.81L481.55 122.68L482.30 123.66L479.43 123.94L480.70 125.06L480.66 125.91L478.86 126.09L477.52 126.28L480.84 128.79L478.06 128.17L477.79 128.88L479.37 131.01L477.90 130.93L477.07 131.27L477.47 132.82L474.78 131.04L476.07 133.81L474.58 133.16L473.29 132.56L473.88 135.05L473.65 136.46L471.59 133.94L471.54 135.86L470.33 134.73L470.09 136.71L469.25 136.77L468.12 134.76L467.67 137.38L466.80 136.68L466.00 136.77L465.17 137.30L464.51 135.57L463.57 136.80L462.68 137.10L462.68 133.75L461.12 136.47L461.01 134.38L460.21 134.39L460.16 132.80L458.48 134.42L458.70 132.58L456.76 134.10L457.59 131.70L456.26 132.14L456.12 131.18L454.91 131.28L455.65 129.64L455.19 129.09L452.74 129.87L452.18 129.22L452.37 128.15L450.58 128.07L453.01 126.14L450.12 126.31L452.68 124.68L449.23 124.67L450.56 123.52L450.61 122.67L449.15 121.91L450.03 121.00L450.18 120.15L453.36 119.63L452.29 118.76L453.63 118.29L453.43 117.53L453.58 116.84L451.43 115.24L454.38 115.67L454.03 114.72L453.63 113.65L452.76 112.14L452.78 111.11L454.05 111.04L456.03 111.76L455.54 110.22L455.65 109.16L457.96 110.78L457.01 108.26L458.40 108.95L458.62 107.83L459.20 107.25L459.95 107.00L460.91 107.35L461.60 107.05L462.69 108.28L463.11 106.97L464.05 108.31L464.55 106.76L465.26 106.42L466.00 105.34L466.72 106.80L467.30 108.28L468.28 106.16L468.78 107.51L470.06 105.39L470.42 106.97L471.14 107.21L472.74 105.40L472.55 107.76L473.11 108.31L473.73 108.75L474.63 108.77L474.19 110.58L475.91 109.66L477.51 109.14L476.97 110.82L478.01 110.98L479.15 111.16L479.28 112.12L479.38 113.04L480.04 113.63L480.46 114.37L478.67 115.99L479.83 116.37L479.54 117.26L479.41 118.06L480.82 118.58L479.90 119.50L481.19 120.18Z" fill="#76e24a" filter="url(#bl)"/>
<circle cx="466" cy="121" r="12" fill="#7ef840" filter="url(#bl2)"/>
<circle cx="485.4" cy="114.5" r="5.6" fill="#f2c6d6" filter="url(#bl)"/>
<circle cx="485.4" cy="114.5" r="3.81" fill="#d23f7c" filter="url(#bl)"/>
<circle cx="493" cy="104.7" r="3" fill="#5fd35a" filter="url(#bl)"/><circle cx="491" cy="102" r="1.1" fill="#1d3b1d"/>
</g>
<text x="455.1" y="92.4" font-size="8.4" fill="#111" textLength="34.6" lengthAdjust="spacingAndGlyphs">untreated</text>
<rect x="444.30" y="151.70" width="55.20" height="44.90" fill="#a0afaa" stroke="#2a2a2a" stroke-width="1"/>
<clipPath id="c151"><rect x="444.8" y="152.2" width="54.19999999999999" height="43.900000000000006"/></clipPath>
<g clip-path="url(#c151)">
<path d="M492.57 170.00L491.80 170.99L491.55 171.96L493.37 173.27L492.57 174.25L491.36 175.06L491.15 176.15L489.28 176.59L489.03 177.69L486.18 177.33L485.83 178.33L484.75 178.86L483.69 179.39L483.23 180.60L481.86 180.86L481.55 182.82L480.37 183.80L478.38 182.85L477.15 183.99L475.53 183.69L474.00 183.14L472.37 184.61L471.05 183.11L469.91 181.98L468.24 182.47L467.50 181.05L465.44 181.82L465.16 180.16L464.30 179.40L462.88 179.17L461.52 178.78L460.30 178.24L458.48 177.94L458.34 176.76L458.78 175.46L459.29 174.29L458.66 173.51L456.17 173.01L457.23 171.87L456.14 170.99L457.44 170.00L457.05 169.06L454.28 167.80L454.89 166.77L455.86 165.85L456.28 164.83L457.69 164.15L458.48 163.31L460.06 162.87L459.58 161.33L461.83 161.43L463.80 161.59L464.10 160.41L466.09 160.92L467.35 160.81L467.87 159.57L468.77 158.66L470.51 159.77L471.30 158.00L472.75 158.80L474.00 158.72L475.27 158.66L476.71 157.96L478.43 157.00L479.79 157.45L481.77 156.80L482.50 158.26L484.10 158.39L485.36 158.99L488.07 158.40L489.11 159.36L488.53 161.26L489.32 162.17L489.37 163.37L490.70 164.01L489.06 165.61L489.32 166.49L490.50 167.21L490.46 168.16L492.60 168.97Z" fill="#8ee85c" filter="url(#bl)"/>
<ellipse cx="476" cy="168" rx="12" ry="8" fill="#9dff66" filter="url(#bl2)"/>
<circle cx="458.6" cy="182.2" r="4.6" fill="#f2c6d6" filter="url(#bl)"/>
<circle cx="458.6" cy="182.2" r="3.13" fill="#e592b4" filter="url(#bl)"/>
<circle cx="472.3" cy="184.2" r="5.5" fill="#f2c6d6" filter="url(#bl)"/>
<circle cx="472.3" cy="184.2" r="3.74" fill="#e0408e" filter="url(#bl)"/>
</g>
<text x="453" y="149.2" font-size="8.4" fill="#111" textLength="37.5" lengthAdjust="spacingAndGlyphs">1mM Mg<tspan font-size="5.2" dy="-3.2">2+</tspan></text>
<rect x="444.50" y="208.80" width="55.90" height="45.10" fill="#a0afaa" stroke="#2a2a2a" stroke-width="1"/>
<clipPath id="c208"><rect x="445" y="209.3" width="54.89999999999998" height="44.099999999999994"/></clipPath>
<g clip-path="url(#c208)">
<path d="M466.0 213.0L471.0 212.5L477.0 216.0L481.0 221.0L485.0 225.0L489.0 230.0L488.0 236.0L484.0 241.0L482.0 247.0L476.0 249.0L470.0 246.0L465.0 240.0L461.0 236.0L459.0 229.0L460.0 222.0L462.0 216.0Z" fill="#78e646" filter="url(#bl2)"/>
<ellipse cx="472" cy="229" rx="10" ry="11" fill="#80f844" filter="url(#bl2)"/>
<circle cx="458.6" cy="229.4" r="5.2" fill="#f2c6d6" filter="url(#bl)"/>
<circle cx="458.6" cy="229.4" r="3.54" fill="#d83a6a" filter="url(#bl)"/>
<circle cx="451.8" cy="212.8" r="1" fill="#e8eeee" filter="url(#bl)"/><circle cx="493.8" cy="232.4" r="0.9" fill="#e8eeee" filter="url(#bl)"/>
</g>
<text x="453.6" y="206.5" font-size="8.4" fill="#111" textLength="38" lengthAdjust="spacingAndGlyphs">5mM Mg<tspan font-size="5.2" dy="-3.2">2+</tspan></text>
</svg></body></html>
